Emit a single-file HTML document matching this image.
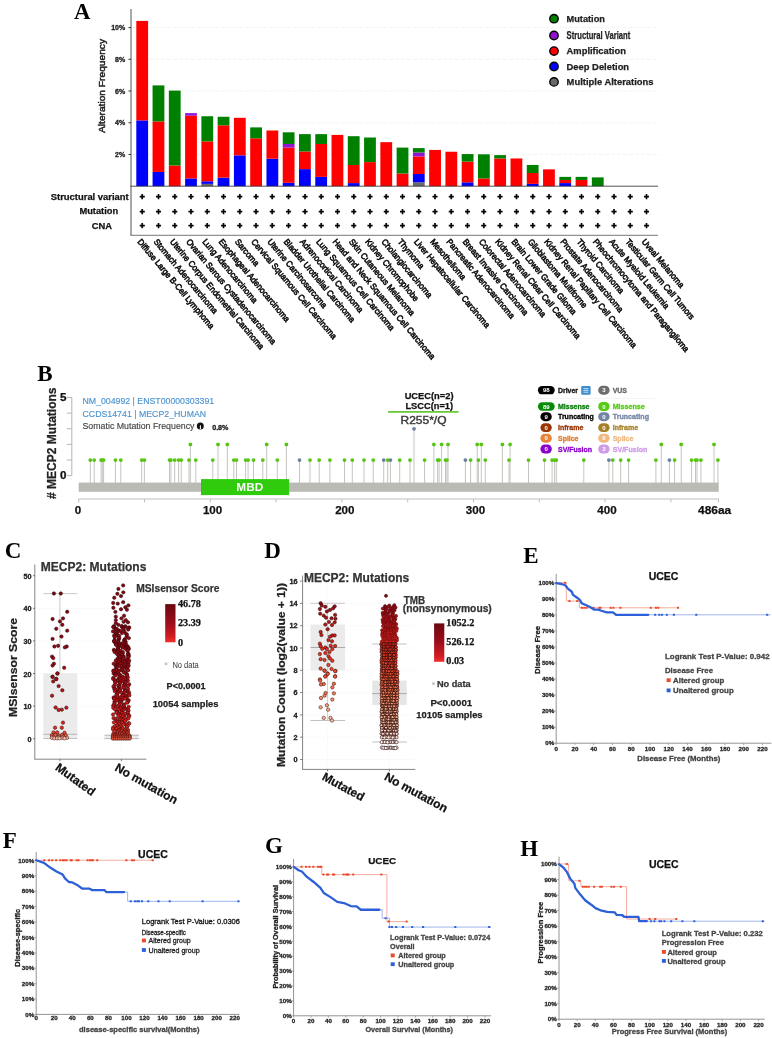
<!DOCTYPE html>
<html lang="en"><head><meta charset="utf-8"><title>MECP2 alteration figure</title>
<style>html,body{margin:0;padding:0;background:#fff}svg{display:block;font-family:"Liberation Sans",sans-serif;filter:blur(0.45px)}</style>
</head><body>
<svg width="772" height="1038" viewBox="0 0 772 1038">
<rect width="772" height="1038" fill="#fff"/>
<g id="panelA">
<text x="74" y="18.6" font-size="22.8" font-weight="bold" font-family="Liberation Serif, serif">A</text>
<line x1="131" y1="154.48" x2="660" y2="154.48" stroke="#f0f0f0" stroke-width="0.8" stroke-dasharray="4 2"/>
<line x1="131" y1="122.76" x2="660" y2="122.76" stroke="#f0f0f0" stroke-width="0.8" stroke-dasharray="4 2"/>
<line x1="131" y1="91.04" x2="660" y2="91.04" stroke="#f0f0f0" stroke-width="0.8" stroke-dasharray="4 2"/>
<line x1="131" y1="59.32" x2="660" y2="59.32" stroke="#f0f0f0" stroke-width="0.8" stroke-dasharray="4 2"/>
<line x1="131" y1="27.6" x2="660" y2="27.6" stroke="#f0f0f0" stroke-width="0.8" stroke-dasharray="4 2"/>
<rect x="136.3" y="120.4" width="11.8" height="65.8" fill="#0000ff"/>
<rect x="136.3" y="20.9" width="11.8" height="99.5" fill="#ff0000"/>
<rect x="152.57" y="171.95" width="11.8" height="14.25" fill="#0000ff"/>
<rect x="152.57" y="121.43" width="11.8" height="50.52" fill="#ff0000"/>
<rect x="152.57" y="85.4" width="11.8" height="36.03" fill="#008000"/>
<rect x="168.84" y="165.47" width="11.8" height="20.73" fill="#ff0000"/>
<rect x="168.84" y="90.6" width="11.8" height="74.87" fill="#008000"/>
<rect x="185.11" y="178.43" width="11.8" height="7.77" fill="#0000ff"/>
<rect x="185.11" y="115.73" width="11.8" height="62.69" fill="#ff0000"/>
<rect x="185.11" y="113.14" width="11.8" height="2.59" fill="#9413d3"/>
<rect x="201.38" y="183.87" width="11.8" height="2.33" fill="#696969"/>
<rect x="201.38" y="181.28" width="11.8" height="2.59" fill="#0000ff"/>
<rect x="201.38" y="141.38" width="11.8" height="39.9" fill="#ff0000"/>
<rect x="201.38" y="116.25" width="11.8" height="25.13" fill="#008000"/>
<rect x="217.65" y="177.65" width="11.8" height="8.55" fill="#0000ff"/>
<rect x="217.65" y="125.32" width="11.8" height="52.33" fill="#ff0000"/>
<rect x="217.65" y="116.77" width="11.8" height="8.55" fill="#008000"/>
<rect x="233.92" y="155.37" width="11.8" height="30.83" fill="#0000ff"/>
<rect x="233.92" y="117.81" width="11.8" height="37.56" fill="#ff0000"/>
<rect x="250.19" y="138.27" width="11.8" height="47.93" fill="#ff0000"/>
<rect x="250.19" y="127.39" width="11.8" height="10.88" fill="#008000"/>
<rect x="266.46" y="158.74" width="11.8" height="27.46" fill="#0000ff"/>
<rect x="266.46" y="130.5" width="11.8" height="28.24" fill="#ff0000"/>
<rect x="282.73" y="182.83" width="11.8" height="3.37" fill="#0000ff"/>
<rect x="282.73" y="147.6" width="11.8" height="35.23" fill="#ff0000"/>
<rect x="282.73" y="143.97" width="11.8" height="3.63" fill="#9413d3"/>
<rect x="282.73" y="132.31" width="11.8" height="11.66" fill="#008000"/>
<rect x="299" y="169.1" width="11.8" height="17.1" fill="#0000ff"/>
<rect x="299" y="151.48" width="11.8" height="17.62" fill="#ff0000"/>
<rect x="299" y="134.13" width="11.8" height="17.36" fill="#008000"/>
<rect x="315.27" y="176.87" width="11.8" height="9.33" fill="#0000ff"/>
<rect x="315.27" y="143.97" width="11.8" height="32.9" fill="#ff0000"/>
<rect x="315.27" y="134.13" width="11.8" height="9.84" fill="#008000"/>
<rect x="331.54" y="134.9" width="11.8" height="51.3" fill="#ff0000"/>
<rect x="347.81" y="183.09" width="11.8" height="3.11" fill="#0000ff"/>
<rect x="347.81" y="164.96" width="11.8" height="18.13" fill="#ff0000"/>
<rect x="347.81" y="136.2" width="11.8" height="28.76" fill="#008000"/>
<rect x="364.08" y="162.11" width="11.8" height="24.09" fill="#ff0000"/>
<rect x="364.08" y="137.5" width="11.8" height="24.61" fill="#008000"/>
<rect x="380.35" y="142.16" width="11.8" height="44.04" fill="#ff0000"/>
<rect x="396.62" y="173.51" width="11.8" height="12.69" fill="#ff0000"/>
<rect x="396.62" y="147.6" width="11.8" height="25.91" fill="#008000"/>
<rect x="412.89" y="182.31" width="11.8" height="3.89" fill="#696969"/>
<rect x="412.89" y="174.02" width="11.8" height="8.29" fill="#0000ff"/>
<rect x="412.89" y="156.41" width="11.8" height="17.62" fill="#ff0000"/>
<rect x="412.89" y="152.52" width="11.8" height="3.89" fill="#9413d3"/>
<rect x="412.89" y="148.12" width="11.8" height="4.4" fill="#008000"/>
<rect x="429.16" y="149.93" width="11.8" height="36.27" fill="#ff0000"/>
<rect x="445.43" y="151.74" width="11.8" height="34.46" fill="#ff0000"/>
<rect x="461.7" y="182.31" width="11.8" height="3.89" fill="#0000ff"/>
<rect x="461.7" y="161.59" width="11.8" height="20.73" fill="#ff0000"/>
<rect x="461.7" y="154.08" width="11.8" height="7.51" fill="#008000"/>
<rect x="477.97" y="178.43" width="11.8" height="7.77" fill="#ff0000"/>
<rect x="477.97" y="154.33" width="11.8" height="24.09" fill="#008000"/>
<rect x="494.24" y="158.48" width="11.8" height="27.72" fill="#ff0000"/>
<rect x="494.24" y="155.11" width="11.8" height="3.37" fill="#008000"/>
<rect x="510.51" y="158.48" width="11.8" height="27.72" fill="#ff0000"/>
<rect x="526.78" y="183.87" width="11.8" height="2.33" fill="#0000ff"/>
<rect x="526.78" y="172.99" width="11.8" height="10.88" fill="#ff0000"/>
<rect x="526.78" y="164.96" width="11.8" height="8.03" fill="#008000"/>
<rect x="543.05" y="169.36" width="11.8" height="16.84" fill="#ff0000"/>
<rect x="559.32" y="183.09" width="11.8" height="3.11" fill="#0000ff"/>
<rect x="559.32" y="179.98" width="11.8" height="3.11" fill="#ff0000"/>
<rect x="559.32" y="176.87" width="11.8" height="3.11" fill="#008000"/>
<rect x="575.59" y="179.98" width="11.8" height="6.22" fill="#ff0000"/>
<rect x="575.59" y="176.87" width="11.8" height="3.11" fill="#008000"/>
<rect x="591.86" y="177.39" width="11.8" height="8.81" fill="#008000"/>
<line x1="131" y1="9" x2="131" y2="235.3" stroke="#333" stroke-width="0.85"/>
<line x1="130.5" y1="186.2" x2="658" y2="186.2" stroke="#333" stroke-width="0.85"/>
<line x1="130.5" y1="235.3" x2="658" y2="235.3" stroke="#555" stroke-width="0.8"/>
<line x1="128.5" y1="154.48" x2="131" y2="154.48" stroke="#333" stroke-width="1"/>
<text x="125.2" y="156.98" font-size="7" font-weight="bold" fill="#222" text-anchor="end" stroke="#222" stroke-width="0.3">2%</text>
<line x1="128.5" y1="122.76" x2="131" y2="122.76" stroke="#333" stroke-width="1"/>
<text x="125.2" y="125.26" font-size="7" font-weight="bold" fill="#222" text-anchor="end" stroke="#222" stroke-width="0.3">4%</text>
<line x1="128.5" y1="91.04" x2="131" y2="91.04" stroke="#333" stroke-width="1"/>
<text x="125.2" y="93.54" font-size="7" font-weight="bold" fill="#222" text-anchor="end" stroke="#222" stroke-width="0.3">6%</text>
<line x1="128.5" y1="59.32" x2="131" y2="59.32" stroke="#333" stroke-width="1"/>
<text x="125.2" y="61.82" font-size="7" font-weight="bold" fill="#222" text-anchor="end" stroke="#222" stroke-width="0.3">8%</text>
<line x1="128.5" y1="27.6" x2="131" y2="27.6" stroke="#333" stroke-width="1"/>
<text x="125.2" y="30.1" font-size="7" font-weight="bold" fill="#222" text-anchor="end" stroke="#222" stroke-width="0.3">10%</text>
<text x="105.3" y="86" font-size="8.9" fill="#222" text-anchor="middle" transform="rotate(-90 105.3 86)" textLength="94" lengthAdjust="spacingAndGlyphs" stroke="#222" stroke-width="0.45">Alteration Frequency</text>
<text x="50.8" y="199.8" font-size="9.4" font-weight="bold" fill="#111" textLength="77.9" lengthAdjust="spacingAndGlyphs" stroke="#111" stroke-width="0.25">Structural variant</text>
<text x="79.4" y="214.3" font-size="9.4" font-weight="bold" fill="#111" textLength="38.7" lengthAdjust="spacingAndGlyphs" stroke="#111" stroke-width="0.25">Mutation</text>
<text x="91.8" y="228.6" font-size="9.4" font-weight="bold" fill="#111" textLength="20.3" lengthAdjust="spacingAndGlyphs" stroke="#111" stroke-width="0.25">CNA</text>
<text x="142.2 158.47 174.74 191.01 207.28 223.55 239.82 256.09 272.36 288.63 304.9 321.17 337.44 353.71 369.98 386.25 402.52 418.79 435.06 451.33 467.6 483.87 500.14 516.41 532.68 548.95 565.22 581.49 597.76 614.03 630.3 646.57" y="200.35" font-size="8.6" font-weight="bold" text-anchor="middle" stroke="#000" stroke-width="0.7">++++++++++++++++++++++++++++++++</text>
<text x="142.2 158.47 174.74 191.01 207.28 223.55 239.82 256.09 272.36 288.63 304.9 321.17 337.44 353.71 369.98 386.25 402.52 418.79 435.06 451.33 467.6 483.87 500.14 516.41 532.68 548.95 565.22 581.49 597.76 614.03 630.3 646.57" y="214.85" font-size="8.6" font-weight="bold" text-anchor="middle" stroke="#000" stroke-width="0.7">++++++++++++++++++++++++++++++++</text>
<text x="142.2 158.47 174.74 191.01 207.28 223.55 239.82 256.09 272.36 288.63 304.9 321.17 337.44 353.71 369.98 386.25 402.52 418.79 435.06 451.33 467.6 483.87 500.14 516.41 532.68 548.95 565.22 581.49 597.76 614.03 630.3 646.57" y="229.35" font-size="8.6" font-weight="bold" text-anchor="middle" stroke="#000" stroke-width="0.7">++++++++++++++++++++++++++++++++</text>
<text transform="translate(136.9 241.9) rotate(50) scale(0.942 1)" font-size="8.6" fill="#111" stroke="#111" stroke-width="0.6">Diffuse Large B-Cell Lymphoma</text>
<text transform="translate(153.17 241.9) rotate(50) scale(0.942 1)" font-size="8.6" fill="#111" stroke="#111" stroke-width="0.6">Stomach Adenocarcinoma</text>
<text transform="translate(169.44 241.9) rotate(50) scale(0.942 1)" font-size="8.6" fill="#111" stroke="#111" stroke-width="0.6">Uterine Corpus Endometrial Carcinoma</text>
<text transform="translate(185.71 241.9) rotate(50) scale(0.942 1)" font-size="8.6" fill="#111" stroke="#111" stroke-width="0.6">Ovarian Serous Cystadenocarcinoma</text>
<text transform="translate(201.98 241.9) rotate(50) scale(0.942 1)" font-size="8.6" fill="#111" stroke="#111" stroke-width="0.6">Lung Adenocarcinoma</text>
<text transform="translate(218.25 241.9) rotate(50) scale(0.942 1)" font-size="8.6" fill="#111" stroke="#111" stroke-width="0.6">Esophageal Adenocarcinoma</text>
<text transform="translate(234.52 241.9) rotate(50) scale(0.942 1)" font-size="8.6" fill="#111" stroke="#111" stroke-width="0.6">Sarcoma</text>
<text transform="translate(250.79 241.9) rotate(50) scale(0.942 1)" font-size="8.6" fill="#111" stroke="#111" stroke-width="0.6">Cervical Squamous Cell Carcinoma</text>
<text transform="translate(267.06 241.9) rotate(50) scale(0.942 1)" font-size="8.6" fill="#111" stroke="#111" stroke-width="0.6">Uterine Carcinosarcoma</text>
<text transform="translate(283.33 241.9) rotate(50) scale(0.942 1)" font-size="8.6" fill="#111" stroke="#111" stroke-width="0.6">Bladder Urothelial Carcinoma</text>
<text transform="translate(299.6 241.9) rotate(50) scale(0.942 1)" font-size="8.6" fill="#111" stroke="#111" stroke-width="0.6">Adrenocortical Carcinoma</text>
<text transform="translate(315.87 241.9) rotate(50) scale(0.942 1)" font-size="8.6" fill="#111" stroke="#111" stroke-width="0.6">Lung Squamous Cell Carcinoma</text>
<text transform="translate(332.14 241.9) rotate(50) scale(0.942 1)" font-size="8.6" fill="#111" stroke="#111" stroke-width="0.6">Head and Neck Squamous Cell Carcinoma</text>
<text transform="translate(348.41 241.9) rotate(50) scale(0.942 1)" font-size="8.6" fill="#111" stroke="#111" stroke-width="0.6">Skin Cutaneous Melanoma</text>
<text transform="translate(364.68 241.9) rotate(50) scale(0.942 1)" font-size="8.6" fill="#111" stroke="#111" stroke-width="0.6">Kidney Chromophobe</text>
<text transform="translate(380.95 241.9) rotate(50) scale(0.942 1)" font-size="8.6" fill="#111" stroke="#111" stroke-width="0.6">Cholangiocarcinoma</text>
<text transform="translate(397.22 241.9) rotate(50) scale(0.942 1)" font-size="8.6" fill="#111" stroke="#111" stroke-width="0.6">Thymoma</text>
<text transform="translate(413.49 241.9) rotate(50) scale(0.942 1)" font-size="8.6" fill="#111" stroke="#111" stroke-width="0.6">Liver Hepatocellular Carcinoma</text>
<text transform="translate(429.76 241.9) rotate(50) scale(0.942 1)" font-size="8.6" fill="#111" stroke="#111" stroke-width="0.6">Mesothelioma</text>
<text transform="translate(446.03 241.9) rotate(50) scale(0.942 1)" font-size="8.6" fill="#111" stroke="#111" stroke-width="0.6">Pancreatic Adenocarcinoma</text>
<text transform="translate(462.3 241.9) rotate(50) scale(0.942 1)" font-size="8.6" fill="#111" stroke="#111" stroke-width="0.6">Breast Invasive Carcinoma</text>
<text transform="translate(478.57 241.9) rotate(50) scale(0.942 1)" font-size="8.6" fill="#111" stroke="#111" stroke-width="0.6">Colorectal Adenocarcinoma</text>
<text transform="translate(494.84 241.9) rotate(50) scale(0.942 1)" font-size="8.6" fill="#111" stroke="#111" stroke-width="0.6">Kidney Renal Clear Cell Carcinoma</text>
<text transform="translate(511.11 241.9) rotate(50) scale(0.942 1)" font-size="8.6" fill="#111" stroke="#111" stroke-width="0.6">Brain Lower Grade Glioma</text>
<text transform="translate(527.38 241.9) rotate(50) scale(0.942 1)" font-size="8.6" fill="#111" stroke="#111" stroke-width="0.6">Glioblastoma Multiforme</text>
<text transform="translate(543.65 241.9) rotate(50) scale(0.942 1)" font-size="8.6" fill="#111" stroke="#111" stroke-width="0.6">Kidney Renal Papillary Cell Carcinoma</text>
<text transform="translate(559.92 241.9) rotate(50) scale(0.942 1)" font-size="8.6" fill="#111" stroke="#111" stroke-width="0.6">Prostate Adenocarcinoma</text>
<text transform="translate(576.19 241.9) rotate(50) scale(0.942 1)" font-size="8.6" fill="#111" stroke="#111" stroke-width="0.6">Thyroid Carcinoma</text>
<text transform="translate(592.46 241.9) rotate(50) scale(0.942 1)" font-size="8.6" fill="#111" stroke="#111" stroke-width="0.6">Pheochromocytoma and Paraganglioma</text>
<text transform="translate(608.73 241.9) rotate(50) scale(0.942 1)" font-size="8.6" fill="#111" stroke="#111" stroke-width="0.6">Acute Myeloid Leukemia</text>
<text transform="translate(625 241.9) rotate(50) scale(0.942 1)" font-size="8.6" fill="#111" stroke="#111" stroke-width="0.6">Testicular Germ Cell Tumors</text>
<text transform="translate(641.27 241.9) rotate(50) scale(0.942 1)" font-size="8.6" fill="#111" stroke="#111" stroke-width="0.6">Uveal Melanoma</text>
<circle cx="554" cy="18.7" r="4.2" fill="#008000" stroke="#000" stroke-width="1.4"/>
<text x="566.6" y="22" font-size="9.2" font-weight="bold" fill="#222" textLength="38.3" lengthAdjust="spacingAndGlyphs" stroke="#222" stroke-width="0.25">Mutation</text>
<circle cx="554" cy="35.5" r="4.2" fill="#9413d3" stroke="#000" stroke-width="1.4"/>
<text x="566.6" y="39.2" font-size="10.8" font-weight="bold" fill="#222" textLength="63.7" lengthAdjust="spacingAndGlyphs" stroke="#222" stroke-width="0.25">Structural Variant</text>
<circle cx="554" cy="51.1" r="4.2" fill="#ff0000" stroke="#000" stroke-width="1.4"/>
<text x="566.6" y="54.4" font-size="9.2" font-weight="bold" fill="#222" textLength="59.3" lengthAdjust="spacingAndGlyphs" stroke="#222" stroke-width="0.25">Amplification</text>
<circle cx="554" cy="66.5" r="4.2" fill="#0000ff" stroke="#000" stroke-width="1.4"/>
<text x="566.6" y="69.8" font-size="9.2" font-weight="bold" fill="#222" textLength="62.5" lengthAdjust="spacingAndGlyphs" stroke="#222" stroke-width="0.25">Deep Deletion</text>
<circle cx="554" cy="81.9" r="4.2" fill="#696969" stroke="#000" stroke-width="1.4"/>
<text x="566.6" y="85.2" font-size="9.2" font-weight="bold" fill="#222" textLength="87" lengthAdjust="spacingAndGlyphs" stroke="#222" stroke-width="0.25">Multiple Alterations</text>
</g>
<g id="panelB">
<text x="44.8" y="381" font-size="23" font-weight="bold" text-anchor="middle" font-family="Liberation Serif, serif">B</text>
<line x1="71.8" y1="397.5" x2="71.8" y2="475.6" stroke="#b5b5b5" stroke-width="1"/>
<line x1="66.8" y1="475.6" x2="71.8" y2="475.6" stroke="#b5b5b5" stroke-width="1"/>
<line x1="66.8" y1="459.98" x2="71.8" y2="459.98" stroke="#b5b5b5" stroke-width="1"/>
<line x1="66.8" y1="444.36" x2="71.8" y2="444.36" stroke="#b5b5b5" stroke-width="1"/>
<line x1="66.8" y1="428.74" x2="71.8" y2="428.74" stroke="#b5b5b5" stroke-width="1"/>
<line x1="66.8" y1="413.12" x2="71.8" y2="413.12" stroke="#b5b5b5" stroke-width="1"/>
<line x1="66.8" y1="397.5" x2="71.8" y2="397.5" stroke="#b5b5b5" stroke-width="1"/>
<text x="63.2" y="401.1" font-size="10.3" font-weight="bold" fill="#111" text-anchor="middle" textLength="6.5" lengthAdjust="spacingAndGlyphs" stroke="#111" stroke-width="0.25">5</text>
<text x="63.2" y="479.2" font-size="10.3" font-weight="bold" fill="#111" text-anchor="middle" textLength="6.5" lengthAdjust="spacingAndGlyphs" stroke="#111" stroke-width="0.25">0</text>
<text x="56.4" y="443.2" font-size="12.4" font-weight="bold" fill="#222" text-anchor="middle" transform="rotate(-90 56.4 443.2)" textLength="111.5" lengthAdjust="spacingAndGlyphs" stroke="#222" stroke-width="0.25"># MECP2 Mutations</text>
<text x="82.5" y="403.9" font-size="9.1" fill="#4d94d1" textLength="131.7" lengthAdjust="spacingAndGlyphs" stroke="#4d94d1" stroke-width="0.15">NM_004992 | ENST00000303391</text>
<text x="82.5" y="416.7" font-size="9.1" fill="#4d94d1" textLength="123.7" lengthAdjust="spacingAndGlyphs" stroke="#4d94d1" stroke-width="0.15">CCDS14741 | MECP2_HUMAN</text>
<text x="82.5" y="428.5" font-size="9" fill="#444" textLength="112" lengthAdjust="spacingAndGlyphs" stroke="#444" stroke-width="0.15">Somatic Mutation Frequency</text>
<circle cx="200.3" cy="426" r="3.5" fill="#111"/>
<text x="200.3" y="428.5" font-size="6.5" font-weight="bold" fill="#fff" text-anchor="middle" font-family="Liberation Serif, serif">i</text>
<text x="212.2" y="429.6" font-size="7.1" font-weight="bold" fill="#222" textLength="16.2" lengthAdjust="spacingAndGlyphs" stroke="#222" stroke-width="0.3">0.8%</text>
<path d="M90.3 460.08V483.6M94.2 460.08V483.6M101.1 460.08V483.6M102.3 460.08V483.6M103.6 460.08V483.6M115.4 460.08V483.6M120.8 460.08V483.6M141.7 460.08V483.6M144.4 460.08V483.6M169.5 460.08V483.6M170.9 460.08V483.6M174.7 460.08V483.6M178.6 460.08V483.6M181.3 460.08V483.6M189 460.08V483.6M195.8 460.08V483.6M212.8 460.08V483.6M233.8 460.08V483.6M236.5 460.08V483.6M245.6 460.08V483.6M248.1 460.08V483.6M253.5 460.08V483.6M262.8 460.08V483.6M277.3 460.08V483.6M310 460.08V483.6M319.2 460.08V483.6M329.9 460.08V483.6M344.5 460.08V483.6M352.3 460.08V483.6M364 460.08V483.6M373.2 460.08V483.6M387.7 460.08V483.6M399.7 460.08V483.6M410 460.08V483.6M424.6 460.08V483.6M437.6 460.08V483.6M439.1 460.08V483.6M445.5 460.08V483.6M446.9 460.08V483.6M470.6 460.08V483.6M478.4 460.08V483.6M485.3 460.08V483.6M509 460.08V483.6M528.5 460.08V483.6M544.5 460.08V483.6M552.1 460.08V483.6M554.6 460.08V483.6M556.3 460.08V483.6M583.8 460.08V483.6M612.8 460.08V483.6M620.7 460.08V483.6M628.6 460.08V483.6M655.9 460.08V483.6M674.6 460.08V483.6M691.6 460.08V483.6M695.5 460.08V483.6M697 460.08V483.6M700.9 460.08V483.6M717.9 460.08V483.6M299.5 460.08V483.6M383.7 460.08V483.6M390.4 460.08V483.6M465.4 460.08V483.6M608.9 460.08V483.6M669.4 460.08V483.6M190.4 444.46V483.6M218 444.46V483.6M227.3 444.46V483.6M266.7 444.46V483.6M286.4 444.46V483.6M433.9 444.46V483.6M441.6 444.46V483.6M448 444.46V483.6M477.2 444.46V483.6M481.3 444.46V483.6M502.4 444.46V483.6M510.1 444.46V483.6M661.3 444.46V483.6M681.2 444.46V483.6M714 444.46V483.6M414 428.84V483.6" stroke="#bebeb8" stroke-width="0.9" fill="none"/>
<circle cx="90.3" cy="460.08" r="1.9" fill="#58c414"/>
<circle cx="94.2" cy="460.08" r="1.9" fill="#58c414"/>
<circle cx="101.1" cy="460.08" r="1.9" fill="#58c414"/>
<circle cx="102.3" cy="460.08" r="1.9" fill="#58c414"/>
<circle cx="103.6" cy="460.08" r="1.9" fill="#58c414"/>
<circle cx="115.4" cy="460.08" r="1.9" fill="#58c414"/>
<circle cx="120.8" cy="460.08" r="1.9" fill="#58c414"/>
<circle cx="141.7" cy="460.08" r="1.9" fill="#58c414"/>
<circle cx="144.4" cy="460.08" r="1.9" fill="#58c414"/>
<circle cx="169.5" cy="460.08" r="1.9" fill="#58c414"/>
<circle cx="170.9" cy="460.08" r="1.9" fill="#58c414"/>
<circle cx="174.7" cy="460.08" r="1.9" fill="#58c414"/>
<circle cx="178.6" cy="460.08" r="1.9" fill="#58c414"/>
<circle cx="181.3" cy="460.08" r="1.9" fill="#58c414"/>
<circle cx="189" cy="460.08" r="1.9" fill="#58c414"/>
<circle cx="195.8" cy="460.08" r="1.9" fill="#58c414"/>
<circle cx="212.8" cy="460.08" r="1.9" fill="#58c414"/>
<circle cx="233.8" cy="460.08" r="1.9" fill="#58c414"/>
<circle cx="236.5" cy="460.08" r="1.9" fill="#58c414"/>
<circle cx="245.6" cy="460.08" r="1.9" fill="#58c414"/>
<circle cx="248.1" cy="460.08" r="1.9" fill="#58c414"/>
<circle cx="253.5" cy="460.08" r="1.9" fill="#58c414"/>
<circle cx="262.8" cy="460.08" r="1.9" fill="#58c414"/>
<circle cx="277.3" cy="460.08" r="1.9" fill="#58c414"/>
<circle cx="310" cy="460.08" r="1.9" fill="#58c414"/>
<circle cx="319.2" cy="460.08" r="1.9" fill="#58c414"/>
<circle cx="329.9" cy="460.08" r="1.9" fill="#58c414"/>
<circle cx="344.5" cy="460.08" r="1.9" fill="#58c414"/>
<circle cx="352.3" cy="460.08" r="1.9" fill="#58c414"/>
<circle cx="364" cy="460.08" r="1.9" fill="#58c414"/>
<circle cx="373.2" cy="460.08" r="1.9" fill="#58c414"/>
<circle cx="387.7" cy="460.08" r="1.9" fill="#58c414"/>
<circle cx="399.7" cy="460.08" r="1.9" fill="#58c414"/>
<circle cx="410" cy="460.08" r="1.9" fill="#58c414"/>
<circle cx="424.6" cy="460.08" r="1.9" fill="#58c414"/>
<circle cx="437.6" cy="460.08" r="1.9" fill="#58c414"/>
<circle cx="439.1" cy="460.08" r="1.9" fill="#58c414"/>
<circle cx="445.5" cy="460.08" r="1.9" fill="#58c414"/>
<circle cx="446.9" cy="460.08" r="1.9" fill="#58c414"/>
<circle cx="470.6" cy="460.08" r="1.9" fill="#58c414"/>
<circle cx="478.4" cy="460.08" r="1.9" fill="#58c414"/>
<circle cx="485.3" cy="460.08" r="1.9" fill="#58c414"/>
<circle cx="509" cy="460.08" r="1.9" fill="#58c414"/>
<circle cx="528.5" cy="460.08" r="1.9" fill="#58c414"/>
<circle cx="544.5" cy="460.08" r="1.9" fill="#58c414"/>
<circle cx="552.1" cy="460.08" r="1.9" fill="#58c414"/>
<circle cx="554.6" cy="460.08" r="1.9" fill="#58c414"/>
<circle cx="556.3" cy="460.08" r="1.9" fill="#58c414"/>
<circle cx="583.8" cy="460.08" r="1.9" fill="#58c414"/>
<circle cx="612.8" cy="460.08" r="1.9" fill="#58c414"/>
<circle cx="620.7" cy="460.08" r="1.9" fill="#58c414"/>
<circle cx="628.6" cy="460.08" r="1.9" fill="#58c414"/>
<circle cx="655.9" cy="460.08" r="1.9" fill="#58c414"/>
<circle cx="674.6" cy="460.08" r="1.9" fill="#58c414"/>
<circle cx="691.6" cy="460.08" r="1.9" fill="#58c414"/>
<circle cx="695.5" cy="460.08" r="1.9" fill="#58c414"/>
<circle cx="697" cy="460.08" r="1.9" fill="#58c414"/>
<circle cx="700.9" cy="460.08" r="1.9" fill="#58c414"/>
<circle cx="717.9" cy="460.08" r="1.9" fill="#58c414"/>
<circle cx="299.5" cy="460.08" r="1.9" fill="#6f7f9f"/>
<circle cx="383.7" cy="460.08" r="1.9" fill="#6f7f9f"/>
<circle cx="390.4" cy="460.08" r="1.9" fill="#6f7f9f"/>
<circle cx="465.4" cy="460.08" r="1.9" fill="#6f7f9f"/>
<circle cx="608.9" cy="460.08" r="1.9" fill="#6f7f9f"/>
<circle cx="669.4" cy="460.08" r="1.9" fill="#6f7f9f"/>
<circle cx="190.4" cy="444.46" r="1.9" fill="#58c414"/>
<circle cx="218" cy="444.46" r="1.9" fill="#58c414"/>
<circle cx="227.3" cy="444.46" r="1.9" fill="#58c414"/>
<circle cx="266.7" cy="444.46" r="1.9" fill="#58c414"/>
<circle cx="286.4" cy="444.46" r="1.9" fill="#58c414"/>
<circle cx="433.9" cy="444.46" r="1.9" fill="#58c414"/>
<circle cx="441.6" cy="444.46" r="1.9" fill="#58c414"/>
<circle cx="448" cy="444.46" r="1.9" fill="#58c414"/>
<circle cx="477.2" cy="444.46" r="1.9" fill="#58c414"/>
<circle cx="481.3" cy="444.46" r="1.9" fill="#58c414"/>
<circle cx="502.4" cy="444.46" r="1.9" fill="#58c414"/>
<circle cx="510.1" cy="444.46" r="1.9" fill="#58c414"/>
<circle cx="661.3" cy="444.46" r="1.9" fill="#58c414"/>
<circle cx="681.2" cy="444.46" r="1.9" fill="#58c414"/>
<circle cx="714" cy="444.46" r="1.9" fill="#58c414"/>
<circle cx="414" cy="428.84" r="1.9" fill="#6f7f9f"/>
<rect x="78.7" y="482.6" width="640" height="9.2" fill="#babbb5"/>
<rect x="201" y="479.1" width="88.1" height="16" fill="#2fcb0c"/>
<text x="249.8" y="491.2" font-size="11.8" font-weight="bold" fill="#fff" text-anchor="middle">MBD</text>
<line x1="78.2" y1="499" x2="719" y2="499" stroke="#c0c0c0" stroke-width="1"/>
<line x1="78.7" y1="499" x2="78.7" y2="502.5" stroke="#c0c0c0" stroke-width="1"/>
<line x1="144.5" y1="499" x2="144.5" y2="502.5" stroke="#c0c0c0" stroke-width="1"/>
<line x1="210.3" y1="499" x2="210.3" y2="502.5" stroke="#c0c0c0" stroke-width="1"/>
<line x1="276.1" y1="499" x2="276.1" y2="502.5" stroke="#c0c0c0" stroke-width="1"/>
<line x1="341.9" y1="499" x2="341.9" y2="502.5" stroke="#c0c0c0" stroke-width="1"/>
<line x1="407.7" y1="499" x2="407.7" y2="502.5" stroke="#c0c0c0" stroke-width="1"/>
<line x1="473.5" y1="499" x2="473.5" y2="502.5" stroke="#c0c0c0" stroke-width="1"/>
<line x1="539.3" y1="499" x2="539.3" y2="502.5" stroke="#c0c0c0" stroke-width="1"/>
<line x1="605.1" y1="499" x2="605.1" y2="502.5" stroke="#c0c0c0" stroke-width="1"/>
<line x1="670.9" y1="499" x2="670.9" y2="502.5" stroke="#c0c0c0" stroke-width="1"/>
<line x1="718.5" y1="499" x2="718.5" y2="502.5" stroke="#c0c0c0" stroke-width="1"/>
<text x="77.9" y="514" font-size="11.6" font-weight="bold" fill="#111" text-anchor="middle" stroke="#111" stroke-width="0.25">0</text>
<text x="212.6" y="514" font-size="11.6" font-weight="bold" fill="#111" text-anchor="middle" stroke="#111" stroke-width="0.25">100</text>
<text x="344.8" y="514" font-size="11.6" font-weight="bold" fill="#111" text-anchor="middle" stroke="#111" stroke-width="0.25">200</text>
<text x="475.5" y="514" font-size="11.6" font-weight="bold" fill="#111" text-anchor="middle" stroke="#111" stroke-width="0.25">300</text>
<text x="607" y="514" font-size="11.6" font-weight="bold" fill="#111" text-anchor="middle" stroke="#111" stroke-width="0.25">400</text>
<text x="698" y="514" font-size="11.8" font-weight="bold" fill="#111" textLength="33.2" lengthAdjust="spacingAndGlyphs" stroke="#111" stroke-width="0.25">486aa</text>
<text x="429.1" y="399.4" font-size="9" font-weight="bold" fill="#111" text-anchor="middle" textLength="48.9" lengthAdjust="spacingAndGlyphs" stroke="#111" stroke-width="0.25">UCEC(n=2)</text>
<text x="429.3" y="409.1" font-size="9" font-weight="bold" fill="#111" text-anchor="middle" textLength="47.7" lengthAdjust="spacingAndGlyphs" stroke="#111" stroke-width="0.25">LSCC(n=1)</text>
<line x1="388.1" y1="411.9" x2="458.5" y2="411.9" stroke="#66c833" stroke-width="1.6"/>
<text x="400.5" y="423.5" font-size="10.3" fill="#3c3c3c" textLength="46" lengthAdjust="spacingAndGlyphs" stroke="#3c3c3c" stroke-width="0.4">R255*/Q</text>
<rect x="537.9" y="386.05" width="16.8" height="8.3" rx="4.15" fill="#000"/><text x="546.3" y="392.3" font-size="6" font-weight="bold" fill="#fff" text-anchor="middle">98</text>
<text x="558" y="392.7" font-size="7.1" font-weight="bold" fill="#111" textLength="20" lengthAdjust="spacingAndGlyphs" stroke="#111" stroke-width="0.3">Driver</text>
<rect x="598.2" y="385.75" width="11.4" height="8.9" rx="4.45" fill="#6e6e6e"/><text x="603.9" y="392.3" font-size="6" font-weight="bold" fill="#fff" text-anchor="middle">3</text>
<text x="612.7" y="392.7" font-size="7.1" font-weight="bold" fill="#666" textLength="14.3" lengthAdjust="spacingAndGlyphs" stroke="#666" stroke-width="0.3">VUS</text>
<rect x="537.9" y="402.35" width="16.8" height="8.3" rx="4.15" fill="#0a8a0a"/><text x="546.3" y="408.6" font-size="6" font-weight="bold" fill="#fff" text-anchor="middle">89</text>
<text x="558" y="409" font-size="7.1" font-weight="bold" fill="#0a7d0a" textLength="31.5" lengthAdjust="spacingAndGlyphs" stroke="#0a7d0a" stroke-width="0.3">Missense</text>
<rect x="598.2" y="402.05" width="11.4" height="8.9" rx="4.45" fill="#55cc11"/><text x="603.9" y="408.6" font-size="6" font-weight="bold" fill="#fff" text-anchor="middle">0</text>
<text x="612.7" y="409" font-size="7.1" font-weight="bold" fill="#55cc11" textLength="32.1" lengthAdjust="spacingAndGlyphs" stroke="#55cc11" stroke-width="0.3">Missense</text>
<rect x="540.4" y="412.25" width="11.4" height="8.9" rx="4.45" fill="#000"/><text x="546.1" y="418.8" font-size="6" font-weight="bold" fill="#fff" text-anchor="middle">9</text>
<text x="558" y="419.2" font-size="7.1" font-weight="bold" textLength="35.8" lengthAdjust="spacingAndGlyphs" stroke="#000" stroke-width="0.3">Truncating</text>
<rect x="598.2" y="412.25" width="11.4" height="8.9" rx="4.45" fill="#7385a5"/><text x="603.9" y="418.8" font-size="6" font-weight="bold" fill="#fff" text-anchor="middle">0</text>
<text x="612.7" y="419.2" font-size="7.1" font-weight="bold" fill="#7385a5" textLength="36.3" lengthAdjust="spacingAndGlyphs" stroke="#7385a5" stroke-width="0.3">Truncating</text>
<rect x="540.4" y="423.15" width="11.4" height="8.9" rx="4.45" fill="#993404"/><text x="546.1" y="429.7" font-size="6" font-weight="bold" fill="#fff" text-anchor="middle">0</text>
<text x="558" y="430.1" font-size="7.1" font-weight="bold" fill="#993404" textLength="25.3" lengthAdjust="spacingAndGlyphs" stroke="#993404" stroke-width="0.3">Inframe</text>
<rect x="598.2" y="423.15" width="11.4" height="8.9" rx="4.45" fill="#a68028"/><text x="603.9" y="429.7" font-size="6" font-weight="bold" fill="#fff" text-anchor="middle">0</text>
<text x="612.7" y="430.1" font-size="7.1" font-weight="bold" fill="#a68028" textLength="25.5" lengthAdjust="spacingAndGlyphs" stroke="#a68028" stroke-width="0.3">Inframe</text>
<rect x="540.4" y="433.75" width="11.4" height="8.9" rx="4.45" fill="#e8843a"/><text x="546.1" y="440.3" font-size="6" font-weight="bold" fill="#fff" text-anchor="middle">0</text>
<text x="558" y="440.7" font-size="7.1" font-weight="bold" fill="#e07b2e" textLength="20.5" lengthAdjust="spacingAndGlyphs" stroke="#e07b2e" stroke-width="0.3">Splice</text>
<rect x="598.2" y="433.75" width="11.4" height="8.9" rx="4.45" fill="#f0b87f"/><text x="603.9" y="440.3" font-size="6" font-weight="bold" fill="#fff" text-anchor="middle">0</text>
<text x="612.7" y="440.7" font-size="7.1" font-weight="bold" fill="#f0b87f" textLength="20.7" lengthAdjust="spacingAndGlyphs" stroke="#f0b87f" stroke-width="0.3">Splice</text>
<rect x="540.4" y="444.55" width="11.4" height="8.9" rx="4.45" fill="#8b00c9"/><text x="546.1" y="451.1" font-size="6" font-weight="bold" fill="#fff" text-anchor="middle">0</text>
<text x="558" y="451.5" font-size="7.1" font-weight="bold" fill="#8b00c9" textLength="34" lengthAdjust="spacingAndGlyphs" stroke="#8b00c9" stroke-width="0.3">SV/Fusion</text>
<rect x="598.2" y="444.55" width="11.4" height="8.9" rx="4.45" fill="#cf9be9"/><text x="603.9" y="451.1" font-size="6" font-weight="bold" fill="#fff" text-anchor="middle">3</text>
<text x="612.7" y="451.5" font-size="7.1" font-weight="bold" fill="#cf9be9" textLength="34.6" lengthAdjust="spacingAndGlyphs" stroke="#cf9be9" stroke-width="0.3">SV/Fusion</text>
<line x1="538" y1="398.6" x2="655" y2="398.6" stroke="#efefef" stroke-width="0.8"/>
<rect x="581.2" y="385.9" width="9.4" height="8.9" rx="1.2" fill="#3d8ccc"/>
<path d="M583.4 388.6h5.1M583.4 390.4h5.1M583.4 392.2h5.1" stroke="#fff" stroke-width="0.7"/>
</g>
<g id="panelC">
<text x="13.1" y="558.3" font-size="23" font-weight="bold" text-anchor="middle" font-family="Liberation Serif, serif">C</text>
<line x1="34.8" y1="738.7" x2="147" y2="738.7" stroke="#f0f0f0" stroke-width="0.7" stroke-dasharray="2 2"/>
<line x1="34.8" y1="706.1" x2="147" y2="706.1" stroke="#f0f0f0" stroke-width="0.7" stroke-dasharray="2 2"/>
<line x1="34.8" y1="673.5" x2="147" y2="673.5" stroke="#f0f0f0" stroke-width="0.7" stroke-dasharray="2 2"/>
<line x1="34.8" y1="640.9" x2="147" y2="640.9" stroke="#f0f0f0" stroke-width="0.7" stroke-dasharray="2 2"/>
<line x1="34.8" y1="608.3" x2="147" y2="608.3" stroke="#f0f0f0" stroke-width="0.7" stroke-dasharray="2 2"/>
<line x1="34.8" y1="575.7" x2="147" y2="575.7" stroke="#f0f0f0" stroke-width="0.7" stroke-dasharray="2 2"/>
<line x1="59.9" y1="566" x2="59.9" y2="759.2" stroke="#f3f3f3" stroke-width="0.7" stroke-dasharray="2 2"/>
<line x1="121.4" y1="566" x2="121.4" y2="759.2" stroke="#f3f3f3" stroke-width="0.7" stroke-dasharray="2 2"/>
<rect x="43.3" y="673.2" width="34" height="65.3" fill="#ebebeb"/>
<line x1="43.3" y1="593.6" x2="77.3" y2="593.6" stroke="#bdbdbd" stroke-width="0.8"/>
<line x1="59.9" y1="593.6" x2="59.9" y2="673.2" stroke="#bdbdbd" stroke-width="0.8"/>
<line x1="43.3" y1="734.3" x2="77.3" y2="734.3" stroke="#a8a8a8" stroke-width="0.8"/>
<line x1="43.3" y1="738.5" x2="77.3" y2="738.5" stroke="#b5b5b5" stroke-width="0.8"/>
<rect x="104.5" y="735.2" width="34.2" height="3.3" fill="#ebebeb"/>
<line x1="104.5" y1="735.2" x2="138.7" y2="735.2" stroke="#a8a8a8" stroke-width="0.8"/>
<line x1="104.5" y1="738.6" x2="138.7" y2="738.6" stroke="#a8a8a8" stroke-width="0.8"/>
<g stroke="#2a0406" stroke-width="0.5"><circle cx="53.91" cy="593.47" r="1.7" fill="#7d0512"/><circle cx="60.81" cy="593.47" r="1.7" fill="#7d0512"/><circle cx="67.21" cy="611.82" r="1.7" fill="#830613"/><circle cx="63" cy="618.38" r="1.7" fill="#850713"/><circle cx="52.56" cy="619.06" r="1.7" fill="#850713"/><circle cx="59.97" cy="621.41" r="1.7" fill="#860713"/><circle cx="62.32" cy="624.78" r="1.7" fill="#870714"/><circle cx="56.26" cy="628.82" r="1.7" fill="#880814"/><circle cx="67.21" cy="630.67" r="1.7" fill="#890814"/><circle cx="61.48" cy="636.57" r="1.7" fill="#8b0814"/><circle cx="52.56" cy="638.92" r="1.7" fill="#8d0914"/><circle cx="58.11" cy="645.82" r="1.7" fill="#900a15"/><circle cx="54.41" cy="646.5" r="1.7" fill="#910a15"/><circle cx="66.7" cy="646.5" r="1.7" fill="#910a15"/><circle cx="64.85" cy="647.34" r="1.7" fill="#910a15"/><circle cx="52.05" cy="656.6" r="1.7" fill="#960b15"/><circle cx="53.23" cy="658.11" r="1.7" fill="#970c15"/><circle cx="53.91" cy="663.67" r="1.7" fill="#9a0c15"/><circle cx="52.56" cy="665.52" r="1.7" fill="#9c0d16"/><circle cx="64.18" cy="667.71" r="1.7" fill="#9d0d16"/><circle cx="57.44" cy="673.43" r="1.7" fill="#a00e16"/><circle cx="57.44" cy="673.47" r="1.7" fill="#a00e16"/><circle cx="52.56" cy="676.8" r="1.7" fill="#a40f16"/><circle cx="52.56" cy="676.84" r="1.7" fill="#a40f16"/><circle cx="56.26" cy="678.99" r="1.7" fill="#a61017"/><circle cx="56.26" cy="679.02" r="1.7" fill="#a61017"/><circle cx="53.23" cy="681.38" r="1.7" fill="#a91017"/><circle cx="58.62" cy="686.09" r="1.7" fill="#ae1218"/><circle cx="62.32" cy="690.3" r="1.7" fill="#b31318"/><circle cx="52.05" cy="695.69" r="1.7" fill="#b91519"/><circle cx="55.59" cy="707.47" r="1.7" fill="#c6191a"/><circle cx="66.36" cy="707.64" r="1.7" fill="#c6191a"/><circle cx="61.82" cy="709.66" r="1.7" fill="#c91a1b"/><circle cx="58.62" cy="710" r="1.7" fill="#ca1a1b"/><circle cx="63" cy="722.63" r="1.7" fill="#dc221e"/><circle cx="55.08" cy="727.68" r="1.7" fill="#e62e22"/><circle cx="61.82" cy="727.68" r="1.7" fill="#e62e22"/><circle cx="53.57" cy="732.39" r="1.7" fill="#ef452f"/><circle cx="57.27" cy="732.39" r="1.7" fill="#ef452f"/><circle cx="64.51" cy="732.73" r="1.7" fill="#f04831"/><circle cx="55.25" cy="734.92" r="1.7" fill="#f35b3f"/><circle cx="61.99" cy="734.92" r="1.7" fill="#f35b3f"/><circle cx="51.89" cy="735.25" r="1.7" fill="#f45e41"/><circle cx="65.69" cy="735.25" r="1.7" fill="#f45e41"/><circle cx="58.96" cy="735.76" r="1.7" fill="#f5694b"/><circle cx="53.06" cy="736.77" r="1.7" fill="#f88567"/><circle cx="63.33" cy="736.77" r="1.7" fill="#f88567"/><circle cx="58.28" cy="737.1" r="1.7" fill="#f98e70"/><circle cx="51.89" cy="737.78" r="1.7" fill="#fba98e"/><circle cx="61.99" cy="737.78" r="1.7" fill="#fba98e"/><circle cx="67.04" cy="737.78" r="1.7" fill="#fba98e"/><circle cx="54.41" cy="738.28" r="1.7" fill="#fdc2ac"/><circle cx="56.94" cy="738.28" r="1.7" fill="#fdc2ac"/><circle cx="59.46" cy="738.28" r="1.7" fill="#fdc2ac"/><circle cx="64.51" cy="738.28" r="1.7" fill="#fdc2ac"/></g>
<g stroke="#2a0406" stroke-width="0.5"><circle cx="123.19" cy="585.41" r="1.7" fill="#7a0412"/><circle cx="118.42" cy="588.88" r="1.7" fill="#7b0412"/><circle cx="123.36" cy="592.35" r="1.7" fill="#7d0512"/><circle cx="117.38" cy="593.82" r="1.7" fill="#7d0512"/><circle cx="121.02" cy="596.08" r="1.7" fill="#7e0512"/><circle cx="114.25" cy="597.72" r="1.7" fill="#7f0513"/><circle cx="123.19" cy="602.15" r="1.7" fill="#800513"/><circle cx="113.21" cy="602.93" r="1.7" fill="#800513"/><circle cx="117.72" cy="603.62" r="1.7" fill="#810513"/><circle cx="128.39" cy="605.36" r="1.7" fill="#810613"/><circle cx="125.36" cy="607.26" r="1.7" fill="#820613"/><circle cx="113.39" cy="607.78" r="1.7" fill="#820613"/><circle cx="121.02" cy="609.26" r="1.7" fill="#830613"/><circle cx="126.92" cy="609.69" r="1.7" fill="#830613"/><circle cx="115.38" cy="611.86" r="1.7" fill="#840613"/><circle cx="124.05" cy="615.76" r="1.7" fill="#850613"/><circle cx="115.82" cy="616.63" r="1.7" fill="#850713"/><circle cx="121.45" cy="618.37" r="1.7" fill="#860713"/><circle cx="125.79" cy="620.1" r="1.7" fill="#870713"/><circle cx="115.82" cy="620.1" r="1.7" fill="#870713"/><circle cx="123.62" cy="621.83" r="1.7" fill="#870713"/><circle cx="127.96" cy="622.27" r="1.7" fill="#880714"/><circle cx="115.82" cy="623.14" r="1.7" fill="#880714"/><circle cx="118.42" cy="624.87" r="1.7" fill="#880714"/><circle cx="121.75" cy="626.04" r="1.7" fill="#890714"/><circle cx="125.36" cy="626.17" r="1.7" fill="#890714"/><circle cx="113.94" cy="626.18" r="1.7" fill="#890714"/><circle cx="121.92" cy="626.92" r="1.7" fill="#890714"/><circle cx="113.82" cy="627.01" r="1.7" fill="#890714"/><circle cx="113.21" cy="627.04" r="1.7" fill="#890714"/><circle cx="129.26" cy="627.47" r="1.7" fill="#890714"/><circle cx="123.38" cy="627.55" r="1.7" fill="#890714"/><circle cx="127.96" cy="627.91" r="1.7" fill="#8a0714"/><circle cx="123.62" cy="628.77" r="1.7" fill="#8a0814"/><circle cx="116.68" cy="628.77" r="1.7" fill="#8a0814"/><circle cx="123.41" cy="628.88" r="1.7" fill="#8a0814"/><circle cx="115.46" cy="629.54" r="1.7" fill="#8a0814"/><circle cx="128.17" cy="629.57" r="1.7" fill="#8a0814"/><circle cx="118.77" cy="630.43" r="1.7" fill="#8b0814"/><circle cx="120.6" cy="631.1" r="1.7" fill="#8b0814"/><circle cx="113.02" cy="631.38" r="1.7" fill="#8b0814"/><circle cx="124.29" cy="631.47" r="1.7" fill="#8b0814"/><circle cx="117.61" cy="632.06" r="1.7" fill="#8b0814"/><circle cx="115.58" cy="632.91" r="1.7" fill="#8b0814"/><circle cx="121.97" cy="633.1" r="1.7" fill="#8c0814"/><circle cx="125.9" cy="633.69" r="1.7" fill="#8c0814"/><circle cx="115.73" cy="634.35" r="1.7" fill="#8c0814"/><circle cx="127.04" cy="634.75" r="1.7" fill="#8c0814"/><circle cx="117.83" cy="635.45" r="1.7" fill="#8d0814"/><circle cx="114.1" cy="635.58" r="1.7" fill="#8d0814"/><circle cx="119.16" cy="635.9" r="1.7" fill="#8d0814"/><circle cx="126.51" cy="637.09" r="1.7" fill="#8e0814"/><circle cx="114.74" cy="637.2" r="1.7" fill="#8e0814"/><circle cx="128.84" cy="638.1" r="1.7" fill="#8e0914"/><circle cx="119.26" cy="638.23" r="1.7" fill="#8f0914"/><circle cx="124.81" cy="639.2" r="1.7" fill="#8f0914"/><circle cx="118.41" cy="639.53" r="1.7" fill="#8f0914"/><circle cx="114.49" cy="640.18" r="1.7" fill="#900914"/><circle cx="124.12" cy="640.39" r="1.7" fill="#900914"/><circle cx="124.4" cy="640.54" r="1.7" fill="#900914"/><circle cx="118.46" cy="640.95" r="1.7" fill="#900914"/><circle cx="114.18" cy="641.2" r="1.7" fill="#910914"/><circle cx="125.47" cy="641.5" r="1.7" fill="#910914"/><circle cx="114.2" cy="641.56" r="1.7" fill="#910914"/><circle cx="117.96" cy="641.87" r="1.7" fill="#910914"/><circle cx="125.66" cy="642.9" r="1.7" fill="#920914"/><circle cx="121.97" cy="643.44" r="1.7" fill="#920914"/><circle cx="115.62" cy="643.46" r="1.7" fill="#920914"/><circle cx="119.28" cy="643.61" r="1.7" fill="#920914"/><circle cx="125.02" cy="643.68" r="1.7" fill="#920914"/><circle cx="116.22" cy="644.55" r="1.7" fill="#930a15"/><circle cx="115.94" cy="644.72" r="1.7" fill="#930a15"/><circle cx="119.49" cy="644.9" r="1.7" fill="#930a15"/><circle cx="126.16" cy="645.08" r="1.7" fill="#930a15"/><circle cx="118.84" cy="646.02" r="1.7" fill="#940a15"/><circle cx="124.06" cy="646.21" r="1.7" fill="#940a15"/><circle cx="127.68" cy="646.48" r="1.7" fill="#940a15"/><circle cx="122.38" cy="646.88" r="1.7" fill="#940a15"/><circle cx="126.9" cy="647.16" r="1.7" fill="#940a15"/><circle cx="118.49" cy="647.36" r="1.7" fill="#950a15"/><circle cx="122.81" cy="647.4" r="1.7" fill="#950a15"/><circle cx="128.32" cy="647.65" r="1.7" fill="#950a15"/><circle cx="117.7" cy="647.81" r="1.7" fill="#950a15"/><circle cx="125.13" cy="648.58" r="1.7" fill="#950a15"/><circle cx="128.92" cy="648.84" r="1.7" fill="#960a15"/><circle cx="117.74" cy="649.45" r="1.7" fill="#960a15"/><circle cx="113.88" cy="649.84" r="1.7" fill="#960a15"/><circle cx="126.93" cy="649.96" r="1.7" fill="#960a15"/><circle cx="118.61" cy="650.42" r="1.7" fill="#970a15"/><circle cx="114.29" cy="650.52" r="1.7" fill="#970a15"/><circle cx="127.66" cy="650.59" r="1.7" fill="#970a15"/><circle cx="120.6" cy="650.72" r="1.7" fill="#970b15"/><circle cx="122.51" cy="652.03" r="1.7" fill="#980b15"/><circle cx="114.61" cy="652.03" r="1.7" fill="#980b15"/><circle cx="117.43" cy="652.05" r="1.7" fill="#980b15"/><circle cx="123.03" cy="652.84" r="1.7" fill="#980b15"/><circle cx="119.54" cy="653.24" r="1.7" fill="#990b15"/><circle cx="128.19" cy="653.33" r="1.7" fill="#990b15"/><circle cx="116.83" cy="653.8" r="1.7" fill="#990b15"/><circle cx="120.47" cy="654.37" r="1.7" fill="#990b15"/><circle cx="128.44" cy="654.42" r="1.7" fill="#990b15"/><circle cx="127.87" cy="654.43" r="1.7" fill="#990b15"/><circle cx="121.98" cy="655.02" r="1.7" fill="#9a0b15"/><circle cx="118.45" cy="655.29" r="1.7" fill="#9a0b15"/><circle cx="128.83" cy="655.71" r="1.7" fill="#9a0b15"/><circle cx="123.91" cy="656.52" r="1.7" fill="#9b0b15"/><circle cx="119.25" cy="656.55" r="1.7" fill="#9b0b15"/><circle cx="128.34" cy="656.65" r="1.7" fill="#9b0b15"/><circle cx="122.95" cy="656.67" r="1.7" fill="#9b0b15"/><circle cx="119.89" cy="656.84" r="1.7" fill="#9b0b15"/><circle cx="128.33" cy="657.5" r="1.7" fill="#9b0c15"/><circle cx="121.81" cy="658.18" r="1.7" fill="#9c0c15"/><circle cx="117.72" cy="658.41" r="1.7" fill="#9c0c15"/><circle cx="122.9" cy="658.97" r="1.7" fill="#9c0c15"/><circle cx="117.96" cy="659.34" r="1.7" fill="#9d0c15"/><circle cx="126.49" cy="659.35" r="1.7" fill="#9d0c15"/><circle cx="119.94" cy="659.88" r="1.7" fill="#9d0c15"/><circle cx="127.22" cy="660.27" r="1.7" fill="#9d0c15"/><circle cx="115.8" cy="660.57" r="1.7" fill="#9d0c15"/><circle cx="129.11" cy="660.58" r="1.7" fill="#9d0c15"/><circle cx="120.72" cy="661.37" r="1.7" fill="#9e0c15"/><circle cx="123.7" cy="661.39" r="1.7" fill="#9e0c15"/><circle cx="123.99" cy="661.56" r="1.7" fill="#9e0c15"/><circle cx="118.87" cy="661.82" r="1.7" fill="#9e0c15"/><circle cx="127.7" cy="662.57" r="1.7" fill="#9f0c15"/><circle cx="128.55" cy="662.65" r="1.7" fill="#9f0c15"/><circle cx="121.8" cy="663.45" r="1.7" fill="#9f0c15"/><circle cx="116.64" cy="663.52" r="1.7" fill="#9f0c15"/><circle cx="125.04" cy="663.56" r="1.7" fill="#9f0c15"/><circle cx="113.7" cy="663.69" r="1.7" fill="#9f0c15"/><circle cx="120.13" cy="663.71" r="1.7" fill="#9f0c15"/><circle cx="117.5" cy="664.95" r="1.7" fill="#a00d16"/><circle cx="125.64" cy="665.4" r="1.7" fill="#a10d16"/><circle cx="123.71" cy="665.49" r="1.7" fill="#a10d16"/><circle cx="128.65" cy="665.5" r="1.7" fill="#a10d16"/><circle cx="119.63" cy="665.93" r="1.7" fill="#a10d16"/><circle cx="115.85" cy="666.03" r="1.7" fill="#a10d16"/><circle cx="116.29" cy="666.97" r="1.7" fill="#a20d16"/><circle cx="127.73" cy="667.02" r="1.7" fill="#a20d16"/><circle cx="123.57" cy="667.07" r="1.7" fill="#a20d16"/><circle cx="116.97" cy="667.53" r="1.7" fill="#a20d16"/><circle cx="121.7" cy="667.7" r="1.7" fill="#a20d16"/><circle cx="126.24" cy="668.33" r="1.7" fill="#a30d16"/><circle cx="122.6" cy="668.93" r="1.7" fill="#a30d16"/><circle cx="127.08" cy="669.01" r="1.7" fill="#a30d16"/><circle cx="115.98" cy="669.31" r="1.7" fill="#a30d16"/><circle cx="116.43" cy="669.94" r="1.7" fill="#a40d16"/><circle cx="121.38" cy="669.97" r="1.7" fill="#a40d16"/><circle cx="128.18" cy="670.24" r="1.7" fill="#a40d16"/><circle cx="113.44" cy="670.56" r="1.7" fill="#a40e16"/><circle cx="119.24" cy="670.71" r="1.7" fill="#a40e16"/><circle cx="113.48" cy="671.49" r="1.7" fill="#a50e16"/><circle cx="118.28" cy="671.49" r="1.7" fill="#a50e16"/><circle cx="123.45" cy="671.53" r="1.7" fill="#a50e16"/><circle cx="125.15" cy="672.34" r="1.7" fill="#a50e16"/><circle cx="123.9" cy="672.57" r="1.7" fill="#a50e16"/><circle cx="116.77" cy="673.26" r="1.7" fill="#a60e16"/><circle cx="113.69" cy="673.56" r="1.7" fill="#a60e16"/><circle cx="126.22" cy="673.59" r="1.7" fill="#a60e16"/><circle cx="115.68" cy="673.88" r="1.7" fill="#a60e16"/><circle cx="127.02" cy="674.42" r="1.7" fill="#a70e16"/><circle cx="119.63" cy="674.59" r="1.7" fill="#a70e16"/><circle cx="119.83" cy="674.78" r="1.7" fill="#a80e16"/><circle cx="115.41" cy="674.81" r="1.7" fill="#a80e16"/><circle cx="115.83" cy="675.42" r="1.7" fill="#a80f16"/><circle cx="127" cy="675.48" r="1.7" fill="#a90f16"/><circle cx="120.94" cy="676.15" r="1.7" fill="#a90f16"/><circle cx="122.56" cy="676.72" r="1.7" fill="#aa0f16"/><circle cx="127.81" cy="677.33" r="1.7" fill="#ab0f16"/><circle cx="119.33" cy="677.57" r="1.7" fill="#ab0f16"/><circle cx="124.62" cy="677.58" r="1.7" fill="#ab0f17"/><circle cx="113.26" cy="677.91" r="1.7" fill="#ac0f17"/><circle cx="121.29" cy="678.38" r="1.7" fill="#ac0f17"/><circle cx="122.14" cy="678.47" r="1.7" fill="#ac1017"/><circle cx="113.18" cy="678.91" r="1.7" fill="#ad1017"/><circle cx="118.26" cy="679.24" r="1.7" fill="#ad1017"/><circle cx="125.5" cy="679.48" r="1.7" fill="#ae1017"/><circle cx="119.85" cy="679.5" r="1.7" fill="#ae1017"/><circle cx="114.83" cy="680.16" r="1.7" fill="#af1017"/><circle cx="127.89" cy="680.56" r="1.7" fill="#af1017"/><circle cx="117.56" cy="680.81" r="1.7" fill="#af1017"/><circle cx="120.24" cy="681.46" r="1.7" fill="#b01017"/><circle cx="123.36" cy="681.51" r="1.7" fill="#b01017"/><circle cx="115.02" cy="681.53" r="1.7" fill="#b01017"/><circle cx="125.84" cy="681.77" r="1.7" fill="#b11117"/><circle cx="125.1" cy="682.42" r="1.7" fill="#b11117"/><circle cx="120.13" cy="682.61" r="1.7" fill="#b21117"/><circle cx="115.52" cy="682.75" r="1.7" fill="#b21117"/><circle cx="120" cy="683.63" r="1.7" fill="#b31117"/><circle cx="129.18" cy="684.28" r="1.7" fill="#b41117"/><circle cx="125.22" cy="684.52" r="1.7" fill="#b41117"/><circle cx="114.63" cy="684.92" r="1.7" fill="#b51217"/><circle cx="124.16" cy="685.01" r="1.7" fill="#b51217"/><circle cx="119.03" cy="685.4" r="1.7" fill="#b51217"/><circle cx="118.34" cy="685.81" r="1.7" fill="#b61218"/><circle cx="128.14" cy="685.89" r="1.7" fill="#b61218"/><circle cx="123.32" cy="686.25" r="1.7" fill="#b61218"/><circle cx="113.44" cy="686.56" r="1.7" fill="#b71218"/><circle cx="125.03" cy="686.6" r="1.7" fill="#b71218"/><circle cx="118.96" cy="687.29" r="1.7" fill="#b81218"/><circle cx="119.49" cy="687.74" r="1.7" fill="#b81218"/><circle cx="123.55" cy="687.75" r="1.7" fill="#b81218"/><circle cx="114.58" cy="688.44" r="1.7" fill="#b91318"/><circle cx="114.39" cy="688.93" r="1.7" fill="#ba1318"/><circle cx="128" cy="689.06" r="1.7" fill="#ba1318"/><circle cx="119.33" cy="689.4" r="1.7" fill="#ba1318"/><circle cx="120.2" cy="689.55" r="1.7" fill="#bb1318"/><circle cx="115.86" cy="689.77" r="1.7" fill="#bb1318"/><circle cx="124.88" cy="689.97" r="1.7" fill="#bb1318"/><circle cx="119.59" cy="690.72" r="1.7" fill="#bc1318"/><circle cx="125.34" cy="690.88" r="1.7" fill="#bc1318"/><circle cx="114.77" cy="691.01" r="1.7" fill="#bd1318"/><circle cx="128.06" cy="691.77" r="1.7" fill="#be1418"/><circle cx="117.82" cy="692.1" r="1.7" fill="#be1418"/><circle cx="124.26" cy="692.3" r="1.7" fill="#be1418"/><circle cx="129.12" cy="692.58" r="1.7" fill="#bf1418"/><circle cx="121.7" cy="692.79" r="1.7" fill="#bf1418"/><circle cx="117.43" cy="693.45" r="1.7" fill="#c01418"/><circle cx="117.3" cy="693.45" r="1.7" fill="#c01418"/><circle cx="128.31" cy="694.28" r="1.7" fill="#c11419"/><circle cx="123.53" cy="694.47" r="1.7" fill="#c11419"/><circle cx="116.26" cy="695.03" r="1.7" fill="#c21519"/><circle cx="129.37" cy="695.39" r="1.7" fill="#c21519"/><circle cx="122.92" cy="695.4" r="1.7" fill="#c21519"/><circle cx="125.59" cy="695.56" r="1.7" fill="#c21519"/><circle cx="122.29" cy="695.68" r="1.7" fill="#c31519"/><circle cx="117.48" cy="696.22" r="1.7" fill="#c31519"/><circle cx="120.63" cy="697.15" r="1.7" fill="#c41519"/><circle cx="126.32" cy="697.22" r="1.7" fill="#c51519"/><circle cx="113.68" cy="697.4" r="1.7" fill="#c51519"/><circle cx="121.96" cy="698" r="1.7" fill="#c61619"/><circle cx="126.72" cy="698.19" r="1.7" fill="#c61619"/><circle cx="114.05" cy="698.36" r="1.7" fill="#c61619"/><circle cx="125.05" cy="698.65" r="1.7" fill="#c61619"/><circle cx="114.14" cy="698.7" r="1.7" fill="#c61619"/><circle cx="117.43" cy="698.72" r="1.7" fill="#c61619"/><circle cx="122.13" cy="699.97" r="1.7" fill="#c81619"/><circle cx="118.6" cy="699.99" r="1.7" fill="#c81619"/><circle cx="128.58" cy="700.32" r="1.7" fill="#c91619"/><circle cx="116.84" cy="700.49" r="1.7" fill="#c91619"/><circle cx="120.68" cy="700.7" r="1.7" fill="#c91619"/><circle cx="128.1" cy="700.77" r="1.7" fill="#c91619"/><circle cx="114.5" cy="701.47" r="1.7" fill="#ca1719"/><circle cx="120.81" cy="702.21" r="1.7" fill="#cb171a"/><circle cx="127.67" cy="702.21" r="1.7" fill="#cb171a"/><circle cx="119.95" cy="702.54" r="1.7" fill="#cb171a"/><circle cx="126.81" cy="702.64" r="1.7" fill="#cc171a"/><circle cx="114.64" cy="702.96" r="1.7" fill="#cc171a"/><circle cx="119.78" cy="703.42" r="1.7" fill="#cd171a"/><circle cx="114.42" cy="703.94" r="1.7" fill="#cd171a"/><circle cx="123.68" cy="704.38" r="1.7" fill="#ce171a"/><circle cx="124.23" cy="705.03" r="1.7" fill="#cf181a"/><circle cx="118.99" cy="705.1" r="1.7" fill="#cf181a"/><circle cx="113.52" cy="705.53" r="1.7" fill="#cf181a"/><circle cx="113.41" cy="705.68" r="1.7" fill="#cf181a"/><circle cx="117" cy="706.38" r="1.7" fill="#d0181a"/><circle cx="117.86" cy="706.43" r="1.7" fill="#d0181a"/><circle cx="123.7" cy="706.46" r="1.7" fill="#d0181a"/><circle cx="128.68" cy="706.76" r="1.7" fill="#d1181a"/><circle cx="121.75" cy="706.99" r="1.7" fill="#d1191a"/><circle cx="120.35" cy="707.4" r="1.7" fill="#d2191a"/><circle cx="113.26" cy="707.78" r="1.7" fill="#d2191b"/><circle cx="125.52" cy="708.41" r="1.7" fill="#d3191b"/><circle cx="120.44" cy="708.75" r="1.7" fill="#d31a1b"/><circle cx="124.17" cy="708.87" r="1.7" fill="#d31a1b"/><circle cx="115.05" cy="709.26" r="1.7" fill="#d41a1b"/><circle cx="127.91" cy="709.52" r="1.7" fill="#d41a1b"/><circle cx="123.69" cy="709.73" r="1.7" fill="#d41a1b"/><circle cx="118.75" cy="709.83" r="1.7" fill="#d51a1b"/><circle cx="128.53" cy="710.63" r="1.7" fill="#d61b1b"/><circle cx="122.21" cy="710.72" r="1.7" fill="#d61b1b"/><circle cx="116.86" cy="711.52" r="1.7" fill="#d71b1c"/><circle cx="121.53" cy="712.16" r="1.7" fill="#d71c1c"/><circle cx="116.72" cy="712.46" r="1.7" fill="#d81c1c"/><circle cx="116.54" cy="712.46" r="1.7" fill="#d81c1c"/><circle cx="127.33" cy="712.53" r="1.7" fill="#d81c1c"/><circle cx="122.23" cy="712.94" r="1.7" fill="#d81c1c"/><circle cx="127.76" cy="713.17" r="1.7" fill="#d91c1c"/><circle cx="124.99" cy="713.76" r="1.7" fill="#d91d1c"/><circle cx="118.81" cy="713.97" r="1.7" fill="#da1d1c"/><circle cx="113.09" cy="714.51" r="1.7" fill="#da1d1d"/><circle cx="118.6" cy="714.71" r="1.7" fill="#db1d1d"/><circle cx="123.02" cy="714.76" r="1.7" fill="#db1d1d"/><circle cx="128.16" cy="714.87" r="1.7" fill="#db1d1d"/><circle cx="129.2" cy="715.65" r="1.7" fill="#dc1e1d"/><circle cx="120.71" cy="716" r="1.7" fill="#dc1e1d"/><circle cx="123.93" cy="716.49" r="1.7" fill="#dd1e1d"/><circle cx="122.91" cy="716.51" r="1.7" fill="#dd1e1d"/><circle cx="128.86" cy="716.51" r="1.7" fill="#dd1e1d"/><circle cx="118.28" cy="716.57" r="1.7" fill="#dd1e1d"/><circle cx="124.95" cy="717.9" r="1.7" fill="#de1f1e"/><circle cx="113.51" cy="718.08" r="1.7" fill="#df1f1e"/><circle cx="121.04" cy="718.3" r="1.7" fill="#df1f1e"/><circle cx="128.33" cy="718.55" r="1.7" fill="#df201e"/><circle cx="119.9" cy="718.73" r="1.7" fill="#e0201e"/><circle cx="115.46" cy="718.81" r="1.7" fill="#e0201e"/><circle cx="120.29" cy="719.73" r="1.7" fill="#e1211e"/><circle cx="125.86" cy="719.88" r="1.7" fill="#e1211e"/><circle cx="122.13" cy="720.43" r="1.7" fill="#e2221f"/><circle cx="116.18" cy="720.44" r="1.7" fill="#e2221f"/><circle cx="124.84" cy="721.25" r="1.7" fill="#e3231f"/><circle cx="116.93" cy="721.42" r="1.7" fill="#e3241f"/><circle cx="121.72" cy="721.87" r="1.7" fill="#e32420"/><circle cx="117.81" cy="722.1" r="1.7" fill="#e42520"/><circle cx="113.83" cy="722.39" r="1.7" fill="#e42520"/><circle cx="121.86" cy="722.59" r="1.7" fill="#e42620"/><circle cx="119.23" cy="722.7" r="1.7" fill="#e42620"/><circle cx="128.68" cy="723.22" r="1.7" fill="#e52721"/><circle cx="129.25" cy="723.45" r="1.7" fill="#e52721"/><circle cx="124.48" cy="723.95" r="1.7" fill="#e62821"/><circle cx="118.87" cy="724.18" r="1.7" fill="#e62821"/><circle cx="126.99" cy="724.7" r="1.7" fill="#e72921"/><circle cx="123.22" cy="724.76" r="1.7" fill="#e72921"/><circle cx="116.4" cy="725.5" r="1.7" fill="#e82a22"/><circle cx="117.13" cy="725.53" r="1.7" fill="#e82a22"/><circle cx="127.68" cy="725.87" r="1.7" fill="#e82b22"/><circle cx="120.54" cy="726.03" r="1.7" fill="#e82b22"/><circle cx="114.55" cy="726.41" r="1.7" fill="#e92c22"/><circle cx="119.04" cy="726.95" r="1.7" fill="#ea2d23"/><circle cx="126.66" cy="727.17" r="1.7" fill="#ea2d23"/><circle cx="117.75" cy="727.68" r="1.7" fill="#ea2e23"/><circle cx="113.04" cy="727.77" r="1.7" fill="#eb2e23"/><circle cx="122.37" cy="728.44" r="1.7" fill="#eb2f24"/><circle cx="122.47" cy="728.55" r="1.7" fill="#ec2f24"/><circle cx="116.19" cy="728.71" r="1.7" fill="#ec3024"/><circle cx="125.87" cy="728.9" r="1.7" fill="#ec3024"/><circle cx="113.07" cy="729.21" r="1.7" fill="#ec3125"/><circle cx="119.96" cy="729.51" r="1.7" fill="#ed3326"/><circle cx="127.83" cy="729.67" r="1.7" fill="#ed3426"/><circle cx="118.99" cy="730.01" r="1.7" fill="#ed3527"/><circle cx="114.64" cy="730.36" r="1.7" fill="#ee3728"/><circle cx="124.71" cy="730.38" r="1.7" fill="#ee3728"/><circle cx="121.22" cy="730.56" r="1.7" fill="#ee3829"/><circle cx="118.77" cy="730.62" r="1.7" fill="#ee3829"/><circle cx="127.92" cy="730.87" r="1.7" fill="#ee3a29"/><circle cx="121.51" cy="730.9" r="1.7" fill="#ee3a29"/><circle cx="116.1" cy="731.47" r="1.7" fill="#ef3d2b"/><circle cx="125.66" cy="731.54" r="1.7" fill="#ef3d2b"/><circle cx="115.09" cy="731.54" r="1.7" fill="#ef3d2b"/><circle cx="114.63" cy="731.57" r="1.7" fill="#ef3d2b"/><circle cx="124.29" cy="732.28" r="1.7" fill="#f0402d"/><circle cx="126.55" cy="732.4" r="1.7" fill="#f0412e"/><circle cx="117.84" cy="732.44" r="1.7" fill="#f0412e"/><circle cx="120.05" cy="732.48" r="1.7" fill="#f0412e"/><circle cx="127.8" cy="732.52" r="1.7" fill="#f0422e"/><circle cx="123.67" cy="732.8" r="1.7" fill="#f1432f"/><circle cx="120.96" cy="732.85" r="1.7" fill="#f1432f"/><circle cx="126.9" cy="733.46" r="1.7" fill="#f24631"/><circle cx="113.46" cy="733.52" r="1.7" fill="#f24731"/><circle cx="119.9" cy="733.83" r="1.7" fill="#f24832"/><circle cx="124.39" cy="734.39" r="1.7" fill="#f34b33"/><circle cx="121.89" cy="734.44" r="1.7" fill="#f34b33"/><circle cx="128.2" cy="734.45" r="1.7" fill="#f34b33"/><circle cx="113.63" cy="734.55" r="1.7" fill="#f34c34"/><circle cx="116.46" cy="734.56" r="1.7" fill="#f34c34"/><circle cx="117.23" cy="734.84" r="1.7" fill="#f34d34"/><circle cx="124.22" cy="735.37" r="1.7" fill="#f45036"/><circle cx="114.3" cy="735.5" r="1.7" fill="#f45137"/><circle cx="126.46" cy="735.71" r="1.7" fill="#f55339"/><circle cx="120.46" cy="735.81" r="1.7" fill="#f55539"/><circle cx="115.92" cy="736.3" r="1.7" fill="#f65b3e"/><circle cx="126.06" cy="736.43" r="1.7" fill="#f65c3f"/><circle cx="128.65" cy="736.5" r="1.7" fill="#f65d40"/><circle cx="122.51" cy="736.55" r="1.7" fill="#f65e40"/><circle cx="114.99" cy="736.73" r="1.7" fill="#f66042"/><circle cx="127.95" cy="736.97" r="1.7" fill="#f76344"/><circle cx="122.73" cy="737.16" r="1.7" fill="#f76546"/><circle cx="117.65" cy="737.31" r="1.7" fill="#f76747"/><circle cx="112.9" cy="735.8" r="1.7" fill="#ee4630"/><circle cx="115" cy="735.8" r="1.7" fill="#ee4630"/><circle cx="117.1" cy="735.8" r="1.7" fill="#ee4630"/><circle cx="119.2" cy="735.8" r="1.7" fill="#ee4630"/><circle cx="121.3" cy="735.8" r="1.7" fill="#ee4630"/><circle cx="123.4" cy="735.8" r="1.7" fill="#ee4630"/><circle cx="125.5" cy="735.8" r="1.7" fill="#ee4630"/><circle cx="127.6" cy="735.8" r="1.7" fill="#ee4630"/><circle cx="129.7" cy="735.8" r="1.7" fill="#ee4630"/><circle cx="112.9" cy="737.2" r="1.7" fill="#f25a3c"/><circle cx="115" cy="737.2" r="1.7" fill="#f25a3c"/><circle cx="117.1" cy="737.2" r="1.7" fill="#f25a3c"/><circle cx="119.2" cy="737.2" r="1.7" fill="#f25a3c"/><circle cx="121.3" cy="737.2" r="1.7" fill="#f25a3c"/><circle cx="123.4" cy="737.2" r="1.7" fill="#f25a3c"/><circle cx="125.5" cy="737.2" r="1.7" fill="#f25a3c"/><circle cx="127.6" cy="737.2" r="1.7" fill="#f25a3c"/><circle cx="129.7" cy="737.2" r="1.7" fill="#f25a3c"/><circle cx="112.9" cy="738.6" r="1.7" fill="#e8523a"/><circle cx="115" cy="738.6" r="1.7" fill="#e8523a"/><circle cx="117.1" cy="738.6" r="1.7" fill="#e8523a"/><circle cx="119.2" cy="738.6" r="1.7" fill="#e8523a"/><circle cx="121.3" cy="738.6" r="1.7" fill="#e8523a"/><circle cx="123.4" cy="738.6" r="1.7" fill="#e8523a"/><circle cx="125.5" cy="738.6" r="1.7" fill="#e8523a"/><circle cx="127.6" cy="738.6" r="1.7" fill="#e8523a"/><circle cx="129.7" cy="738.6" r="1.7" fill="#e8523a"/></g>
<line x1="34.8" y1="564.5" x2="34.8" y2="759.6" stroke="#777" stroke-width="0.9"/>
<line x1="34.8" y1="759.2" x2="146.4" y2="759.2" stroke="#777" stroke-width="0.9"/>
<line x1="59.9" y1="759.2" x2="59.9" y2="761.2" stroke="#555" stroke-width="0.8"/>
<line x1="121.4" y1="759.2" x2="121.4" y2="761.2" stroke="#555" stroke-width="0.8"/>
<line x1="33" y1="738.7" x2="34.8" y2="738.7" stroke="#555" stroke-width="0.8"/>
<text x="31.6" y="741.7" font-size="7.2" font-weight="bold" fill="#222" text-anchor="end" stroke="#222" stroke-width="0.3">0</text>
<line x1="33" y1="706.1" x2="34.8" y2="706.1" stroke="#555" stroke-width="0.8"/>
<text x="31.6" y="709.1" font-size="7.2" font-weight="bold" fill="#222" text-anchor="end" stroke="#222" stroke-width="0.3">10</text>
<line x1="33" y1="673.5" x2="34.8" y2="673.5" stroke="#555" stroke-width="0.8"/>
<text x="31.6" y="676.5" font-size="7.2" font-weight="bold" fill="#222" text-anchor="end" stroke="#222" stroke-width="0.3">20</text>
<line x1="33" y1="640.9" x2="34.8" y2="640.9" stroke="#555" stroke-width="0.8"/>
<text x="31.6" y="643.9" font-size="7.2" font-weight="bold" fill="#222" text-anchor="end" stroke="#222" stroke-width="0.3">30</text>
<line x1="33" y1="608.3" x2="34.8" y2="608.3" stroke="#555" stroke-width="0.8"/>
<text x="31.6" y="611.3" font-size="7.2" font-weight="bold" fill="#222" text-anchor="end" stroke="#222" stroke-width="0.3">40</text>
<line x1="33" y1="575.7" x2="34.8" y2="575.7" stroke="#555" stroke-width="0.8"/>
<text x="31.6" y="578.7" font-size="7.2" font-weight="bold" fill="#222" text-anchor="end" stroke="#222" stroke-width="0.3">50</text>
<text x="40.8" y="571.4" font-size="12" font-weight="bold" fill="#333" textLength="105.6" lengthAdjust="spacingAndGlyphs" stroke="#333" stroke-width="0.25">MECP2: Mutations</text>
<text x="17.4" y="667.5" font-size="11" font-weight="bold" fill="#222" text-anchor="middle" transform="rotate(-90 17.4 667.5)" textLength="99" lengthAdjust="spacingAndGlyphs" stroke="#222" stroke-width="0.25">MSIsensor Score</text>
<text x="54.4" y="769.2" font-size="12" font-weight="bold" fill="#111" transform="rotate(36 54.4 769.2)" stroke="#111" stroke-width="0.25">Mutated</text>
<text x="113.9" y="770" font-size="12" font-weight="bold" fill="#111" transform="rotate(29.5 113.9 770)" stroke="#111" stroke-width="0.25">No mutation</text>
<text x="136.2" y="592.1" font-size="10.3" font-weight="bold" fill="#333" textLength="83.3" lengthAdjust="spacingAndGlyphs" stroke="#333" stroke-width="0.25">MSIsensor Score</text>
<defs><linearGradient id="gC" x1="0" y1="0" x2="0" y2="1"><stop offset="0" stop-color="#6a0810"/><stop offset="0.5" stop-color="#9e0e1c"/><stop offset="0.85" stop-color="#d01c24"/><stop offset="1" stop-color="#f03030"/></linearGradient></defs><rect x="165.2" y="604.1" width="10.3" height="38.2" fill="url(#gC)"/>
<text x="178" y="606.9" font-size="10.2" font-weight="bold" fill="#111" font-family="Liberation Serif, serif" stroke="#111" stroke-width="0.25">46.78</text>
<text x="178" y="625.6" font-size="10.2" font-weight="bold" fill="#111" font-family="Liberation Serif, serif" stroke="#111" stroke-width="0.25">23.39</text>
<text x="178" y="645.7" font-size="10.2" font-weight="bold" fill="#111" font-family="Liberation Serif, serif" stroke="#111" stroke-width="0.25">0</text>
<circle cx="166" cy="663.8" r="1.5" fill="#c4c4c4"/>
<text x="172.4" y="668" font-size="9" fill="#333" textLength="26.4" lengthAdjust="spacingAndGlyphs">No data</text>
<text x="166.6" y="689.2" font-size="9.1" font-weight="bold" fill="#222" textLength="39" lengthAdjust="spacingAndGlyphs" stroke="#222" stroke-width="0.25">P&lt;0.0001</text>
<text x="152.7" y="706.6" font-size="9.3" font-weight="bold" fill="#222" textLength="65.7" lengthAdjust="spacingAndGlyphs" stroke="#222" stroke-width="0.25">10054 samples</text>
</g>
<g id="panelD">
<text x="272.5" y="558" font-size="23" font-weight="bold" text-anchor="middle" font-family="Liberation Serif, serif">D</text>
<line x1="302.6" y1="759.5" x2="415.3" y2="759.5" stroke="#f0f0f0" stroke-width="0.7" stroke-dasharray="2 2"/>
<line x1="302.6" y1="737.2" x2="415.3" y2="737.2" stroke="#f0f0f0" stroke-width="0.7" stroke-dasharray="2 2"/>
<line x1="302.6" y1="714.9" x2="415.3" y2="714.9" stroke="#f0f0f0" stroke-width="0.7" stroke-dasharray="2 2"/>
<line x1="302.6" y1="692.6" x2="415.3" y2="692.6" stroke="#f0f0f0" stroke-width="0.7" stroke-dasharray="2 2"/>
<line x1="302.6" y1="670.3" x2="415.3" y2="670.3" stroke="#f0f0f0" stroke-width="0.7" stroke-dasharray="2 2"/>
<line x1="302.6" y1="648" x2="415.3" y2="648" stroke="#f0f0f0" stroke-width="0.7" stroke-dasharray="2 2"/>
<line x1="302.6" y1="625.7" x2="415.3" y2="625.7" stroke="#f0f0f0" stroke-width="0.7" stroke-dasharray="2 2"/>
<line x1="302.6" y1="603.4" x2="415.3" y2="603.4" stroke="#f0f0f0" stroke-width="0.7" stroke-dasharray="2 2"/>
<line x1="302.6" y1="581.1" x2="415.3" y2="581.1" stroke="#f0f0f0" stroke-width="0.7" stroke-dasharray="2 2"/>
<line x1="327.6" y1="575" x2="327.6" y2="769.4" stroke="#f3f3f3" stroke-width="0.7" stroke-dasharray="2 2"/>
<line x1="389.4" y1="575" x2="389.4" y2="769.4" stroke="#f3f3f3" stroke-width="0.7" stroke-dasharray="2 2"/>
<rect x="310.5" y="624.5" width="34.6" height="45.9" fill="#ebebeb"/>
<line x1="310.5" y1="603.3" x2="345.1" y2="603.3" stroke="#bdbdbd" stroke-width="0.8"/>
<line x1="310.5" y1="720.5" x2="345.1" y2="720.5" stroke="#b0b0b0" stroke-width="0.8"/>
<line x1="327.6" y1="603.3" x2="327.6" y2="720.5" stroke="#c2c2c2" stroke-width="0.8"/>
<line x1="310.5" y1="647.5" x2="345.1" y2="647.5" stroke="#9a9a9a" stroke-width="0.8"/>
<rect x="372.3" y="680.6" width="34.4" height="24.4" fill="#e6e6e6"/>
<line x1="372.3" y1="644" x2="406.7" y2="644" stroke="#b0b0b0" stroke-width="0.8"/>
<line x1="372.3" y1="742" x2="406.7" y2="742" stroke="#b0b0b0" stroke-width="0.8"/>
<line x1="372.3" y1="693.6" x2="406.7" y2="693.6" stroke="#9a9a9a" stroke-width="0.8"/>
<g stroke="#2a0a06" stroke-width="0.5"><circle cx="320.66" cy="603.22" r="1.7" fill="#8e0c16"/><circle cx="321.75" cy="605.55" r="1.7" fill="#920d16"/><circle cx="334.66" cy="606.33" r="1.7" fill="#940d17"/><circle cx="325.33" cy="606.8" r="1.7" fill="#950d17"/><circle cx="333.1" cy="608.35" r="1.7" fill="#980e17"/><circle cx="319.88" cy="608.97" r="1.7" fill="#990e17"/><circle cx="329.99" cy="609.91" r="1.7" fill="#9b0e17"/><circle cx="326.88" cy="611.46" r="1.7" fill="#9e0f17"/><circle cx="320.19" cy="613.64" r="1.7" fill="#a21018"/><circle cx="335.12" cy="614.88" r="1.7" fill="#a51018"/><circle cx="323.77" cy="615.66" r="1.7" fill="#a61018"/><circle cx="326.1" cy="617.68" r="1.7" fill="#aa1118"/><circle cx="331.55" cy="618.3" r="1.7" fill="#ab1118"/><circle cx="335.44" cy="618.77" r="1.7" fill="#ac1218"/><circle cx="328.9" cy="621.88" r="1.7" fill="#b11318"/><circle cx="334.66" cy="622.35" r="1.7" fill="#b21318"/><circle cx="325.33" cy="624.53" r="1.7" fill="#b61418"/><circle cx="332.01" cy="624.99" r="1.7" fill="#b71418"/><circle cx="327.66" cy="629.19" r="1.7" fill="#be1719"/><circle cx="320.66" cy="631.99" r="1.7" fill="#c3191a"/><circle cx="321.44" cy="635.1" r="1.7" fill="#c91b1b"/><circle cx="332.33" cy="635.41" r="1.7" fill="#c91b1b"/><circle cx="334.66" cy="635.41" r="1.7" fill="#c91b1b"/><circle cx="329.99" cy="636.66" r="1.7" fill="#cc1c1c"/><circle cx="328.44" cy="640.08" r="1.7" fill="#d3201d"/><circle cx="332.01" cy="641.32" r="1.7" fill="#d6221e"/><circle cx="319.88" cy="643.65" r="1.7" fill="#db251e"/><circle cx="330.77" cy="645.68" r="1.7" fill="#df271f"/><circle cx="335.12" cy="645.99" r="1.7" fill="#e0271f"/><circle cx="320.66" cy="646.3" r="1.7" fill="#e0281f"/><circle cx="325.33" cy="647.54" r="1.7" fill="#e32920"/><circle cx="322.22" cy="648.79" r="1.7" fill="#e52b20"/><circle cx="326.88" cy="649.1" r="1.7" fill="#e52b20"/><circle cx="332.33" cy="649.1" r="1.7" fill="#e52b20"/><circle cx="329.53" cy="651.9" r="1.7" fill="#e72f21"/><circle cx="325.33" cy="652.99" r="1.7" fill="#e83022"/><circle cx="319.88" cy="654.07" r="1.7" fill="#e83222"/><circle cx="328.44" cy="656.1" r="1.7" fill="#ea3423"/><circle cx="329.99" cy="658.43" r="1.7" fill="#eb3724"/><circle cx="320.66" cy="659.21" r="1.7" fill="#ec3824"/><circle cx="324.55" cy="659.98" r="1.7" fill="#ec3925"/><circle cx="332.33" cy="660.76" r="1.7" fill="#ed3b25"/><circle cx="328.44" cy="664.96" r="1.7" fill="#ef4129"/><circle cx="320.66" cy="668.54" r="1.7" fill="#f1472c"/><circle cx="331.55" cy="669" r="1.7" fill="#f1482d"/><circle cx="324.55" cy="670.56" r="1.7" fill="#f24b2e"/><circle cx="324.55" cy="670.78" r="1.7" fill="#f24b2f"/><circle cx="335.44" cy="670.87" r="1.7" fill="#f24b2f"/><circle cx="335.12" cy="671.24" r="1.7" fill="#f24c2f"/><circle cx="327.66" cy="673.42" r="1.7" fill="#f35032"/><circle cx="327.66" cy="673.98" r="1.7" fill="#f35133"/><circle cx="325.33" cy="676.31" r="1.7" fill="#f45637"/><circle cx="335.12" cy="676.31" r="1.7" fill="#f45637"/><circle cx="325.33" cy="676.53" r="1.7" fill="#f45637"/><circle cx="335.12" cy="676.53" r="1.7" fill="#f45637"/><circle cx="319.88" cy="679.42" r="1.7" fill="#f55c3b"/><circle cx="320.19" cy="680.58" r="1.7" fill="#f65e3d"/><circle cx="333.88" cy="683.69" r="1.7" fill="#f66643"/><circle cx="323.77" cy="684" r="1.7" fill="#f66643"/><circle cx="320.97" cy="684.46" r="1.7" fill="#f76844"/><circle cx="332.33" cy="687.42" r="1.7" fill="#f76f4b"/><circle cx="325.64" cy="693.02" r="1.7" fill="#f87d57"/><circle cx="333.88" cy="693.33" r="1.7" fill="#f87e58"/><circle cx="324.55" cy="695.66" r="1.7" fill="#f8845e"/><circle cx="320.97" cy="697.99" r="1.7" fill="#f88b65"/><circle cx="332.33" cy="699.55" r="1.7" fill="#f98f69"/><circle cx="326.88" cy="705.3" r="1.7" fill="#f99d78"/><circle cx="320.66" cy="707.33" r="1.7" fill="#faa17d"/><circle cx="328.13" cy="709.66" r="1.7" fill="#faa683"/><circle cx="323.77" cy="717.9" r="1.7" fill="#fbb699"/><circle cx="330.46" cy="717.9" r="1.7" fill="#fbb699"/><circle cx="332.01" cy="720.54" r="1.7" fill="#fcbca0"/></g>
<g><circle cx="386" cy="595.8" r="1.6" fill="#7b0a14" stroke="#3d050a" stroke-width="0.5"/><circle cx="394.32" cy="605.22" r="1.6" fill="#920d16" stroke="#49060b" stroke-width="0.5"/><circle cx="389.39" cy="605.61" r="1.6" fill="#920d16" stroke="#49060b" stroke-width="0.5"/><circle cx="385.05" cy="606.11" r="1.6" fill="#930d16" stroke="#4a060b" stroke-width="0.5"/><circle cx="388.62" cy="606.51" r="1.6" fill="#940d17" stroke="#4a070b" stroke-width="0.5"/><circle cx="385.48" cy="607.1" r="1.6" fill="#950d17" stroke="#4b070b" stroke-width="0.5"/><circle cx="393.23" cy="607.12" r="1.6" fill="#950d17" stroke="#4b070b" stroke-width="0.5"/><circle cx="395.54" cy="607.49" r="1.6" fill="#960d17" stroke="#4b070b" stroke-width="0.5"/><circle cx="391.87" cy="608.08" r="1.6" fill="#970e17" stroke="#4c070b" stroke-width="0.5"/><circle cx="384.65" cy="608.48" r="1.6" fill="#980e17" stroke="#4c070b" stroke-width="0.5"/><circle cx="382.81" cy="608.52" r="1.6" fill="#980e17" stroke="#4c070b" stroke-width="0.5"/><circle cx="386.53" cy="608.74" r="1.6" fill="#990e17" stroke="#4c070b" stroke-width="0.5"/><circle cx="390.75" cy="609.01" r="1.6" fill="#990e17" stroke="#4d070c" stroke-width="0.5"/><circle cx="394.52" cy="610.15" r="1.6" fill="#9b0e17" stroke="#4e070c" stroke-width="0.5"/><circle cx="389.77" cy="610.2" r="1.6" fill="#9b0e17" stroke="#4e070c" stroke-width="0.5"/><circle cx="385.65" cy="610.22" r="1.6" fill="#9b0e17" stroke="#4e070c" stroke-width="0.5"/><circle cx="392.79" cy="611.03" r="1.6" fill="#9d0f17" stroke="#4f070c" stroke-width="0.5"/><circle cx="389.56" cy="611.6" r="1.6" fill="#9e0f17" stroke="#4f070c" stroke-width="0.5"/><circle cx="385.29" cy="611.94" r="1.6" fill="#9f0f18" stroke="#4f080c" stroke-width="0.5"/><circle cx="382.67" cy="612.82" r="1.6" fill="#a10f18" stroke="#50080c" stroke-width="0.5"/><circle cx="388.35" cy="612.92" r="1.6" fill="#a10f18" stroke="#50080c" stroke-width="0.5"/><circle cx="393.05" cy="613.05" r="1.6" fill="#a10f18" stroke="#51080c" stroke-width="0.5"/><circle cx="385.09" cy="613.3" r="1.6" fill="#a21018" stroke="#51080c" stroke-width="0.5"/><circle cx="383.12" cy="613.53" r="1.6" fill="#a21018" stroke="#51080c" stroke-width="0.5"/><circle cx="392.45" cy="613.61" r="1.6" fill="#a21018" stroke="#51080c" stroke-width="0.5"/><circle cx="386.9" cy="614.3" r="1.6" fill="#a41018" stroke="#52080c" stroke-width="0.5"/><circle cx="383.15" cy="615.13" r="1.6" fill="#a51018" stroke="#53080c" stroke-width="0.5"/><circle cx="391.87" cy="615.36" r="1.6" fill="#a51018" stroke="#53080c" stroke-width="0.5"/><circle cx="387.86" cy="615.42" r="1.6" fill="#a61018" stroke="#53080c" stroke-width="0.5"/><circle cx="392.97" cy="615.56" r="1.6" fill="#a61018" stroke="#53080c" stroke-width="0.5"/><circle cx="384.29" cy="615.65" r="1.6" fill="#a61018" stroke="#53080c" stroke-width="0.5"/><circle cx="396.06" cy="615.89" r="1.6" fill="#a61018" stroke="#53080c" stroke-width="0.5"/><circle cx="386.97" cy="616.64" r="1.6" fill="#a81118" stroke="#54080c" stroke-width="0.5"/><circle cx="383.53" cy="616.66" r="1.6" fill="#a81118" stroke="#54080c" stroke-width="0.5"/><circle cx="390.1" cy="616.76" r="1.6" fill="#a81118" stroke="#54080c" stroke-width="0.5"/><circle cx="393.4" cy="617.67" r="1.6" fill="#aa1118" stroke="#55090c" stroke-width="0.5"/><circle cx="388.23" cy="618.12" r="1.6" fill="#aa1118" stroke="#55090c" stroke-width="0.5"/><circle cx="393.27" cy="618.42" r="1.6" fill="#ab1118" stroke="#55090c" stroke-width="0.5"/><circle cx="384.79" cy="618.71" r="1.6" fill="#ab1118" stroke="#56090c" stroke-width="0.5"/><circle cx="395.26" cy="618.84" r="1.6" fill="#ac1218" stroke="#56090c" stroke-width="0.5"/><circle cx="389.41" cy="618.91" r="1.6" fill="#ac1218" stroke="#56090c" stroke-width="0.5"/><circle cx="394.18" cy="619.09" r="1.6" fill="#ac1218" stroke="#56090c" stroke-width="0.5"/><circle cx="386.31" cy="619.16" r="1.6" fill="#ac1218" stroke="#56090c" stroke-width="0.5"/><circle cx="382.5" cy="619.73" r="1.6" fill="#ad1218" stroke="#57090c" stroke-width="0.5"/><circle cx="394.73" cy="620.13" r="1.6" fill="#ae1218" stroke="#57090c" stroke-width="0.5"/><circle cx="384.13" cy="620.49" r="1.6" fill="#af1218" stroke="#57090c" stroke-width="0.5"/><circle cx="389.1" cy="620.53" r="1.6" fill="#af1218" stroke="#57090c" stroke-width="0.5"/><circle cx="391.92" cy="620.99" r="1.6" fill="#b01218" stroke="#58090c" stroke-width="0.5"/><circle cx="393.87" cy="621.34" r="1.6" fill="#b01218" stroke="#58090c" stroke-width="0.5"/><circle cx="386.21" cy="621.4" r="1.6" fill="#b01218" stroke="#58090c" stroke-width="0.5"/><circle cx="388.51" cy="621.99" r="1.6" fill="#b11318" stroke="#59090c" stroke-width="0.5"/><circle cx="382.81" cy="622.16" r="1.6" fill="#b21318" stroke="#59090c" stroke-width="0.5"/><circle cx="384.17" cy="622.37" r="1.6" fill="#b21318" stroke="#59090c" stroke-width="0.5"/><circle cx="391.18" cy="623.1" r="1.6" fill="#b31318" stroke="#5a0a0c" stroke-width="0.5"/><circle cx="394.93" cy="623.24" r="1.6" fill="#b41318" stroke="#5a0a0c" stroke-width="0.5"/><circle cx="387.03" cy="623.41" r="1.6" fill="#b41318" stroke="#5a0a0c" stroke-width="0.5"/><circle cx="388.51" cy="623.48" r="1.6" fill="#b41318" stroke="#5a0a0c" stroke-width="0.5"/><circle cx="383.82" cy="623.61" r="1.6" fill="#b41318" stroke="#5a0a0c" stroke-width="0.5"/><circle cx="391.13" cy="624.07" r="1.6" fill="#b51318" stroke="#5b0a0c" stroke-width="0.5"/><circle cx="396.25" cy="624.14" r="1.6" fill="#b51318" stroke="#5b0a0c" stroke-width="0.5"/><circle cx="390.43" cy="624.62" r="1.6" fill="#b61418" stroke="#5b0a0c" stroke-width="0.5"/><circle cx="384" cy="624.79" r="1.6" fill="#b61418" stroke="#5b0a0c" stroke-width="0.5"/><circle cx="385.72" cy="624.87" r="1.6" fill="#b71418" stroke="#5b0a0c" stroke-width="0.5"/><circle cx="393.57" cy="624.99" r="1.6" fill="#b71418" stroke="#5b0a0c" stroke-width="0.5"/><circle cx="394.89" cy="625.72" r="1.6" fill="#b81418" stroke="#5c0a0c" stroke-width="0.5"/><circle cx="392.87" cy="625.87" r="1.6" fill="#b81418" stroke="#5c0a0c" stroke-width="0.5"/><circle cx="383.03" cy="626.13" r="1.6" fill="#b91418" stroke="#5c0a0c" stroke-width="0.5"/><circle cx="389.99" cy="626.53" r="1.6" fill="#b91518" stroke="#5d0a0c" stroke-width="0.5"/><circle cx="387.41" cy="626.88" r="1.6" fill="#ba1518" stroke="#5d0a0c" stroke-width="0.5"/><circle cx="396" cy="627.51" r="1.6" fill="#bb1519" stroke="#5e0b0c" stroke-width="0.5"/><circle cx="386.83" cy="627.61" r="1.6" fill="#bb1519" stroke="#5e0b0c" stroke-width="0.5"/><circle cx="390.69" cy="627.73" r="1.6" fill="#bc1519" stroke="#5e0b0c" stroke-width="0.5"/><circle cx="385.04" cy="628.01" r="1.6" fill="#bc1619" stroke="#5e0b0c" stroke-width="0.5"/><circle cx="393.42" cy="628.05" r="1.6" fill="#bc1619" stroke="#5e0b0c" stroke-width="0.5"/><circle cx="390.95" cy="628.42" r="1.6" fill="#bd1619" stroke="#5e0b0c" stroke-width="0.5"/><circle cx="396.94" cy="628.5" r="1.6" fill="#bd1619" stroke="#5f0b0d" stroke-width="0.5"/><circle cx="384.85" cy="628.88" r="1.6" fill="#be1619" stroke="#5f0b0d" stroke-width="0.5"/><circle cx="387.52" cy="628.95" r="1.6" fill="#be1619" stroke="#5f0b0d" stroke-width="0.5"/><circle cx="393.56" cy="629.08" r="1.6" fill="#be1619" stroke="#5f0b0d" stroke-width="0.5"/><circle cx="387.52" cy="629.61" r="1.6" fill="#bf1719" stroke="#600b0d" stroke-width="0.5"/><circle cx="384.91" cy="629.84" r="1.6" fill="#bf1719" stroke="#600b0d" stroke-width="0.5"/><circle cx="390.5" cy="629.88" r="1.6" fill="#bf1719" stroke="#600b0d" stroke-width="0.5"/><circle cx="392.63" cy="629.92" r="1.6" fill="#c0171a" stroke="#600c0d" stroke-width="0.5"/><circle cx="382.1" cy="630.21" r="1.6" fill="#c0171a" stroke="#600c0d" stroke-width="0.5"/><circle cx="393.67" cy="630.34" r="1.6" fill="#c0171a" stroke="#600c0d" stroke-width="0.5"/><circle cx="390.77" cy="630.4" r="1.6" fill="#c0171a" stroke="#600c0d" stroke-width="0.5"/><circle cx="387.23" cy="630.83" r="1.6" fill="#c1181a" stroke="#610c0d" stroke-width="0.5"/><circle cx="396.46" cy="630.88" r="1.6" fill="#c1181a" stroke="#610c0d" stroke-width="0.5"/><circle cx="383.81" cy="631.18" r="1.6" fill="#c2181a" stroke="#610c0d" stroke-width="0.5"/><circle cx="388.15" cy="631.46" r="1.6" fill="#c2181a" stroke="#610c0d" stroke-width="0.5"/><circle cx="394.21" cy="631.65" r="1.6" fill="#c3181a" stroke="#610c0d" stroke-width="0.5"/><circle cx="382.82" cy="632.05" r="1.6" fill="#c3191a" stroke="#620c0d" stroke-width="0.5"/><circle cx="391.32" cy="632.26" r="1.6" fill="#c4191a" stroke="#620c0d" stroke-width="0.5"/><circle cx="385.74" cy="632.55" r="1.6" fill="#c4191a" stroke="#620c0d" stroke-width="0.5"/><circle cx="390.99" cy="632.84" r="1.6" fill="#c5191b" stroke="#620d0d" stroke-width="0.5"/><circle cx="388.31" cy="632.99" r="1.6" fill="#c5191b" stroke="#630d0d" stroke-width="0.5"/><circle cx="384.79" cy="633.13" r="1.6" fill="#c5191b" stroke="#630d0d" stroke-width="0.5"/><circle cx="393.64" cy="633.57" r="1.6" fill="#c61a1b" stroke="#630d0d" stroke-width="0.5"/><circle cx="382.17" cy="633.66" r="1.6" fill="#c61a1b" stroke="#630d0d" stroke-width="0.5"/><circle cx="394.85" cy="633.95" r="1.6" fill="#c71a1b" stroke="#630d0d" stroke-width="0.5"/><circle cx="383" cy="634.13" r="1.6" fill="#c71a1b" stroke="#640d0e" stroke-width="0.5"/><circle cx="385.27" cy="634.35" r="1.6" fill="#c81a1b" stroke="#640d0e" stroke-width="0.5"/><circle cx="389.68" cy="634.77" r="1.6" fill="#c81b1b" stroke="#640d0e" stroke-width="0.5"/><circle cx="392.55" cy="634.89" r="1.6" fill="#c81b1b" stroke="#640d0e" stroke-width="0.5"/><circle cx="395.4" cy="634.99" r="1.6" fill="#c91b1b" stroke="#640d0e" stroke-width="0.5"/><circle cx="382.59" cy="635.16" r="1.6" fill="#c91b1b" stroke="#640d0e" stroke-width="0.5"/><circle cx="389.24" cy="635.28" r="1.6" fill="#c91b1b" stroke="#650d0e" stroke-width="0.5"/><circle cx="385.97" cy="635.65" r="1.6" fill="#ca1b1c" stroke="#650e0e" stroke-width="0.5"/><circle cx="393" cy="636.08" r="1.6" fill="#cb1b1c" stroke="#650e0e" stroke-width="0.5"/><circle cx="392.01" cy="636.08" r="1.6" fill="#cb1b1c" stroke="#650e0e" stroke-width="0.5"/><circle cx="382.26" cy="636.1" r="1.6" fill="#cb1b1c" stroke="#650e0e" stroke-width="0.5"/><circle cx="388.73" cy="636.21" r="1.6" fill="#cb1c1c" stroke="#650e0e" stroke-width="0.5"/><circle cx="395.2" cy="636.33" r="1.6" fill="#cb1c1c" stroke="#660e0e" stroke-width="0.5"/><circle cx="384.61" cy="636.73" r="1.6" fill="#cc1c1c" stroke="#660e0e" stroke-width="0.5"/><circle cx="386.58" cy="637" r="1.6" fill="#cc1c1c" stroke="#660e0e" stroke-width="0.5"/><circle cx="394.47" cy="637.21" r="1.6" fill="#cd1c1c" stroke="#660e0e" stroke-width="0.5"/><circle cx="391.9" cy="637.77" r="1.6" fill="#ce1d1c" stroke="#670f0e" stroke-width="0.5"/><circle cx="396.86" cy="637.96" r="1.6" fill="#ce1d1c" stroke="#670f0e" stroke-width="0.5"/><circle cx="384.48" cy="637.96" r="1.6" fill="#ce1d1c" stroke="#670f0e" stroke-width="0.5"/><circle cx="390.48" cy="638.02" r="1.6" fill="#cf1d1c" stroke="#670f0e" stroke-width="0.5"/><circle cx="387.41" cy="638.17" r="1.6" fill="#cf1e1c" stroke="#670f0e" stroke-width="0.5"/><circle cx="396.46" cy="638.45" r="1.6" fill="#cf1e1d" stroke="#680f0e" stroke-width="0.5"/><circle cx="383.16" cy="638.56" r="1.6" fill="#d01e1d" stroke="#680f0e" stroke-width="0.5"/><circle cx="385.07" cy="638.76" r="1.6" fill="#d01e1d" stroke="#680f0e" stroke-width="0.5"/><circle cx="388.34" cy="638.97" r="1.6" fill="#d11f1d" stroke="#680f0e" stroke-width="0.5"/><circle cx="390.81" cy="639.26" r="1.6" fill="#d11f1d" stroke="#69100e" stroke-width="0.5"/><circle cx="393.06" cy="639.3" r="1.6" fill="#d11f1d" stroke="#69100e" stroke-width="0.5"/><circle cx="384.37" cy="639.66" r="1.6" fill="#d2201d" stroke="#69100f" stroke-width="0.5"/><circle cx="389.86" cy="639.95" r="1.6" fill="#d3201d" stroke="#69100f" stroke-width="0.5"/><circle cx="386.55" cy="640.25" r="1.6" fill="#d3201d" stroke="#6a100f" stroke-width="0.5"/><circle cx="396.97" cy="640.28" r="1.6" fill="#d3201d" stroke="#6a100f" stroke-width="0.5"/><circle cx="391.93" cy="640.56" r="1.6" fill="#d4211d" stroke="#6a100f" stroke-width="0.5"/><circle cx="394.89" cy="640.63" r="1.6" fill="#d4211d" stroke="#6a100f" stroke-width="0.5"/><circle cx="387.53" cy="641.36" r="1.6" fill="#d6221e" stroke="#6b110f" stroke-width="0.5"/><circle cx="384.95" cy="641.51" r="1.6" fill="#d6221e" stroke="#6b110f" stroke-width="0.5"/><circle cx="395.66" cy="641.52" r="1.6" fill="#d6221e" stroke="#6b110f" stroke-width="0.5"/><circle cx="385.92" cy="641.56" r="1.6" fill="#d6221e" stroke="#6b110f" stroke-width="0.5"/><circle cx="391.56" cy="641.6" r="1.6" fill="#d6221e" stroke="#6b110f" stroke-width="0.5"/><circle cx="392.59" cy="641.6" r="1.6" fill="#d6221e" stroke="#6b110f" stroke-width="0.5"/><circle cx="383.62" cy="641.61" r="1.6" fill="#d6221e" stroke="#6b110f" stroke-width="0.5"/><circle cx="389.95" cy="641.62" r="1.6" fill="#d6221e" stroke="#6b110f" stroke-width="0.5"/><circle cx="382.48" cy="641.63" r="1.6" fill="#d6221e" stroke="#6b110f" stroke-width="0.5"/><circle cx="381.79" cy="641.7" r="1.6" fill="#d6221e" stroke="#6b110f" stroke-width="0.5"/><circle cx="386.89" cy="641.73" r="1.6" fill="#d7221e" stroke="#6b110f" stroke-width="0.5"/><circle cx="394.85" cy="641.74" r="1.6" fill="#d7221e" stroke="#6b110f" stroke-width="0.5"/><circle cx="390.68" cy="641.82" r="1.6" fill="#d7221e" stroke="#6b110f" stroke-width="0.5"/><circle cx="393.45" cy="641.84" r="1.6" fill="#d7221e" stroke="#6b110f" stroke-width="0.5"/><circle cx="395.44" cy="643.98" r="1.6" fill="#db251f" stroke="#2e0c08" stroke-width="0.75"/><circle cx="391.37" cy="644.01" r="1.6" fill="#db251f" stroke="#2e0c08" stroke-width="0.75"/><circle cx="389.88" cy="644.16" r="1.6" fill="#dc251f" stroke="#2e0c08" stroke-width="0.75"/><circle cx="387.4" cy="644.34" r="1.6" fill="#dc251f" stroke="#2e0c08" stroke-width="0.75"/><circle cx="393.5" cy="644.35" r="1.6" fill="#dc251f" stroke="#2e0c08" stroke-width="0.75"/><circle cx="385.84" cy="644.35" r="1.6" fill="#dc251f" stroke="#2e0c08" stroke-width="0.75"/><circle cx="381.38" cy="644.36" r="1.6" fill="#dc251f" stroke="#2e0c08" stroke-width="0.75"/><circle cx="383.51" cy="644.48" r="1.6" fill="#dc261f" stroke="#2e0c08" stroke-width="0.75"/><circle cx="389.97" cy="646.67" r="1.6" fill="#e12820" stroke="#2e0c08" stroke-width="0.75"/><circle cx="386.23" cy="646.69" r="1.6" fill="#e12820" stroke="#2e0c08" stroke-width="0.75"/><circle cx="381.97" cy="646.69" r="1.6" fill="#e12820" stroke="#2e0c08" stroke-width="0.75"/><circle cx="388.19" cy="646.8" r="1.6" fill="#e12820" stroke="#2e0c08" stroke-width="0.75"/><circle cx="393.81" cy="646.99" r="1.6" fill="#e22920" stroke="#2e0c08" stroke-width="0.75"/><circle cx="395.81" cy="647.17" r="1.6" fill="#e22920" stroke="#2e0c08" stroke-width="0.75"/><circle cx="383.87" cy="647.2" r="1.6" fill="#e22920" stroke="#2e0c08" stroke-width="0.75"/><circle cx="392.22" cy="647.25" r="1.6" fill="#e22920" stroke="#2e0c08" stroke-width="0.75"/><circle cx="391.71" cy="649.27" r="1.6" fill="#e52c20" stroke="#2e0c08" stroke-width="0.75"/><circle cx="381.68" cy="649.42" r="1.6" fill="#e52c21" stroke="#2e0c08" stroke-width="0.75"/><circle cx="394.22" cy="649.47" r="1.6" fill="#e52c21" stroke="#2e0c08" stroke-width="0.75"/><circle cx="383.86" cy="649.48" r="1.6" fill="#e52c21" stroke="#2e0c08" stroke-width="0.75"/><circle cx="388.17" cy="649.53" r="1.6" fill="#e52c21" stroke="#2e0c08" stroke-width="0.75"/><circle cx="389.89" cy="649.66" r="1.6" fill="#e52c21" stroke="#2e0c08" stroke-width="0.75"/><circle cx="385.72" cy="649.88" r="1.6" fill="#e52c21" stroke="#2e0c08" stroke-width="0.75"/><circle cx="395.98" cy="649.9" r="1.6" fill="#e52c21" stroke="#2e0c08" stroke-width="0.75"/><circle cx="381.6" cy="652" r="1.6" fill="#e72f21" stroke="#2e0c08" stroke-width="0.75"/><circle cx="395.53" cy="652.33" r="1.6" fill="#e72f22" stroke="#2e0c08" stroke-width="0.75"/><circle cx="389.59" cy="652.47" r="1.6" fill="#e73022" stroke="#2e0c08" stroke-width="0.75"/><circle cx="393.52" cy="652.5" r="1.6" fill="#e73022" stroke="#2e0c08" stroke-width="0.75"/><circle cx="387.71" cy="652.51" r="1.6" fill="#e73022" stroke="#2e0c08" stroke-width="0.75"/><circle cx="385.86" cy="652.56" r="1.6" fill="#e73022" stroke="#2e0c08" stroke-width="0.75"/><circle cx="391.8" cy="652.58" r="1.6" fill="#e73022" stroke="#2e0c08" stroke-width="0.75"/><circle cx="384" cy="652.63" r="1.6" fill="#e73022" stroke="#2e0c08" stroke-width="0.75"/><circle cx="391.83" cy="654.69" r="1.6" fill="#e93222" stroke="#2e0c08" stroke-width="0.75"/><circle cx="387.63" cy="654.74" r="1.6" fill="#e93222" stroke="#2e0c08" stroke-width="0.75"/><circle cx="395.73" cy="654.86" r="1.6" fill="#e93322" stroke="#2e0c08" stroke-width="0.75"/><circle cx="389.86" cy="655" r="1.6" fill="#e93323" stroke="#2e0c08" stroke-width="0.75"/><circle cx="394.01" cy="655.02" r="1.6" fill="#e93323" stroke="#2e0c08" stroke-width="0.75"/><circle cx="385.77" cy="655.07" r="1.6" fill="#e93323" stroke="#2e0c08" stroke-width="0.75"/><circle cx="382.13" cy="655.16" r="1.6" fill="#e93323" stroke="#2e0c08" stroke-width="0.75"/><circle cx="383.95" cy="655.18" r="1.6" fill="#e93323" stroke="#2e0c08" stroke-width="0.75"/><circle cx="395.77" cy="657.39" r="1.6" fill="#eb3623" stroke="#2e0c08" stroke-width="0.75"/><circle cx="387.82" cy="657.65" r="1.6" fill="#eb3623" stroke="#2e0c08" stroke-width="0.75"/><circle cx="391.89" cy="657.72" r="1.6" fill="#eb3623" stroke="#2e0c08" stroke-width="0.75"/><circle cx="382.03" cy="657.88" r="1.6" fill="#eb3624" stroke="#2e0c08" stroke-width="0.75"/><circle cx="386.08" cy="657.95" r="1.6" fill="#eb3624" stroke="#2e0c08" stroke-width="0.75"/><circle cx="393.84" cy="657.98" r="1.6" fill="#eb3724" stroke="#2e0c08" stroke-width="0.75"/><circle cx="389.92" cy="657.98" r="1.6" fill="#eb3724" stroke="#2e0c08" stroke-width="0.75"/><circle cx="383.87" cy="658.05" r="1.6" fill="#eb3724" stroke="#2e0c08" stroke-width="0.75"/><circle cx="393.72" cy="660.38" r="1.6" fill="#ed3a25" stroke="#2e0c08" stroke-width="0.75"/><circle cx="383.46" cy="660.41" r="1.6" fill="#ed3a25" stroke="#2e0c08" stroke-width="0.75"/><circle cx="385.52" cy="660.45" r="1.6" fill="#ed3a25" stroke="#2e0c08" stroke-width="0.75"/><circle cx="381.59" cy="660.45" r="1.6" fill="#ed3a25" stroke="#2e0c08" stroke-width="0.75"/><circle cx="395.6" cy="660.49" r="1.6" fill="#ed3a25" stroke="#2e0c08" stroke-width="0.75"/><circle cx="387.56" cy="660.5" r="1.6" fill="#ed3a25" stroke="#2e0c08" stroke-width="0.75"/><circle cx="389.38" cy="660.52" r="1.6" fill="#ed3a25" stroke="#2e0c08" stroke-width="0.75"/><circle cx="391.44" cy="660.72" r="1.6" fill="#ed3b25" stroke="#2e0c08" stroke-width="0.75"/><circle cx="393.86" cy="662.76" r="1.6" fill="#ee3e27" stroke="#2e0c08" stroke-width="0.75"/><circle cx="381.7" cy="662.8" r="1.6" fill="#ee3e27" stroke="#2e0c08" stroke-width="0.75"/><circle cx="383.39" cy="662.88" r="1.6" fill="#ee3e27" stroke="#2e0c08" stroke-width="0.75"/><circle cx="387.77" cy="662.97" r="1.6" fill="#ee3e27" stroke="#2e0c08" stroke-width="0.75"/><circle cx="395.49" cy="663.08" r="1.6" fill="#ee3e28" stroke="#2e0c08" stroke-width="0.75"/><circle cx="391.6" cy="663.16" r="1.6" fill="#ee3e28" stroke="#2e0c08" stroke-width="0.75"/><circle cx="389.78" cy="663.27" r="1.6" fill="#ee3f28" stroke="#2e0c08" stroke-width="0.75"/><circle cx="385.97" cy="663.41" r="1.6" fill="#ee3f28" stroke="#2e0c08" stroke-width="0.75"/><circle cx="389.72" cy="665.54" r="1.6" fill="#ef422a" stroke="#2e0c08" stroke-width="0.75"/><circle cx="393.89" cy="665.62" r="1.6" fill="#ef422a" stroke="#2e0c08" stroke-width="0.75"/><circle cx="391.85" cy="665.65" r="1.6" fill="#ef422a" stroke="#2e0c08" stroke-width="0.75"/><circle cx="381.9" cy="665.83" r="1.6" fill="#f0432a" stroke="#2e0c08" stroke-width="0.75"/><circle cx="383.69" cy="665.84" r="1.6" fill="#f0432a" stroke="#2e0c08" stroke-width="0.75"/><circle cx="387.95" cy="666.02" r="1.6" fill="#f0432a" stroke="#2e0c08" stroke-width="0.75"/><circle cx="395.7" cy="666.03" r="1.6" fill="#f0432a" stroke="#2e0c08" stroke-width="0.75"/><circle cx="385.51" cy="666.09" r="1.6" fill="#f0432a" stroke="#2e0c08" stroke-width="0.75"/><circle cx="385.88" cy="668.29" r="1.6" fill="#f1472c" stroke="#2e0c08" stroke-width="0.75"/><circle cx="387.56" cy="668.32" r="1.6" fill="#f1472c" stroke="#2e0c08" stroke-width="0.75"/><circle cx="393.72" cy="668.47" r="1.6" fill="#f1472c" stroke="#2e0c08" stroke-width="0.75"/><circle cx="389.85" cy="668.64" r="1.6" fill="#f1472d" stroke="#2e0c08" stroke-width="0.75"/><circle cx="381.94" cy="668.73" r="1.6" fill="#f1472d" stroke="#2e0c08" stroke-width="0.75"/><circle cx="391.7" cy="668.8" r="1.6" fill="#f1482d" stroke="#2e0c08" stroke-width="0.75"/><circle cx="383.62" cy="668.81" r="1.6" fill="#f1482d" stroke="#2e0c08" stroke-width="0.75"/><circle cx="395.58" cy="668.83" r="1.6" fill="#f1482d" stroke="#2e0c08" stroke-width="0.75"/><circle cx="381.93" cy="670.86" r="1.6" fill="#f24b2f" stroke="#2e0c08" stroke-width="0.75"/><circle cx="385.35" cy="670.92" r="1.6" fill="#f24b2f" stroke="#2e0c08" stroke-width="0.75"/><circle cx="395.46" cy="670.95" r="1.6" fill="#f24b2f" stroke="#2e0c08" stroke-width="0.75"/><circle cx="390.43" cy="670.96" r="1.6" fill="#f24b2f" stroke="#2e0c08" stroke-width="0.75"/><circle cx="383.46" cy="671.09" r="1.6" fill="#f24c2f" stroke="#2e0c08" stroke-width="0.75"/><circle cx="393.79" cy="671.1" r="1.6" fill="#f24c2f" stroke="#2e0c08" stroke-width="0.75"/><circle cx="386.89" cy="671.21" r="1.6" fill="#f24c2f" stroke="#2e0c08" stroke-width="0.75"/><circle cx="388.84" cy="671.43" r="1.6" fill="#f24c30" stroke="#2e0c08" stroke-width="0.75"/><circle cx="392.22" cy="671.48" r="1.6" fill="#f24c30" stroke="#2e0c08" stroke-width="0.75"/><circle cx="397.29" cy="671.54" r="1.6" fill="#f24c30" stroke="#2e0c08" stroke-width="0.75"/><circle cx="393.68" cy="673.56" r="1.6" fill="#f35033" stroke="#2e0c08" stroke-width="0.75"/><circle cx="385.18" cy="673.6" r="1.6" fill="#f35133" stroke="#2e0c08" stroke-width="0.75"/><circle cx="383.33" cy="673.64" r="1.6" fill="#f35133" stroke="#2e0c08" stroke-width="0.75"/><circle cx="381.59" cy="673.71" r="1.6" fill="#f35133" stroke="#2e0c08" stroke-width="0.75"/><circle cx="391.97" cy="673.78" r="1.6" fill="#f35133" stroke="#2e0c08" stroke-width="0.75"/><circle cx="387.19" cy="673.85" r="1.6" fill="#f35133" stroke="#2e0c08" stroke-width="0.75"/><circle cx="388.64" cy="674" r="1.6" fill="#f35133" stroke="#2e0c08" stroke-width="0.75"/><circle cx="395.38" cy="674.04" r="1.6" fill="#f35133" stroke="#2e0c08" stroke-width="0.75"/><circle cx="397.43" cy="674.1" r="1.6" fill="#f35233" stroke="#2e0c08" stroke-width="0.75"/><circle cx="390.5" cy="674.12" r="1.6" fill="#f35233" stroke="#2e0c08" stroke-width="0.75"/><circle cx="391.67" cy="676.35" r="1.6" fill="#f45637" stroke="#2e0c08" stroke-width="0.75"/><circle cx="395.44" cy="676.38" r="1.6" fill="#f45637" stroke="#2e0c08" stroke-width="0.75"/><circle cx="383.52" cy="676.43" r="1.6" fill="#f45637" stroke="#2e0c08" stroke-width="0.75"/><circle cx="381.62" cy="676.52" r="1.6" fill="#f45637" stroke="#2e0c08" stroke-width="0.75"/><circle cx="393.38" cy="676.72" r="1.6" fill="#f45737" stroke="#2e0c08" stroke-width="0.75"/><circle cx="388.56" cy="676.76" r="1.6" fill="#f45737" stroke="#2e0c08" stroke-width="0.75"/><circle cx="384.94" cy="676.76" r="1.6" fill="#f45737" stroke="#2e0c08" stroke-width="0.75"/><circle cx="390.12" cy="676.83" r="1.6" fill="#f45737" stroke="#2e0c08" stroke-width="0.75"/><circle cx="396.96" cy="676.84" r="1.6" fill="#f45737" stroke="#2e0c08" stroke-width="0.75"/><circle cx="386.72" cy="676.91" r="1.6" fill="#f45737" stroke="#2e0c08" stroke-width="0.75"/><circle cx="393.95" cy="679.09" r="1.6" fill="#f55b3b" stroke="#2e0c08" stroke-width="0.75"/><circle cx="388.8" cy="679.12" r="1.6" fill="#f55b3b" stroke="#2e0c08" stroke-width="0.75"/><circle cx="395.54" cy="679.15" r="1.6" fill="#f55b3b" stroke="#2e0c08" stroke-width="0.75"/><circle cx="386.68" cy="679.21" r="1.6" fill="#f55c3b" stroke="#2e0c08" stroke-width="0.75"/><circle cx="381.64" cy="679.23" r="1.6" fill="#f55c3b" stroke="#2e0c08" stroke-width="0.75"/><circle cx="390.41" cy="679.27" r="1.6" fill="#f55c3b" stroke="#2e0c08" stroke-width="0.75"/><circle cx="397.1" cy="679.33" r="1.6" fill="#f55c3b" stroke="#2e0c08" stroke-width="0.75"/><circle cx="385.47" cy="679.41" r="1.6" fill="#f55c3b" stroke="#2e0c08" stroke-width="0.75"/><circle cx="383.55" cy="679.63" r="1.6" fill="#f55c3b" stroke="#2e0c08" stroke-width="0.75"/><circle cx="391.78" cy="679.64" r="1.6" fill="#f55c3b" stroke="#2e0c08" stroke-width="0.75"/><circle cx="393.77" cy="681.7" r="1.6" fill="#f6613f" stroke="#2e0c08" stroke-width="0.75"/><circle cx="390.5" cy="681.76" r="1.6" fill="#f6613f" stroke="#2e0c08" stroke-width="0.75"/><circle cx="392.38" cy="681.87" r="1.6" fill="#f6613f" stroke="#2e0c08" stroke-width="0.75"/><circle cx="397.41" cy="681.9" r="1.6" fill="#f6613f" stroke="#2e0c08" stroke-width="0.75"/><circle cx="395.47" cy="681.98" r="1.6" fill="#f6613f" stroke="#2e0c08" stroke-width="0.75"/><circle cx="388.61" cy="682.03" r="1.6" fill="#f6613f" stroke="#2e0c08" stroke-width="0.75"/><circle cx="383.56" cy="682.2" r="1.6" fill="#f66240" stroke="#2e0c08" stroke-width="0.75"/><circle cx="386.84" cy="682.23" r="1.6" fill="#f66240" stroke="#2e0c08" stroke-width="0.75"/><circle cx="382.03" cy="682.25" r="1.6" fill="#f66240" stroke="#2e0c08" stroke-width="0.75"/><circle cx="385.33" cy="682.29" r="1.6" fill="#f66240" stroke="#2e0c08" stroke-width="0.75"/><circle cx="395.39" cy="684.42" r="1.6" fill="#f76744" stroke="#2e0c08" stroke-width="0.75"/><circle cx="381.56" cy="684.53" r="1.6" fill="#f76845" stroke="#2e0c08" stroke-width="0.75"/><circle cx="393.31" cy="684.54" r="1.6" fill="#f76845" stroke="#2e0c08" stroke-width="0.75"/><circle cx="396.95" cy="684.68" r="1.6" fill="#f76845" stroke="#2e0c08" stroke-width="0.75"/><circle cx="383.58" cy="684.71" r="1.6" fill="#f76845" stroke="#2e0c08" stroke-width="0.75"/><circle cx="386.62" cy="684.72" r="1.6" fill="#f76845" stroke="#2e0c08" stroke-width="0.75"/><circle cx="388.25" cy="684.89" r="1.6" fill="#f76945" stroke="#2e0c08" stroke-width="0.75"/><circle cx="389.86" cy="684.92" r="1.6" fill="#f76945" stroke="#2e0c08" stroke-width="0.75"/><circle cx="392.07" cy="684.93" r="1.6" fill="#f76945" stroke="#2e0c08" stroke-width="0.75"/><circle cx="385.14" cy="685.05" r="1.6" fill="#f76946" stroke="#2e0c08" stroke-width="0.75"/><circle cx="391.86" cy="687.06" r="1.6" fill="#f76e4a" stroke="#2e0c08" stroke-width="0.75"/><circle cx="383.35" cy="687.08" r="1.6" fill="#f76e4a" stroke="#2e0c08" stroke-width="0.75"/><circle cx="397.18" cy="687.16" r="1.6" fill="#f76e4a" stroke="#2e0c08" stroke-width="0.75"/><circle cx="388.63" cy="687.24" r="1.6" fill="#f76f4a" stroke="#2e0c08" stroke-width="0.75"/><circle cx="393.7" cy="687.31" r="1.6" fill="#f76f4b" stroke="#2e0c08" stroke-width="0.75"/><circle cx="382.09" cy="687.39" r="1.6" fill="#f76f4b" stroke="#2e0c08" stroke-width="0.75"/><circle cx="386.85" cy="687.42" r="1.6" fill="#f76f4b" stroke="#2e0c08" stroke-width="0.75"/><circle cx="390.61" cy="687.51" r="1.6" fill="#f76f4b" stroke="#2e0c08" stroke-width="0.75"/><circle cx="395.6" cy="687.55" r="1.6" fill="#f76f4b" stroke="#2e0c08" stroke-width="0.75"/><circle cx="385.49" cy="687.61" r="1.6" fill="#f76f4b" stroke="#2e0c08" stroke-width="0.75"/><circle cx="381.69" cy="689.83" r="1.6" fill="#f87550" stroke="#2e0c08" stroke-width="0.75"/><circle cx="383.47" cy="689.9" r="1.6" fill="#f87550" stroke="#2e0c08" stroke-width="0.75"/><circle cx="387.12" cy="689.91" r="1.6" fill="#f87550" stroke="#2e0c08" stroke-width="0.75"/><circle cx="388.57" cy="689.95" r="1.6" fill="#f87550" stroke="#2e0c08" stroke-width="0.75"/><circle cx="397.51" cy="689.99" r="1.6" fill="#f87550" stroke="#2e0c08" stroke-width="0.75"/><circle cx="394.05" cy="690.09" r="1.6" fill="#f87651" stroke="#2e0c08" stroke-width="0.75"/><circle cx="392.05" cy="690.13" r="1.6" fill="#f87651" stroke="#2e0c08" stroke-width="0.75"/><circle cx="385.2" cy="690.25" r="1.6" fill="#f87651" stroke="#2e0c08" stroke-width="0.75"/><circle cx="390.27" cy="690.28" r="1.6" fill="#f87651" stroke="#2e0c08" stroke-width="0.75"/><circle cx="395.42" cy="690.37" r="1.6" fill="#f87651" stroke="#2e0c08" stroke-width="0.75"/><circle cx="390.7" cy="692.49" r="1.6" fill="#f87c56" stroke="#2e0c08" stroke-width="0.75"/><circle cx="395.33" cy="692.49" r="1.6" fill="#f87c56" stroke="#2e0c08" stroke-width="0.75"/><circle cx="392.01" cy="692.53" r="1.6" fill="#f87c56" stroke="#2e0c08" stroke-width="0.75"/><circle cx="386.82" cy="692.59" r="1.6" fill="#f87c56" stroke="#2e0c08" stroke-width="0.75"/><circle cx="388.68" cy="692.65" r="1.6" fill="#f87c56" stroke="#2e0c08" stroke-width="0.75"/><circle cx="385.62" cy="692.71" r="1.6" fill="#f87c56" stroke="#2e0c08" stroke-width="0.75"/><circle cx="381.87" cy="692.74" r="1.6" fill="#f87c56" stroke="#2e0c08" stroke-width="0.75"/><circle cx="397.2" cy="692.86" r="1.6" fill="#f87d57" stroke="#2e0c08" stroke-width="0.75"/><circle cx="383.41" cy="692.97" r="1.6" fill="#f87d57" stroke="#2e0c08" stroke-width="0.75"/><circle cx="393.91" cy="692.99" r="1.6" fill="#f87d57" stroke="#2e0c08" stroke-width="0.75"/><circle cx="381.84" cy="695.39" r="1.6" fill="#f8835d" stroke="#2e0c08" stroke-width="0.75"/><circle cx="388.95" cy="695.44" r="1.6" fill="#f8845e" stroke="#2e0c08" stroke-width="0.75"/><circle cx="385.3" cy="695.53" r="1.6" fill="#f8845e" stroke="#2e0c08" stroke-width="0.75"/><circle cx="395.78" cy="695.6" r="1.6" fill="#f8845e" stroke="#2e0c08" stroke-width="0.75"/><circle cx="390.6" cy="695.62" r="1.6" fill="#f8845e" stroke="#2e0c08" stroke-width="0.75"/><circle cx="383.89" cy="695.62" r="1.6" fill="#f8845e" stroke="#2e0c08" stroke-width="0.75"/><circle cx="387.14" cy="695.65" r="1.6" fill="#f8845e" stroke="#2e0c08" stroke-width="0.75"/><circle cx="397.22" cy="695.65" r="1.6" fill="#f8845e" stroke="#2e0c08" stroke-width="0.75"/><circle cx="392.32" cy="695.71" r="1.6" fill="#f8845e" stroke="#2e0c08" stroke-width="0.75"/><circle cx="394.01" cy="695.77" r="1.6" fill="#f8855f" stroke="#2e0c08" stroke-width="0.75"/><circle cx="387.09" cy="697.91" r="1.6" fill="#f88a64" stroke="#2e0c08" stroke-width="0.75"/><circle cx="390.56" cy="697.91" r="1.6" fill="#f88a64" stroke="#2e0c08" stroke-width="0.75"/><circle cx="392.1" cy="697.95" r="1.6" fill="#f88a64" stroke="#2e0c08" stroke-width="0.75"/><circle cx="395.26" cy="698" r="1.6" fill="#f88b65" stroke="#2e0c08" stroke-width="0.75"/><circle cx="397.28" cy="698.22" r="1.6" fill="#f98b65" stroke="#2e0c08" stroke-width="0.75"/><circle cx="384.96" cy="698.23" r="1.6" fill="#f98b65" stroke="#2e0c08" stroke-width="0.75"/><circle cx="393.87" cy="698.3" r="1.6" fill="#f98b65" stroke="#2e0c08" stroke-width="0.75"/><circle cx="388.37" cy="698.37" r="1.6" fill="#f98c66" stroke="#2e0c08" stroke-width="0.75"/><circle cx="383.61" cy="698.41" r="1.6" fill="#f98c66" stroke="#2e0c08" stroke-width="0.75"/><circle cx="381.86" cy="698.53" r="1.6" fill="#f98c66" stroke="#2e0c08" stroke-width="0.75"/><circle cx="395.59" cy="700.75" r="1.6" fill="#f9926c" stroke="#2e0c08" stroke-width="0.75"/><circle cx="383.31" cy="700.8" r="1.6" fill="#f9926c" stroke="#2e0c08" stroke-width="0.75"/><circle cx="385.08" cy="700.8" r="1.6" fill="#f9926c" stroke="#2e0c08" stroke-width="0.75"/><circle cx="386.8" cy="700.82" r="1.6" fill="#f9926c" stroke="#2e0c08" stroke-width="0.75"/><circle cx="396.77" cy="700.91" r="1.6" fill="#f9926c" stroke="#2e0c08" stroke-width="0.75"/><circle cx="390.44" cy="700.93" r="1.6" fill="#f9926c" stroke="#2e0c08" stroke-width="0.75"/><circle cx="392.16" cy="700.94" r="1.6" fill="#f9926c" stroke="#2e0c08" stroke-width="0.75"/><circle cx="388.38" cy="700.94" r="1.6" fill="#f9926c" stroke="#2e0c08" stroke-width="0.75"/><circle cx="393.47" cy="701.08" r="1.6" fill="#f9936d" stroke="#2e0c08" stroke-width="0.75"/><circle cx="382.02" cy="701.18" r="1.6" fill="#f9936d" stroke="#2e0c08" stroke-width="0.75"/><circle cx="381.78" cy="703.31" r="1.6" fill="#f99973" stroke="#2e0c08" stroke-width="0.75"/><circle cx="385.2" cy="703.45" r="1.6" fill="#f99973" stroke="#2e0c08" stroke-width="0.75"/><circle cx="396.87" cy="703.47" r="1.6" fill="#f99973" stroke="#2e0c08" stroke-width="0.75"/><circle cx="386.57" cy="703.5" r="1.6" fill="#f99973" stroke="#2e0c08" stroke-width="0.75"/><circle cx="388.62" cy="703.51" r="1.6" fill="#f99973" stroke="#2e0c08" stroke-width="0.75"/><circle cx="389.96" cy="703.75" r="1.6" fill="#f99a74" stroke="#2e0c08" stroke-width="0.75"/><circle cx="383.27" cy="703.76" r="1.6" fill="#f99a74" stroke="#2e0c08" stroke-width="0.75"/><circle cx="395.25" cy="703.81" r="1.6" fill="#f99a74" stroke="#2e0c08" stroke-width="0.75"/><circle cx="393.85" cy="703.89" r="1.6" fill="#f99a74" stroke="#2e0c08" stroke-width="0.75"/><circle cx="391.93" cy="703.89" r="1.6" fill="#f99a74" stroke="#2e0c08" stroke-width="0.75"/><circle cx="396.86" cy="706" r="1.6" fill="#f99e7a" stroke="#2e0c08" stroke-width="0.75"/><circle cx="392.4" cy="706.01" r="1.6" fill="#f99e7a" stroke="#2e0c08" stroke-width="0.75"/><circle cx="382.01" cy="706.1" r="1.6" fill="#f99f7a" stroke="#2e0c08" stroke-width="0.75"/><circle cx="383.15" cy="706.13" r="1.6" fill="#f99f7a" stroke="#2e0c08" stroke-width="0.75"/><circle cx="395.46" cy="706.16" r="1.6" fill="#f99f7a" stroke="#2e0c08" stroke-width="0.75"/><circle cx="384.74" cy="706.21" r="1.6" fill="#f99f7a" stroke="#2e0c08" stroke-width="0.75"/><circle cx="389.91" cy="706.21" r="1.6" fill="#f99f7a" stroke="#2e0c08" stroke-width="0.75"/><circle cx="394.04" cy="706.29" r="1.6" fill="#f99f7a" stroke="#2e0c08" stroke-width="0.75"/><circle cx="387.14" cy="706.33" r="1.6" fill="#f99f7a" stroke="#2e0c08" stroke-width="0.75"/><circle cx="391.06" cy="706.56" r="1.6" fill="#faa07b" stroke="#2e0c08" stroke-width="0.75"/><circle cx="388.75" cy="706.59" r="1.6" fill="#faa07b" stroke="#2e0c08" stroke-width="0.75"/><circle cx="385.99" cy="706.64" r="1.6" fill="#faa07b" stroke="#2e0c08" stroke-width="0.75"/><circle cx="383.28" cy="708.68" r="1.6" fill="#faa480" stroke="#2e0c08" stroke-width="0.75"/><circle cx="395.4" cy="708.7" r="1.6" fill="#faa480" stroke="#2e0c08" stroke-width="0.75"/><circle cx="388.19" cy="708.71" r="1.6" fill="#faa480" stroke="#2e0c08" stroke-width="0.75"/><circle cx="392.49" cy="708.8" r="1.6" fill="#faa481" stroke="#2e0c08" stroke-width="0.75"/><circle cx="384.14" cy="708.84" r="1.6" fill="#faa481" stroke="#2e0c08" stroke-width="0.75"/><circle cx="391.23" cy="708.91" r="1.6" fill="#faa481" stroke="#2e0c08" stroke-width="0.75"/><circle cx="386.86" cy="709.03" r="1.6" fill="#faa481" stroke="#2e0c08" stroke-width="0.75"/><circle cx="389.91" cy="709.04" r="1.6" fill="#faa481" stroke="#2e0c08" stroke-width="0.75"/><circle cx="385.7" cy="709.09" r="1.6" fill="#faa581" stroke="#2e0c08" stroke-width="0.75"/><circle cx="393.76" cy="709.17" r="1.6" fill="#faa582" stroke="#2e0c08" stroke-width="0.75"/><circle cx="396.32" cy="709.22" r="1.6" fill="#faa582" stroke="#2e0c08" stroke-width="0.75"/><circle cx="381.99" cy="709.29" r="1.6" fill="#faa582" stroke="#2e0c08" stroke-width="0.75"/><circle cx="396.65" cy="711.48" r="1.6" fill="#faa987" stroke="#2e0c08" stroke-width="0.75"/><circle cx="388.54" cy="711.52" r="1.6" fill="#faa988" stroke="#2e0c08" stroke-width="0.75"/><circle cx="382.97" cy="711.53" r="1.6" fill="#faa988" stroke="#2e0c08" stroke-width="0.75"/><circle cx="392.37" cy="711.54" r="1.6" fill="#faa988" stroke="#2e0c08" stroke-width="0.75"/><circle cx="384.4" cy="711.64" r="1.6" fill="#faaa88" stroke="#2e0c08" stroke-width="0.75"/><circle cx="385.87" cy="711.72" r="1.6" fill="#faaa88" stroke="#2e0c08" stroke-width="0.75"/><circle cx="393.91" cy="711.75" r="1.6" fill="#faaa88" stroke="#2e0c08" stroke-width="0.75"/><circle cx="391.27" cy="711.79" r="1.6" fill="#faaa88" stroke="#2e0c08" stroke-width="0.75"/><circle cx="395.2" cy="711.79" r="1.6" fill="#faaa88" stroke="#2e0c08" stroke-width="0.75"/><circle cx="381.62" cy="711.82" r="1.6" fill="#faaa88" stroke="#2e0c08" stroke-width="0.75"/><circle cx="389.52" cy="711.97" r="1.6" fill="#faaa89" stroke="#2e0c08" stroke-width="0.75"/><circle cx="387.35" cy="712.02" r="1.6" fill="#faaa89" stroke="#2e0c08" stroke-width="0.75"/><circle cx="384.72" cy="714.1" r="1.6" fill="#fbae8e" stroke="#2e0c08" stroke-width="0.75"/><circle cx="395.23" cy="714.19" r="1.6" fill="#fbaf8e" stroke="#2e0c08" stroke-width="0.75"/><circle cx="386.05" cy="714.35" r="1.6" fill="#fbaf8f" stroke="#2e0c08" stroke-width="0.75"/><circle cx="388.35" cy="714.42" r="1.6" fill="#fbaf8f" stroke="#2e0c08" stroke-width="0.75"/><circle cx="396.34" cy="714.42" r="1.6" fill="#fbaf8f" stroke="#2e0c08" stroke-width="0.75"/><circle cx="392.75" cy="714.47" r="1.6" fill="#fbaf8f" stroke="#2e0c08" stroke-width="0.75"/><circle cx="393.68" cy="714.49" r="1.6" fill="#fbaf8f" stroke="#2e0c08" stroke-width="0.75"/><circle cx="390.12" cy="714.56" r="1.6" fill="#fbaf8f" stroke="#2e0c08" stroke-width="0.75"/><circle cx="381.99" cy="714.57" r="1.6" fill="#fbaf8f" stroke="#2e0c08" stroke-width="0.75"/><circle cx="387.14" cy="714.73" r="1.6" fill="#fbb090" stroke="#2e0c08" stroke-width="0.75"/><circle cx="391.19" cy="714.74" r="1.6" fill="#fbb090" stroke="#2e0c08" stroke-width="0.75"/><circle cx="382.84" cy="714.74" r="1.6" fill="#fbb090" stroke="#2e0c08" stroke-width="0.75"/><circle cx="393.93" cy="716.76" r="1.6" fill="#fbb495" stroke="#2e0c08" stroke-width="0.75"/><circle cx="395.25" cy="716.78" r="1.6" fill="#fbb495" stroke="#2e0c08" stroke-width="0.75"/><circle cx="386.02" cy="716.79" r="1.6" fill="#fbb495" stroke="#2e0c08" stroke-width="0.75"/><circle cx="389.92" cy="716.95" r="1.6" fill="#fbb496" stroke="#2e0c08" stroke-width="0.75"/><circle cx="387.57" cy="717.04" r="1.6" fill="#fbb596" stroke="#2e0c08" stroke-width="0.75"/><circle cx="383.05" cy="717.08" r="1.6" fill="#fbb596" stroke="#2e0c08" stroke-width="0.75"/><circle cx="384.41" cy="717.1" r="1.6" fill="#fbb596" stroke="#2e0c08" stroke-width="0.75"/><circle cx="391.45" cy="717.14" r="1.6" fill="#fbb596" stroke="#2e0c08" stroke-width="0.75"/><circle cx="388.67" cy="717.17" r="1.6" fill="#fbb597" stroke="#2e0c08" stroke-width="0.75"/><circle cx="392.57" cy="717.25" r="1.6" fill="#fbb597" stroke="#2e0c08" stroke-width="0.75"/><circle cx="396.55" cy="717.28" r="1.6" fill="#fbb597" stroke="#2e0c08" stroke-width="0.75"/><circle cx="381.63" cy="717.4" r="1.6" fill="#fbb597" stroke="#2e0c08" stroke-width="0.75"/><circle cx="387.34" cy="719.49" r="1.6" fill="#fbba9d" stroke="#2e0c08" stroke-width="0.75"/><circle cx="389.86" cy="719.63" r="1.6" fill="#fbba9e" stroke="#2e0c08" stroke-width="0.75"/><circle cx="386.19" cy="719.63" r="1.6" fill="#fbba9e" stroke="#2e0c08" stroke-width="0.75"/><circle cx="388.57" cy="719.71" r="1.6" fill="#fbba9e" stroke="#2e0c08" stroke-width="0.75"/><circle cx="391.69" cy="719.84" r="1.6" fill="#fbbb9e" stroke="#2e0c08" stroke-width="0.75"/><circle cx="396.6" cy="719.87" r="1.6" fill="#fbbb9e" stroke="#2e0c08" stroke-width="0.75"/><circle cx="384.41" cy="719.88" r="1.6" fill="#fbbb9e" stroke="#2e0c08" stroke-width="0.75"/><circle cx="382.09" cy="719.94" r="1.6" fill="#fbbb9e" stroke="#2e0c08" stroke-width="0.75"/><circle cx="395.58" cy="720.02" r="1.6" fill="#fbbb9f" stroke="#2e0c08" stroke-width="0.75"/><circle cx="392.8" cy="720.13" r="1.6" fill="#fbbb9f" stroke="#2e0c08" stroke-width="0.75"/><circle cx="383.51" cy="720.14" r="1.6" fill="#fbbb9f" stroke="#2e0c08" stroke-width="0.75"/><circle cx="394.19" cy="720.15" r="1.6" fill="#fbbb9f" stroke="#2e0c08" stroke-width="0.75"/><circle cx="387.44" cy="722.2" r="1.6" fill="#fcc0a5" stroke="#2e0c08" stroke-width="0.75"/><circle cx="394.16" cy="722.39" r="1.6" fill="#fcc0a5" stroke="#2e0c08" stroke-width="0.75"/><circle cx="389.72" cy="722.4" r="1.6" fill="#fcc0a6" stroke="#2e0c08" stroke-width="0.75"/><circle cx="396.78" cy="722.42" r="1.6" fill="#fcc0a6" stroke="#2e0c08" stroke-width="0.75"/><circle cx="382.1" cy="722.43" r="1.6" fill="#fcc0a6" stroke="#2e0c08" stroke-width="0.75"/><circle cx="386.12" cy="722.43" r="1.6" fill="#fcc0a6" stroke="#2e0c08" stroke-width="0.75"/><circle cx="388.57" cy="722.48" r="1.6" fill="#fcc0a6" stroke="#2e0c08" stroke-width="0.75"/><circle cx="395.51" cy="722.55" r="1.6" fill="#fcc0a6" stroke="#2e0c08" stroke-width="0.75"/><circle cx="391.44" cy="722.59" r="1.6" fill="#fcc1a6" stroke="#2e0c08" stroke-width="0.75"/><circle cx="384.73" cy="722.69" r="1.6" fill="#fcc1a6" stroke="#2e0c08" stroke-width="0.75"/><circle cx="383.5" cy="722.77" r="1.6" fill="#fcc1a7" stroke="#2e0c08" stroke-width="0.75"/><circle cx="392.55" cy="722.81" r="1.6" fill="#fcc1a7" stroke="#2e0c08" stroke-width="0.75"/><circle cx="383.4" cy="724.98" r="1.6" fill="#fcc6ad" stroke="#2e0c08" stroke-width="0.75"/><circle cx="385.83" cy="724.99" r="1.6" fill="#fcc6ad" stroke="#2e0c08" stroke-width="0.75"/><circle cx="395.52" cy="725.03" r="1.6" fill="#fcc6ad" stroke="#2e0c08" stroke-width="0.75"/><circle cx="387.04" cy="725.21" r="1.6" fill="#fcc6ae" stroke="#2e0c08" stroke-width="0.75"/><circle cx="392.58" cy="725.27" r="1.6" fill="#fcc6ae" stroke="#2e0c08" stroke-width="0.75"/><circle cx="391.51" cy="725.29" r="1.6" fill="#fcc6ae" stroke="#2e0c08" stroke-width="0.75"/><circle cx="381.55" cy="725.34" r="1.6" fill="#fcc6ae" stroke="#2e0c08" stroke-width="0.75"/><circle cx="390.12" cy="725.34" r="1.6" fill="#fcc6ae" stroke="#2e0c08" stroke-width="0.75"/><circle cx="384.51" cy="725.37" r="1.6" fill="#fcc7ae" stroke="#2e0c08" stroke-width="0.75"/><circle cx="396.94" cy="725.37" r="1.6" fill="#fcc7ae" stroke="#2e0c08" stroke-width="0.75"/><circle cx="388.3" cy="725.48" r="1.6" fill="#fcc7ae" stroke="#2e0c08" stroke-width="0.75"/><circle cx="393.99" cy="725.54" r="1.6" fill="#fcc7af" stroke="#2e0c08" stroke-width="0.75"/><circle cx="384.37" cy="727.58" r="1.6" fill="#fcccb6" stroke="#2e0c08" stroke-width="0.75"/><circle cx="383.07" cy="727.6" r="1.6" fill="#fcccb6" stroke="#2e0c08" stroke-width="0.75"/><circle cx="391.61" cy="727.62" r="1.6" fill="#fcccb6" stroke="#2e0c08" stroke-width="0.75"/><circle cx="387.34" cy="727.65" r="1.6" fill="#fcccb6" stroke="#2e0c08" stroke-width="0.75"/><circle cx="388.46" cy="727.69" r="1.6" fill="#fcccb6" stroke="#2e0c08" stroke-width="0.75"/><circle cx="396.76" cy="727.85" r="1.6" fill="#fccdb7" stroke="#2e0c08" stroke-width="0.75"/><circle cx="395.3" cy="727.88" r="1.6" fill="#fccdb7" stroke="#2e0c08" stroke-width="0.75"/><circle cx="385.98" cy="727.91" r="1.6" fill="#fccdb7" stroke="#2e0c08" stroke-width="0.75"/><circle cx="381.9" cy="728.03" r="1.6" fill="#fccdb7" stroke="#2e0c08" stroke-width="0.75"/><circle cx="394.03" cy="728.09" r="1.6" fill="#fccdb8" stroke="#2e0c08" stroke-width="0.75"/><circle cx="392.44" cy="728.22" r="1.6" fill="#fcceb8" stroke="#2e0c08" stroke-width="0.75"/><circle cx="390.21" cy="728.24" r="1.6" fill="#fcceb8" stroke="#2e0c08" stroke-width="0.75"/><circle cx="392.87" cy="730.26" r="1.6" fill="#fdd3c0" stroke="#2e0c08" stroke-width="0.75"/><circle cx="383.56" cy="730.4" r="1.6" fill="#fdd4c0" stroke="#2e0c08" stroke-width="0.75"/><circle cx="385.79" cy="730.42" r="1.6" fill="#fdd4c0" stroke="#2e0c08" stroke-width="0.75"/><circle cx="387.5" cy="730.43" r="1.6" fill="#fdd4c1" stroke="#2e0c08" stroke-width="0.75"/><circle cx="381.85" cy="730.47" r="1.6" fill="#fdd4c1" stroke="#2e0c08" stroke-width="0.75"/><circle cx="391.19" cy="730.53" r="1.6" fill="#fdd4c1" stroke="#2e0c08" stroke-width="0.75"/><circle cx="396.58" cy="730.6" r="1.6" fill="#fdd4c1" stroke="#2e0c08" stroke-width="0.75"/><circle cx="393.93" cy="730.73" r="1.6" fill="#fdd5c2" stroke="#2e0c08" stroke-width="0.75"/><circle cx="390.01" cy="730.8" r="1.6" fill="#fdd5c2" stroke="#2e0c08" stroke-width="0.75"/><circle cx="388.47" cy="730.83" r="1.6" fill="#fdd5c2" stroke="#2e0c08" stroke-width="0.75"/><circle cx="384.96" cy="730.87" r="1.6" fill="#fdd5c2" stroke="#2e0c08" stroke-width="0.75"/><circle cx="395.71" cy="730.93" r="1.6" fill="#fdd5c2" stroke="#2e0c08" stroke-width="0.75"/><circle cx="389.85" cy="733.36" r="1.6" fill="#fddccc" stroke="#2e0c08" stroke-width="0.75"/><circle cx="385.63" cy="733.39" r="1.6" fill="#fddccc" stroke="#2e0c08" stroke-width="0.75"/><circle cx="395.44" cy="733.41" r="1.6" fill="#fddccc" stroke="#2e0c08" stroke-width="0.75"/><circle cx="388.4" cy="733.54" r="1.6" fill="#fddccc" stroke="#2e0c08" stroke-width="0.75"/><circle cx="387.15" cy="733.56" r="1.6" fill="#fddccc" stroke="#2e0c08" stroke-width="0.75"/><circle cx="384.2" cy="733.61" r="1.6" fill="#fddccc" stroke="#2e0c08" stroke-width="0.75"/><circle cx="392.61" cy="733.62" r="1.6" fill="#fddccd" stroke="#2e0c08" stroke-width="0.75"/><circle cx="394.09" cy="733.68" r="1.6" fill="#fdddcd" stroke="#2e0c08" stroke-width="0.75"/><circle cx="381.64" cy="733.68" r="1.6" fill="#fdddcd" stroke="#2e0c08" stroke-width="0.75"/><circle cx="391" cy="733.69" r="1.6" fill="#fdddcd" stroke="#2e0c08" stroke-width="0.75"/><circle cx="382.84" cy="733.76" r="1.6" fill="#fdddcd" stroke="#2e0c08" stroke-width="0.75"/><circle cx="396.72" cy="733.82" r="1.6" fill="#fdddcd" stroke="#2e0c08" stroke-width="0.75"/><circle cx="387.21" cy="736.94" r="1.6" fill="#fee5d9" stroke="#2e0c08" stroke-width="0.6"/><circle cx="391.17" cy="736.98" r="1.6" fill="#fee5d9" stroke="#2e0c08" stroke-width="0.6"/><circle cx="395.04" cy="736.99" r="1.6" fill="#fee5d9" stroke="#2e0c08" stroke-width="0.6"/><circle cx="386.13" cy="737.04" r="1.6" fill="#fee6d9" stroke="#2e0c08" stroke-width="0.6"/><circle cx="390.17" cy="737.18" r="1.6" fill="#fee6da" stroke="#2e0c08" stroke-width="0.6"/><circle cx="382.91" cy="737.23" r="1.6" fill="#fee6da" stroke="#2e0c08" stroke-width="0.6"/><circle cx="396.51" cy="737.33" r="1.6" fill="#fee6db" stroke="#2e0c08" stroke-width="0.6"/><circle cx="381.82" cy="737.33" r="1.6" fill="#fee6db" stroke="#2e0c08" stroke-width="0.6"/><circle cx="393.75" cy="737.4" r="1.6" fill="#fee7db" stroke="#2e0c08" stroke-width="0.6"/><circle cx="388.54" cy="737.42" r="1.6" fill="#fee7db" stroke="#2e0c08" stroke-width="0.6"/><circle cx="392.7" cy="737.5" r="1.6" fill="#fee7db" stroke="#2e0c08" stroke-width="0.6"/><circle cx="384.47" cy="737.52" r="1.6" fill="#fee7db" stroke="#2e0c08" stroke-width="0.6"/><circle cx="394.02" cy="741.67" r="1.6" fill="#fff3ed" stroke="#2e0c08" stroke-width="0.6"/><circle cx="391.3" cy="741.79" r="1.6" fill="#fff4ee" stroke="#2e0c08" stroke-width="0.6"/><circle cx="385.75" cy="741.92" r="1.6" fill="#fff4ee" stroke="#2e0c08" stroke-width="0.6"/><circle cx="392.63" cy="742" r="1.6" fill="#fff4ee" stroke="#2e0c08" stroke-width="0.6"/><circle cx="395.59" cy="742.01" r="1.6" fill="#fff4ee" stroke="#2e0c08" stroke-width="0.6"/><circle cx="383.24" cy="742.02" r="1.6" fill="#fff4ee" stroke="#2e0c08" stroke-width="0.6"/><circle cx="390.19" cy="742.02" r="1.6" fill="#fff4ee" stroke="#2e0c08" stroke-width="0.6"/><circle cx="384.72" cy="742.04" r="1.6" fill="#fff4ee" stroke="#2e0c08" stroke-width="0.6"/><circle cx="381.68" cy="742.16" r="1.6" fill="#fff4ef" stroke="#2e0c08" stroke-width="0.6"/><circle cx="396.6" cy="742.21" r="1.6" fill="#fff5ef" stroke="#2e0c08" stroke-width="0.6"/><circle cx="388.39" cy="742.25" r="1.6" fill="#fff5ef" stroke="#2e0c08" stroke-width="0.6"/><circle cx="387.42" cy="742.28" r="1.6" fill="#fff5ef" stroke="#2e0c08" stroke-width="0.6"/><circle cx="381.85" cy="747.51" r="1.6" fill="#fffefd" stroke="#2e0c08" stroke-width="0.6"/><circle cx="390.22" cy="747.55" r="1.6" fill="#fffefd" stroke="#2e0c08" stroke-width="0.6"/><circle cx="396.54" cy="747.6" r="1.6" fill="#fffefd" stroke="#2e0c08" stroke-width="0.6"/><circle cx="388.5" cy="747.68" r="1.6" fill="#fffefd" stroke="#2e0c08" stroke-width="0.6"/><circle cx="384.8" cy="747.79" r="1.6" fill="#fffefe" stroke="#2e0c08" stroke-width="0.6"/><circle cx="391.18" cy="747.81" r="1.6" fill="#fffefe" stroke="#2e0c08" stroke-width="0.6"/><circle cx="383.26" cy="747.84" r="1.6" fill="#fffefe" stroke="#2e0c08" stroke-width="0.6"/><circle cx="387.08" cy="748.01" r="1.6" fill="#fffefe" stroke="#2e0c08" stroke-width="0.6"/><circle cx="385.71" cy="748.02" r="1.6" fill="#fffefe" stroke="#2e0c08" stroke-width="0.6"/><circle cx="392.88" cy="748.04" r="1.6" fill="#fffefe" stroke="#2e0c08" stroke-width="0.6"/><circle cx="394.21" cy="748.11" r="1.6" fill="#fffffe" stroke="#2e0c08" stroke-width="0.6"/><circle cx="395.44" cy="748.11" r="1.6" fill="#fffffe" stroke="#2e0c08" stroke-width="0.6"/></g>
<line x1="302.6" y1="575.5" x2="302.6" y2="769.8" stroke="#777" stroke-width="0.9"/>
<line x1="302.6" y1="769.4" x2="415.3" y2="769.4" stroke="#777" stroke-width="0.9"/>
<line x1="327.6" y1="769.4" x2="327.6" y2="771.4" stroke="#555" stroke-width="0.8"/>
<line x1="389.4" y1="769.4" x2="389.4" y2="771.4" stroke="#555" stroke-width="0.8"/>
<line x1="300" y1="759.5" x2="302.6" y2="759.5" stroke="#666" stroke-width="0.8"/>
<text x="297.6" y="762.1" font-size="7.3" font-weight="bold" fill="#222" text-anchor="end" stroke="#222" stroke-width="0.3">0</text>
<line x1="300" y1="737.2" x2="302.6" y2="737.2" stroke="#666" stroke-width="0.8"/>
<text x="297.6" y="739.8" font-size="7.3" font-weight="bold" fill="#222" text-anchor="end" stroke="#222" stroke-width="0.3">2</text>
<line x1="300" y1="714.9" x2="302.6" y2="714.9" stroke="#666" stroke-width="0.8"/>
<text x="297.6" y="717.5" font-size="7.3" font-weight="bold" fill="#222" text-anchor="end" stroke="#222" stroke-width="0.3">4</text>
<line x1="300" y1="692.6" x2="302.6" y2="692.6" stroke="#666" stroke-width="0.8"/>
<text x="297.6" y="695.2" font-size="7.3" font-weight="bold" fill="#222" text-anchor="end" stroke="#222" stroke-width="0.3">6</text>
<line x1="300" y1="670.3" x2="302.6" y2="670.3" stroke="#666" stroke-width="0.8"/>
<text x="297.6" y="672.9" font-size="7.3" font-weight="bold" fill="#222" text-anchor="end" stroke="#222" stroke-width="0.3">8</text>
<line x1="300" y1="648" x2="302.6" y2="648" stroke="#666" stroke-width="0.8"/>
<text x="297.6" y="650.6" font-size="7.3" font-weight="bold" fill="#222" text-anchor="end" stroke="#222" stroke-width="0.3">10</text>
<line x1="300" y1="625.7" x2="302.6" y2="625.7" stroke="#666" stroke-width="0.8"/>
<text x="297.6" y="628.3" font-size="7.3" font-weight="bold" fill="#222" text-anchor="end" stroke="#222" stroke-width="0.3">12</text>
<line x1="300" y1="603.4" x2="302.6" y2="603.4" stroke="#666" stroke-width="0.8"/>
<text x="297.6" y="606" font-size="7.3" font-weight="bold" fill="#222" text-anchor="end" stroke="#222" stroke-width="0.3">14</text>
<line x1="300" y1="581.1" x2="302.6" y2="581.1" stroke="#666" stroke-width="0.8"/>
<text x="297.6" y="583.7" font-size="7.3" font-weight="bold" fill="#222" text-anchor="end" stroke="#222" stroke-width="0.3">16</text>
<text x="303.9" y="582.4" font-size="12" font-weight="bold" fill="#333" textLength="105.4" lengthAdjust="spacingAndGlyphs" stroke="#333" stroke-width="0.25">MECP2: Mutations</text>
<text x="285.2" y="675" font-size="11.2" font-weight="bold" fill="#222" text-anchor="middle" transform="rotate(-90 285.2 675)" textLength="184" lengthAdjust="spacingAndGlyphs" stroke="#222" stroke-width="0.25">Mutation Count (log2(value + 1))</text>
<text x="321.2" y="779.3" font-size="12" font-weight="bold" fill="#111" transform="rotate(28.5 321.2 779.3)" stroke="#111" stroke-width="0.25">Mutated</text>
<text x="383.4" y="779.3" font-size="12" font-weight="bold" fill="#111" transform="rotate(28.5 383.4 779.3)" stroke="#111" stroke-width="0.25">No mutation</text>
<text x="403.8" y="603.8" font-size="10.3" font-weight="bold" fill="#333" textLength="21.4" lengthAdjust="spacingAndGlyphs" stroke="#333" stroke-width="0.25">TMB</text>
<text x="402.8" y="611.8" font-size="10.3" font-weight="bold" fill="#333" textLength="89" lengthAdjust="spacingAndGlyphs" stroke="#333" stroke-width="0.25">(nonsynonymous)</text>
<defs><linearGradient id="gD" x1="0" y1="0" x2="0" y2="1"><stop offset="0" stop-color="#6a0810"/><stop offset="0.5" stop-color="#9e0e1c"/><stop offset="0.85" stop-color="#d01c24"/><stop offset="1" stop-color="#f03030"/></linearGradient></defs><rect x="434.1" y="623.4" width="10.2" height="38.4" fill="url(#gD)"/>
<text x="446.3" y="626.3" font-size="10.2" font-weight="bold" fill="#111" font-family="Liberation Serif, serif" stroke="#111" stroke-width="0.25">1052.2</text>
<text x="446.3" y="645.3" font-size="10.2" font-weight="bold" fill="#111" font-family="Liberation Serif, serif" stroke="#111" stroke-width="0.25">526.12</text>
<text x="446.3" y="664" font-size="10.2" font-weight="bold" fill="#111" font-family="Liberation Serif, serif" stroke="#111" stroke-width="0.25">0.03</text>
<circle cx="433.5" cy="683.4" r="1.5" fill="#c4c4c4"/>
<text x="437" y="687.3" font-size="9.2" font-weight="bold" fill="#333" textLength="33.6" lengthAdjust="spacingAndGlyphs" stroke="#333" stroke-width="0.25">No data</text>
<text x="430.4" y="705.6" font-size="9.6" font-weight="bold" fill="#222" textLength="41.8" lengthAdjust="spacingAndGlyphs" stroke="#222" stroke-width="0.25">P&lt;0.0001</text>
<text x="416.3" y="718.4" font-size="9.4" font-weight="bold" fill="#222" textLength="66.3" lengthAdjust="spacingAndGlyphs" stroke="#222" stroke-width="0.25">10105 samples</text>
</g>
<g id="panelE">
<text x="530.9" y="562.6" font-size="23" font-weight="bold" text-anchor="middle" font-family="Liberation Serif, serif">E</text>
<line x1="556.2" y1="574" x2="556.2" y2="743.7" stroke="#949494" stroke-width="1"/>
<line x1="555.7" y1="743.2" x2="771.5" y2="743.2" stroke="#949494" stroke-width="1"/>
<line x1="554.4" y1="743.2" x2="556.2" y2="743.2" stroke="#949494" stroke-width="0.8"/>
<text x="554.3" y="745.4" font-size="6.2" font-weight="bold" fill="#2a2a2a" text-anchor="end" stroke="#2a2a2a" stroke-width="0.3">0%</text>
<line x1="554.4" y1="727.15" x2="556.2" y2="727.15" stroke="#949494" stroke-width="0.8"/>
<text x="554.3" y="729.35" font-size="6.2" font-weight="bold" fill="#2a2a2a" text-anchor="end" stroke="#2a2a2a" stroke-width="0.3">10%</text>
<line x1="554.4" y1="711.1" x2="556.2" y2="711.1" stroke="#949494" stroke-width="0.8"/>
<text x="554.3" y="713.3" font-size="6.2" font-weight="bold" fill="#2a2a2a" text-anchor="end" stroke="#2a2a2a" stroke-width="0.3">20%</text>
<line x1="554.4" y1="695.05" x2="556.2" y2="695.05" stroke="#949494" stroke-width="0.8"/>
<text x="554.3" y="697.25" font-size="6.2" font-weight="bold" fill="#2a2a2a" text-anchor="end" stroke="#2a2a2a" stroke-width="0.3">30%</text>
<line x1="554.4" y1="679" x2="556.2" y2="679" stroke="#949494" stroke-width="0.8"/>
<text x="554.3" y="681.2" font-size="6.2" font-weight="bold" fill="#2a2a2a" text-anchor="end" stroke="#2a2a2a" stroke-width="0.3">40%</text>
<line x1="554.4" y1="662.95" x2="556.2" y2="662.95" stroke="#949494" stroke-width="0.8"/>
<text x="554.3" y="665.15" font-size="6.2" font-weight="bold" fill="#2a2a2a" text-anchor="end" stroke="#2a2a2a" stroke-width="0.3">50%</text>
<line x1="554.4" y1="646.9" x2="556.2" y2="646.9" stroke="#949494" stroke-width="0.8"/>
<text x="554.3" y="649.1" font-size="6.2" font-weight="bold" fill="#2a2a2a" text-anchor="end" stroke="#2a2a2a" stroke-width="0.3">60%</text>
<line x1="554.4" y1="630.85" x2="556.2" y2="630.85" stroke="#949494" stroke-width="0.8"/>
<text x="554.3" y="633.05" font-size="6.2" font-weight="bold" fill="#2a2a2a" text-anchor="end" stroke="#2a2a2a" stroke-width="0.3">70%</text>
<line x1="554.4" y1="614.8" x2="556.2" y2="614.8" stroke="#949494" stroke-width="0.8"/>
<text x="554.3" y="617" font-size="6.2" font-weight="bold" fill="#2a2a2a" text-anchor="end" stroke="#2a2a2a" stroke-width="0.3">80%</text>
<line x1="554.4" y1="598.75" x2="556.2" y2="598.75" stroke="#949494" stroke-width="0.8"/>
<text x="554.3" y="600.95" font-size="6.2" font-weight="bold" fill="#2a2a2a" text-anchor="end" stroke="#2a2a2a" stroke-width="0.3">90%</text>
<line x1="554.4" y1="582.7" x2="556.2" y2="582.7" stroke="#949494" stroke-width="0.8"/>
<text x="554.3" y="584.9" font-size="6.2" font-weight="bold" fill="#2a2a2a" text-anchor="end" stroke="#2a2a2a" stroke-width="0.3">100%</text>
<line x1="556.2" y1="743.2" x2="556.2" y2="745" stroke="#949494" stroke-width="0.8"/>
<text x="556.2" y="751.1" font-size="6.2" font-weight="bold" fill="#2a2a2a" text-anchor="middle" stroke="#2a2a2a" stroke-width="0.3">0</text>
<line x1="574.95" y1="743.2" x2="574.95" y2="745" stroke="#949494" stroke-width="0.8"/>
<text x="574.95" y="751.1" font-size="6.2" font-weight="bold" fill="#2a2a2a" text-anchor="middle" stroke="#2a2a2a" stroke-width="0.3">20</text>
<line x1="593.7" y1="743.2" x2="593.7" y2="745" stroke="#949494" stroke-width="0.8"/>
<text x="593.7" y="751.1" font-size="6.2" font-weight="bold" fill="#2a2a2a" text-anchor="middle" stroke="#2a2a2a" stroke-width="0.3">40</text>
<line x1="612.45" y1="743.2" x2="612.45" y2="745" stroke="#949494" stroke-width="0.8"/>
<text x="612.45" y="751.1" font-size="6.2" font-weight="bold" fill="#2a2a2a" text-anchor="middle" stroke="#2a2a2a" stroke-width="0.3">60</text>
<line x1="631.2" y1="743.2" x2="631.2" y2="745" stroke="#949494" stroke-width="0.8"/>
<text x="631.2" y="751.1" font-size="6.2" font-weight="bold" fill="#2a2a2a" text-anchor="middle" stroke="#2a2a2a" stroke-width="0.3">80</text>
<line x1="649.95" y1="743.2" x2="649.95" y2="745" stroke="#949494" stroke-width="0.8"/>
<text x="649.95" y="751.1" font-size="6.2" font-weight="bold" fill="#2a2a2a" text-anchor="middle" stroke="#2a2a2a" stroke-width="0.3">100</text>
<line x1="668.7" y1="743.2" x2="668.7" y2="745" stroke="#949494" stroke-width="0.8"/>
<text x="668.7" y="751.1" font-size="6.2" font-weight="bold" fill="#2a2a2a" text-anchor="middle" stroke="#2a2a2a" stroke-width="0.3">120</text>
<line x1="687.45" y1="743.2" x2="687.45" y2="745" stroke="#949494" stroke-width="0.8"/>
<text x="687.45" y="751.1" font-size="6.2" font-weight="bold" fill="#2a2a2a" text-anchor="middle" stroke="#2a2a2a" stroke-width="0.3">140</text>
<line x1="706.2" y1="743.2" x2="706.2" y2="745" stroke="#949494" stroke-width="0.8"/>
<text x="706.2" y="751.1" font-size="6.2" font-weight="bold" fill="#2a2a2a" text-anchor="middle" stroke="#2a2a2a" stroke-width="0.3">160</text>
<line x1="724.95" y1="743.2" x2="724.95" y2="745" stroke="#949494" stroke-width="0.8"/>
<text x="724.95" y="751.1" font-size="6.2" font-weight="bold" fill="#2a2a2a" text-anchor="middle" stroke="#2a2a2a" stroke-width="0.3">180</text>
<line x1="743.7" y1="743.2" x2="743.7" y2="745" stroke="#949494" stroke-width="0.8"/>
<text x="743.7" y="751.1" font-size="6.2" font-weight="bold" fill="#2a2a2a" text-anchor="middle" stroke="#2a2a2a" stroke-width="0.3">200</text>
<line x1="762.45" y1="743.2" x2="762.45" y2="745" stroke="#949494" stroke-width="0.8"/>
<text x="762.45" y="751.1" font-size="6.2" font-weight="bold" fill="#2a2a2a" text-anchor="middle" stroke="#2a2a2a" stroke-width="0.3">220</text>
<text x="663.6" y="580" font-size="10.5" font-weight="bold" fill="#111" text-anchor="middle" stroke="#111" stroke-width="0.25">UCEC</text>
<text x="637.3" y="761.2" font-size="7.9" font-weight="bold" fill="#444" textLength="83.1" lengthAdjust="spacingAndGlyphs" stroke="#444" stroke-width="0.3">Disease Free (Months)</text>
<text x="539.9" y="650" font-size="7.6" font-weight="bold" fill="#222" text-anchor="middle" transform="rotate(-90 539.9 650)" textLength="48.2" lengthAdjust="spacingAndGlyphs" stroke="#222" stroke-width="0.3">Disease Free</text>
<path d="M556.22 582.75 L566.17 582.75 L566.49 601.1 L579.24 601.1 L579.55 607.79 L678 607.79" fill="none" stroke="#ea4a2a" stroke-width="0.7" opacity="0.65"/>
<rect x="563.99" y="581.75" width="2.2" height="2" fill="#ea4a2a" rx="0.6"/>
<rect x="568.34" y="600.1" width="2.2" height="2" fill="#ea4a2a" rx="0.6"/>
<rect x="576.12" y="600.1" width="2.2" height="2" fill="#ea4a2a" rx="0.6"/>
<rect x="580.78" y="606.79" width="2.2" height="2" fill="#ea4a2a" rx="0.6"/>
<rect x="583.11" y="606.79" width="2.2" height="2" fill="#ea4a2a" rx="0.6"/>
<rect x="585.45" y="606.79" width="2.2" height="2" fill="#ea4a2a" rx="0.6"/>
<rect x="592.45" y="606.79" width="2.2" height="2" fill="#ea4a2a" rx="0.6"/>
<rect x="598.36" y="606.79" width="2.2" height="2" fill="#ea4a2a" rx="0.6"/>
<rect x="599.44" y="606.79" width="2.2" height="2" fill="#ea4a2a" rx="0.6"/>
<rect x="609.55" y="606.79" width="2.2" height="2" fill="#ea4a2a" rx="0.6"/>
<rect x="612.35" y="606.79" width="2.2" height="2" fill="#ea4a2a" rx="0.6"/>
<rect x="619.35" y="606.79" width="2.2" height="2" fill="#ea4a2a" rx="0.6"/>
<rect x="649.7" y="606.79" width="2.2" height="2" fill="#ea4a2a" rx="0.6"/>
<rect x="654.8" y="606.79" width="2.2" height="2" fill="#ea4a2a" rx="0.6"/>
<rect x="657.2" y="606.79" width="2.2" height="2" fill="#ea4a2a" rx="0.6"/>
<rect x="676.9" y="606.79" width="2.2" height="2" fill="#ea4a2a" rx="0.6"/>
<path d="M648 614.8 L770.5 614.8" fill="none" stroke="#2c5fd8" stroke-width="0.7" opacity="0.65"/>
<rect x="654.1" y="613.8" width="2.2" height="2" fill="#2c5fd8" rx="0.6"/>
<rect x="658.2" y="613.8" width="2.2" height="2" fill="#2c5fd8" rx="0.6"/>
<rect x="660.9" y="613.8" width="2.2" height="2" fill="#2c5fd8" rx="0.6"/>
<rect x="665.7" y="613.8" width="2.2" height="2" fill="#2c5fd8" rx="0.6"/>
<rect x="672.8" y="613.8" width="2.2" height="2" fill="#2c5fd8" rx="0.6"/>
<rect x="695.2" y="613.8" width="2.2" height="2" fill="#2c5fd8" rx="0.6"/>
<rect x="766.1" y="613.8" width="2.2" height="2" fill="#2c5fd8" rx="0.6"/>
<path d="M556.22 583.22 L561.66 584 L565.55 585.55 L567.88 588.66 L571.77 591.77 L573.02 594.88 L576.44 597.22 L579.55 599.55 L581.88 603.44 L585.77 604.99 L590.44 607.33 L594.32 609.66 L598.21 609.66 L601.32 610.75 L606.77 612.3 L612.99 612.3 L616.1 614.79 L648.29 614.79" fill="none" stroke="#2c5fd8" stroke-width="2.3" stroke-linejoin="round" stroke-linecap="round"/>
<text x="665" y="659.4" font-size="7.8" font-weight="bold" fill="#444" textLength="104.6" lengthAdjust="spacingAndGlyphs" stroke="#444" stroke-width="0.3">Logrank Test P-Value: 0.942</text>
<text x="665" y="673" font-size="7.8" font-weight="bold" fill="#444" textLength="48" lengthAdjust="spacingAndGlyphs" stroke="#444" stroke-width="0.3">Disease Free</text>
<rect x="666.6" y="678.3" width="4" height="3.8" fill="#ea4a2a"/>
<text x="673.1" y="683" font-size="7.8" font-weight="bold" fill="#444" textLength="51.2" lengthAdjust="spacingAndGlyphs" stroke="#444" stroke-width="0.3">Altered group</text>
<rect x="666.6" y="688.5" width="4" height="3.8" fill="#2c5fd8"/>
<text x="673.1" y="692.9" font-size="7.8" font-weight="bold" fill="#444" textLength="60.6" lengthAdjust="spacingAndGlyphs" stroke="#444" stroke-width="0.3">Unaltered group</text>
</g>
<g id="panelF">
<text x="9.7" y="848" font-size="23" font-weight="bold" text-anchor="middle" font-family="Liberation Serif, serif">F</text>
<line x1="36.2" y1="852" x2="36.2" y2="1014.9" stroke="#949494" stroke-width="1"/>
<line x1="35.7" y1="1014.4" x2="239.5" y2="1014.4" stroke="#949494" stroke-width="1"/>
<line x1="34.4" y1="1014.4" x2="36.2" y2="1014.4" stroke="#949494" stroke-width="0.8"/>
<text x="34.2" y="1016.6" font-size="6.2" font-weight="bold" fill="#2a2a2a" text-anchor="end" stroke="#2a2a2a" stroke-width="0.3">0%</text>
<line x1="34.4" y1="998.99" x2="36.2" y2="998.99" stroke="#949494" stroke-width="0.8"/>
<text x="34.2" y="1001.19" font-size="6.2" font-weight="bold" fill="#2a2a2a" text-anchor="end" stroke="#2a2a2a" stroke-width="0.3">10%</text>
<line x1="34.4" y1="983.58" x2="36.2" y2="983.58" stroke="#949494" stroke-width="0.8"/>
<text x="34.2" y="985.78" font-size="6.2" font-weight="bold" fill="#2a2a2a" text-anchor="end" stroke="#2a2a2a" stroke-width="0.3">20%</text>
<line x1="34.4" y1="968.17" x2="36.2" y2="968.17" stroke="#949494" stroke-width="0.8"/>
<text x="34.2" y="970.37" font-size="6.2" font-weight="bold" fill="#2a2a2a" text-anchor="end" stroke="#2a2a2a" stroke-width="0.3">30%</text>
<line x1="34.4" y1="952.76" x2="36.2" y2="952.76" stroke="#949494" stroke-width="0.8"/>
<text x="34.2" y="954.96" font-size="6.2" font-weight="bold" fill="#2a2a2a" text-anchor="end" stroke="#2a2a2a" stroke-width="0.3">40%</text>
<line x1="34.4" y1="937.35" x2="36.2" y2="937.35" stroke="#949494" stroke-width="0.8"/>
<text x="34.2" y="939.55" font-size="6.2" font-weight="bold" fill="#2a2a2a" text-anchor="end" stroke="#2a2a2a" stroke-width="0.3">50%</text>
<line x1="34.4" y1="921.94" x2="36.2" y2="921.94" stroke="#949494" stroke-width="0.8"/>
<text x="34.2" y="924.14" font-size="6.2" font-weight="bold" fill="#2a2a2a" text-anchor="end" stroke="#2a2a2a" stroke-width="0.3">60%</text>
<line x1="34.4" y1="906.53" x2="36.2" y2="906.53" stroke="#949494" stroke-width="0.8"/>
<text x="34.2" y="908.73" font-size="6.2" font-weight="bold" fill="#2a2a2a" text-anchor="end" stroke="#2a2a2a" stroke-width="0.3">70%</text>
<line x1="34.4" y1="891.12" x2="36.2" y2="891.12" stroke="#949494" stroke-width="0.8"/>
<text x="34.2" y="893.32" font-size="6.2" font-weight="bold" fill="#2a2a2a" text-anchor="end" stroke="#2a2a2a" stroke-width="0.3">80%</text>
<line x1="34.4" y1="875.71" x2="36.2" y2="875.71" stroke="#949494" stroke-width="0.8"/>
<text x="34.2" y="877.91" font-size="6.2" font-weight="bold" fill="#2a2a2a" text-anchor="end" stroke="#2a2a2a" stroke-width="0.3">90%</text>
<line x1="34.4" y1="860.3" x2="36.2" y2="860.3" stroke="#949494" stroke-width="0.8"/>
<text x="34.2" y="862.5" font-size="6.2" font-weight="bold" fill="#2a2a2a" text-anchor="end" stroke="#2a2a2a" stroke-width="0.3">100%</text>
<line x1="36.2" y1="1014.4" x2="36.2" y2="1016.2" stroke="#949494" stroke-width="0.8"/>
<text x="36.2" y="1020.2" font-size="6.2" font-weight="bold" fill="#2a2a2a" text-anchor="middle" stroke="#2a2a2a" stroke-width="0.3">0</text>
<line x1="54.25" y1="1014.4" x2="54.25" y2="1016.2" stroke="#949494" stroke-width="0.8"/>
<text x="54.25" y="1020.2" font-size="6.2" font-weight="bold" fill="#2a2a2a" text-anchor="middle" stroke="#2a2a2a" stroke-width="0.3">20</text>
<line x1="72.3" y1="1014.4" x2="72.3" y2="1016.2" stroke="#949494" stroke-width="0.8"/>
<text x="72.3" y="1020.2" font-size="6.2" font-weight="bold" fill="#2a2a2a" text-anchor="middle" stroke="#2a2a2a" stroke-width="0.3">40</text>
<line x1="90.35" y1="1014.4" x2="90.35" y2="1016.2" stroke="#949494" stroke-width="0.8"/>
<text x="90.35" y="1020.2" font-size="6.2" font-weight="bold" fill="#2a2a2a" text-anchor="middle" stroke="#2a2a2a" stroke-width="0.3">60</text>
<line x1="108.4" y1="1014.4" x2="108.4" y2="1016.2" stroke="#949494" stroke-width="0.8"/>
<text x="108.4" y="1020.2" font-size="6.2" font-weight="bold" fill="#2a2a2a" text-anchor="middle" stroke="#2a2a2a" stroke-width="0.3">80</text>
<line x1="126.45" y1="1014.4" x2="126.45" y2="1016.2" stroke="#949494" stroke-width="0.8"/>
<text x="126.45" y="1020.2" font-size="6.2" font-weight="bold" fill="#2a2a2a" text-anchor="middle" stroke="#2a2a2a" stroke-width="0.3">100</text>
<line x1="144.5" y1="1014.4" x2="144.5" y2="1016.2" stroke="#949494" stroke-width="0.8"/>
<text x="144.5" y="1020.2" font-size="6.2" font-weight="bold" fill="#2a2a2a" text-anchor="middle" stroke="#2a2a2a" stroke-width="0.3">120</text>
<line x1="162.55" y1="1014.4" x2="162.55" y2="1016.2" stroke="#949494" stroke-width="0.8"/>
<text x="162.55" y="1020.2" font-size="6.2" font-weight="bold" fill="#2a2a2a" text-anchor="middle" stroke="#2a2a2a" stroke-width="0.3">140</text>
<line x1="180.6" y1="1014.4" x2="180.6" y2="1016.2" stroke="#949494" stroke-width="0.8"/>
<text x="180.6" y="1020.2" font-size="6.2" font-weight="bold" fill="#2a2a2a" text-anchor="middle" stroke="#2a2a2a" stroke-width="0.3">160</text>
<line x1="198.65" y1="1014.4" x2="198.65" y2="1016.2" stroke="#949494" stroke-width="0.8"/>
<text x="198.65" y="1020.2" font-size="6.2" font-weight="bold" fill="#2a2a2a" text-anchor="middle" stroke="#2a2a2a" stroke-width="0.3">180</text>
<line x1="216.7" y1="1014.4" x2="216.7" y2="1016.2" stroke="#949494" stroke-width="0.8"/>
<text x="216.7" y="1020.2" font-size="6.2" font-weight="bold" fill="#2a2a2a" text-anchor="middle" stroke="#2a2a2a" stroke-width="0.3">200</text>
<line x1="234.75" y1="1014.4" x2="234.75" y2="1016.2" stroke="#949494" stroke-width="0.8"/>
<text x="234.75" y="1020.2" font-size="6.2" font-weight="bold" fill="#2a2a2a" text-anchor="middle" stroke="#2a2a2a" stroke-width="0.3">220</text>
<text x="153" y="858.4" font-size="10.5" font-weight="bold" fill="#111" text-anchor="middle" stroke="#111" stroke-width="0.25">UCEC</text>
<text x="79" y="1031.8" font-size="7.6" font-weight="bold" fill="#444" textLength="120.5" lengthAdjust="spacingAndGlyphs" stroke="#444" stroke-width="0.3">disease-specific survival(Months)</text>
<text x="19.6" y="937.8" font-size="7.8" font-weight="bold" fill="#222" text-anchor="middle" transform="rotate(-90 19.6 937.8)" textLength="57.7" lengthAdjust="spacingAndGlyphs" stroke="#222" stroke-width="0.3">Disease-specific</text>
<path d="M36.2 860.24 L152.7 860.24" fill="none" stroke="#ea4a2a" stroke-width="0.7" opacity="0.65"/>
<rect x="43.21" y="859.24" width="2.2" height="2" fill="#ea4a2a" rx="0.6"/>
<rect x="47.87" y="859.24" width="2.2" height="2" fill="#ea4a2a" rx="0.6"/>
<rect x="51.14" y="859.24" width="2.2" height="2" fill="#ea4a2a" rx="0.6"/>
<rect x="55.03" y="859.24" width="2.2" height="2" fill="#ea4a2a" rx="0.6"/>
<rect x="59.23" y="859.24" width="2.2" height="2" fill="#ea4a2a" rx="0.6"/>
<rect x="61.87" y="859.24" width="2.2" height="2" fill="#ea4a2a" rx="0.6"/>
<rect x="63.43" y="859.24" width="2.2" height="2" fill="#ea4a2a" rx="0.6"/>
<rect x="65.45" y="859.24" width="2.2" height="2" fill="#ea4a2a" rx="0.6"/>
<rect x="69.65" y="859.24" width="2.2" height="2" fill="#ea4a2a" rx="0.6"/>
<rect x="70.58" y="859.24" width="2.2" height="2" fill="#ea4a2a" rx="0.6"/>
<rect x="75.56" y="859.24" width="2.2" height="2" fill="#ea4a2a" rx="0.6"/>
<rect x="77.42" y="859.24" width="2.2" height="2" fill="#ea4a2a" rx="0.6"/>
<rect x="86.44" y="859.24" width="2.2" height="2" fill="#ea4a2a" rx="0.6"/>
<rect x="88.78" y="859.24" width="2.2" height="2" fill="#ea4a2a" rx="0.6"/>
<rect x="90.33" y="859.24" width="2.2" height="2" fill="#ea4a2a" rx="0.6"/>
<rect x="91.89" y="859.24" width="2.2" height="2" fill="#ea4a2a" rx="0.6"/>
<rect x="96.09" y="859.24" width="2.2" height="2" fill="#ea4a2a" rx="0.6"/>
<rect x="125.32" y="859.24" width="2.2" height="2" fill="#ea4a2a" rx="0.6"/>
<rect x="130.77" y="859.24" width="2.2" height="2" fill="#ea4a2a" rx="0.6"/>
<rect x="132.79" y="859.24" width="2.2" height="2" fill="#ea4a2a" rx="0.6"/>
<rect x="151.6" y="859.24" width="2.2" height="2" fill="#ea4a2a" rx="0.6"/>
<path d="M124.09 892.12 L127.67 892.12 L127.67 901.3 L239.3 901.3" fill="none" stroke="#2c5fd8" stroke-width="0.7" opacity="0.65"/>
<rect x="129.68" y="900.3" width="2.2" height="2" fill="#2c5fd8" rx="0.6"/>
<rect x="133.88" y="900.3" width="2.2" height="2" fill="#2c5fd8" rx="0.6"/>
<rect x="136.21" y="900.3" width="2.2" height="2" fill="#2c5fd8" rx="0.6"/>
<rect x="137.76" y="900.3" width="2.2" height="2" fill="#2c5fd8" rx="0.6"/>
<rect x="140.88" y="900.3" width="2.2" height="2" fill="#2c5fd8" rx="0.6"/>
<rect x="147.2" y="900.3" width="2.2" height="2" fill="#2c5fd8" rx="0.6"/>
<rect x="157.4" y="900.3" width="2.2" height="2" fill="#2c5fd8" rx="0.6"/>
<rect x="168.6" y="900.3" width="2.2" height="2" fill="#2c5fd8" rx="0.6"/>
<rect x="201.5" y="900.3" width="2.2" height="2" fill="#2c5fd8" rx="0.6"/>
<rect x="237.4" y="900.3" width="2.2" height="2" fill="#2c5fd8" rx="0.6"/>
<path d="M36.22 860.24 L44 862.88 L50.22 867.55 L56.44 871.44 L62.66 874.55 L64.99 878.44 L68.88 882.01 L71.99 882.33 L76.66 884.66 L82.1 888.55 L89.1 888.55 L92.21 890.1 L104.65 890.1 L106.21 892.12 L124.09 892.12" fill="none" stroke="#2c5fd8" stroke-width="2.3" stroke-linejoin="round" stroke-linecap="round"/>
<text x="141.8" y="923.8" font-size="7.8" fill="#111" textLength="98.1" lengthAdjust="spacingAndGlyphs" stroke="#111" stroke-width="0.3">Logrank Test P-Value: 0.0306</text>
<text x="141.8" y="934.6" font-size="6.8" fill="#222" textLength="44.1" lengthAdjust="spacingAndGlyphs" stroke="#222" stroke-width="0.3">Disease-specific</text>
<rect x="141.9" y="938.6" width="4" height="3.8" fill="#ea4a2a"/>
<text x="148.6" y="943.2" font-size="7.4" fill="#222" textLength="42.1" lengthAdjust="spacingAndGlyphs" stroke="#222" stroke-width="0.3">Altered group</text>
<rect x="141.9" y="948.1" width="4" height="3.8" fill="#2c5fd8"/>
<text x="148.6" y="952.8" font-size="7.4" fill="#222" textLength="51" lengthAdjust="spacingAndGlyphs" stroke="#222" stroke-width="0.3">Unaltered group</text>
</g>
<g id="panelG">
<text x="273.9" y="853.1" font-size="23" font-weight="bold" text-anchor="middle" font-family="Liberation Serif, serif">G</text>
<line x1="293.6" y1="859" x2="293.6" y2="1016.3" stroke="#949494" stroke-width="1"/>
<line x1="293.1" y1="1015.8" x2="491.2" y2="1015.8" stroke="#949494" stroke-width="1"/>
<line x1="291.8" y1="1015.8" x2="293.6" y2="1015.8" stroke="#949494" stroke-width="0.8"/>
<text x="291.7" y="1018" font-size="6.2" font-weight="bold" fill="#2a2a2a" text-anchor="end" stroke="#2a2a2a" stroke-width="0.3">0%</text>
<line x1="291.8" y1="1000.9" x2="293.6" y2="1000.9" stroke="#949494" stroke-width="0.8"/>
<text x="291.7" y="1003.1" font-size="6.2" font-weight="bold" fill="#2a2a2a" text-anchor="end" stroke="#2a2a2a" stroke-width="0.3">10%</text>
<line x1="291.8" y1="986" x2="293.6" y2="986" stroke="#949494" stroke-width="0.8"/>
<text x="291.7" y="988.2" font-size="6.2" font-weight="bold" fill="#2a2a2a" text-anchor="end" stroke="#2a2a2a" stroke-width="0.3">20%</text>
<line x1="291.8" y1="971.1" x2="293.6" y2="971.1" stroke="#949494" stroke-width="0.8"/>
<text x="291.7" y="973.3" font-size="6.2" font-weight="bold" fill="#2a2a2a" text-anchor="end" stroke="#2a2a2a" stroke-width="0.3">30%</text>
<line x1="291.8" y1="956.2" x2="293.6" y2="956.2" stroke="#949494" stroke-width="0.8"/>
<text x="291.7" y="958.4" font-size="6.2" font-weight="bold" fill="#2a2a2a" text-anchor="end" stroke="#2a2a2a" stroke-width="0.3">40%</text>
<line x1="291.8" y1="941.3" x2="293.6" y2="941.3" stroke="#949494" stroke-width="0.8"/>
<text x="291.7" y="943.5" font-size="6.2" font-weight="bold" fill="#2a2a2a" text-anchor="end" stroke="#2a2a2a" stroke-width="0.3">50%</text>
<line x1="291.8" y1="926.4" x2="293.6" y2="926.4" stroke="#949494" stroke-width="0.8"/>
<text x="291.7" y="928.6" font-size="6.2" font-weight="bold" fill="#2a2a2a" text-anchor="end" stroke="#2a2a2a" stroke-width="0.3">60%</text>
<line x1="291.8" y1="911.5" x2="293.6" y2="911.5" stroke="#949494" stroke-width="0.8"/>
<text x="291.7" y="913.7" font-size="6.2" font-weight="bold" fill="#2a2a2a" text-anchor="end" stroke="#2a2a2a" stroke-width="0.3">70%</text>
<line x1="291.8" y1="896.6" x2="293.6" y2="896.6" stroke="#949494" stroke-width="0.8"/>
<text x="291.7" y="898.8" font-size="6.2" font-weight="bold" fill="#2a2a2a" text-anchor="end" stroke="#2a2a2a" stroke-width="0.3">80%</text>
<line x1="291.8" y1="881.7" x2="293.6" y2="881.7" stroke="#949494" stroke-width="0.8"/>
<text x="291.7" y="883.9" font-size="6.2" font-weight="bold" fill="#2a2a2a" text-anchor="end" stroke="#2a2a2a" stroke-width="0.3">90%</text>
<line x1="291.8" y1="866.8" x2="293.6" y2="866.8" stroke="#949494" stroke-width="0.8"/>
<text x="291.7" y="869" font-size="6.2" font-weight="bold" fill="#2a2a2a" text-anchor="end" stroke="#2a2a2a" stroke-width="0.3">100%</text>
<line x1="293.6" y1="1015.8" x2="293.6" y2="1017.6" stroke="#949494" stroke-width="0.8"/>
<text x="293.6" y="1023.2" font-size="6.2" font-weight="bold" fill="#2a2a2a" text-anchor="middle" stroke="#2a2a2a" stroke-width="0.3">0</text>
<line x1="311" y1="1015.8" x2="311" y2="1017.6" stroke="#949494" stroke-width="0.8"/>
<text x="311" y="1023.2" font-size="6.2" font-weight="bold" fill="#2a2a2a" text-anchor="middle" stroke="#2a2a2a" stroke-width="0.3">20</text>
<line x1="328.4" y1="1015.8" x2="328.4" y2="1017.6" stroke="#949494" stroke-width="0.8"/>
<text x="328.4" y="1023.2" font-size="6.2" font-weight="bold" fill="#2a2a2a" text-anchor="middle" stroke="#2a2a2a" stroke-width="0.3">40</text>
<line x1="345.8" y1="1015.8" x2="345.8" y2="1017.6" stroke="#949494" stroke-width="0.8"/>
<text x="345.8" y="1023.2" font-size="6.2" font-weight="bold" fill="#2a2a2a" text-anchor="middle" stroke="#2a2a2a" stroke-width="0.3">60</text>
<line x1="363.2" y1="1015.8" x2="363.2" y2="1017.6" stroke="#949494" stroke-width="0.8"/>
<text x="363.2" y="1023.2" font-size="6.2" font-weight="bold" fill="#2a2a2a" text-anchor="middle" stroke="#2a2a2a" stroke-width="0.3">80</text>
<line x1="380.6" y1="1015.8" x2="380.6" y2="1017.6" stroke="#949494" stroke-width="0.8"/>
<text x="380.6" y="1023.2" font-size="6.2" font-weight="bold" fill="#2a2a2a" text-anchor="middle" stroke="#2a2a2a" stroke-width="0.3">100</text>
<line x1="398" y1="1015.8" x2="398" y2="1017.6" stroke="#949494" stroke-width="0.8"/>
<text x="398" y="1023.2" font-size="6.2" font-weight="bold" fill="#2a2a2a" text-anchor="middle" stroke="#2a2a2a" stroke-width="0.3">120</text>
<line x1="415.4" y1="1015.8" x2="415.4" y2="1017.6" stroke="#949494" stroke-width="0.8"/>
<text x="415.4" y="1023.2" font-size="6.2" font-weight="bold" fill="#2a2a2a" text-anchor="middle" stroke="#2a2a2a" stroke-width="0.3">140</text>
<line x1="432.8" y1="1015.8" x2="432.8" y2="1017.6" stroke="#949494" stroke-width="0.8"/>
<text x="432.8" y="1023.2" font-size="6.2" font-weight="bold" fill="#2a2a2a" text-anchor="middle" stroke="#2a2a2a" stroke-width="0.3">160</text>
<line x1="450.2" y1="1015.8" x2="450.2" y2="1017.6" stroke="#949494" stroke-width="0.8"/>
<text x="450.2" y="1023.2" font-size="6.2" font-weight="bold" fill="#2a2a2a" text-anchor="middle" stroke="#2a2a2a" stroke-width="0.3">180</text>
<line x1="467.6" y1="1015.8" x2="467.6" y2="1017.6" stroke="#949494" stroke-width="0.8"/>
<text x="467.6" y="1023.2" font-size="6.2" font-weight="bold" fill="#2a2a2a" text-anchor="middle" stroke="#2a2a2a" stroke-width="0.3">200</text>
<line x1="485" y1="1015.8" x2="485" y2="1017.6" stroke="#949494" stroke-width="0.8"/>
<text x="485" y="1023.2" font-size="6.2" font-weight="bold" fill="#2a2a2a" text-anchor="middle" stroke="#2a2a2a" stroke-width="0.3">220</text>
<text x="382.2" y="863.9" font-size="9.9" font-weight="bold" fill="#111" text-anchor="middle" stroke="#111" stroke-width="0.25">UCEC</text>
<text x="365.4" y="1032.4" font-size="7.4" font-weight="bold" fill="#444" textLength="87.6" lengthAdjust="spacingAndGlyphs" stroke="#444" stroke-width="0.3">Overall Survival (Months)</text>
<text x="278" y="936.8" font-size="7.4" font-weight="bold" fill="#222" text-anchor="middle" transform="rotate(-90 278 936.8)" textLength="103.6" lengthAdjust="spacingAndGlyphs" stroke="#222" stroke-width="0.3">Probability of Overall Survival</text>
<path d="M293.8 866.84 L321.75 866.84 L321.75 874.58 L386.9 874.58 L386.9 921.55 L406.6 921.55" fill="none" stroke="#ea4a2a" stroke-width="0.7" opacity="0.65"/>
<rect x="300.45" y="865.84" width="2.2" height="2" fill="#ea4a2a" rx="0.6"/>
<rect x="304.99" y="865.84" width="2.2" height="2" fill="#ea4a2a" rx="0.6"/>
<rect x="308.36" y="865.84" width="2.2" height="2" fill="#ea4a2a" rx="0.6"/>
<rect x="312.23" y="865.84" width="2.2" height="2" fill="#ea4a2a" rx="0.6"/>
<rect x="316.78" y="865.84" width="2.2" height="2" fill="#ea4a2a" rx="0.6"/>
<rect x="318.97" y="865.84" width="2.2" height="2" fill="#ea4a2a" rx="0.6"/>
<rect x="320.15" y="865.84" width="2.2" height="2" fill="#ea4a2a" rx="0.6"/>
<rect x="322.33" y="873.58" width="2.2" height="2" fill="#ea4a2a" rx="0.6"/>
<rect x="326.04" y="873.58" width="2.2" height="2" fill="#ea4a2a" rx="0.6"/>
<rect x="327.22" y="873.58" width="2.2" height="2" fill="#ea4a2a" rx="0.6"/>
<rect x="331.93" y="873.58" width="2.2" height="2" fill="#ea4a2a" rx="0.6"/>
<rect x="333.11" y="873.58" width="2.2" height="2" fill="#ea4a2a" rx="0.6"/>
<rect x="342.54" y="873.58" width="2.2" height="2" fill="#ea4a2a" rx="0.6"/>
<rect x="345.06" y="873.58" width="2.2" height="2" fill="#ea4a2a" rx="0.6"/>
<rect x="346.24" y="873.58" width="2.2" height="2" fill="#ea4a2a" rx="0.6"/>
<rect x="347.42" y="873.58" width="2.2" height="2" fill="#ea4a2a" rx="0.6"/>
<rect x="352.13" y="873.58" width="2.2" height="2" fill="#ea4a2a" rx="0.6"/>
<rect x="380.25" y="873.58" width="2.2" height="2" fill="#ea4a2a" rx="0.6"/>
<rect x="387.49" y="920.55" width="2.2" height="2" fill="#ea4a2a" rx="0.6"/>
<rect x="405.5" y="920.55" width="2.2" height="2" fill="#ea4a2a" rx="0.6"/>
<path d="M379.33 909.76 L382.19 909.76 L382.19 918.18 L389.43 918.18 L389.43 927.1 L491 927.1" fill="none" stroke="#2c5fd8" stroke-width="0.7" opacity="0.65"/>
<rect x="384.46" y="917.18" width="2.2" height="2" fill="#2c5fd8" rx="0.6"/>
<rect x="388.33" y="926.1" width="2.2" height="2" fill="#2c5fd8" rx="0.6"/>
<rect x="390.85" y="926.1" width="2.2" height="2" fill="#2c5fd8" rx="0.6"/>
<rect x="395.06" y="926.1" width="2.2" height="2" fill="#2c5fd8" rx="0.6"/>
<rect x="401.8" y="926.1" width="2.2" height="2" fill="#2c5fd8" rx="0.6"/>
<rect x="411.1" y="926.1" width="2.2" height="2" fill="#2c5fd8" rx="0.6"/>
<rect x="422" y="926.1" width="2.2" height="2" fill="#2c5fd8" rx="0.6"/>
<rect x="454.2" y="926.1" width="2.2" height="2" fill="#2c5fd8" rx="0.6"/>
<rect x="488.1" y="926.1" width="2.2" height="2" fill="#2c5fd8" rx="0.6"/>
<path d="M293.8 866.84 L298.52 870.2 L301.89 871.55 L306.94 876.94 L313.67 881.99 L320.4 887.88 L323.77 892.93 L330.51 897.14 L337.24 901.85 L343.97 903.03 L350.71 906.06 L356.6 906.4 L360.81 909.76 L379.33 909.76" fill="none" stroke="#2c5fd8" stroke-width="2.3" stroke-linejoin="round" stroke-linecap="round"/>
<text x="390.1" y="939.8" font-size="7.4" font-weight="bold" fill="#444" textLength="100.1" lengthAdjust="spacingAndGlyphs" stroke="#444" stroke-width="0.3">Logrank Test P-Value: 0.0724</text>
<text x="390.1" y="949" font-size="7.4" font-weight="bold" fill="#444" textLength="24.5" lengthAdjust="spacingAndGlyphs" stroke="#444" stroke-width="0.3">Overall</text>
<rect x="390.7" y="953.5" width="4" height="3.8" fill="#ea4a2a"/>
<text x="398.3" y="957.7" font-size="7.4" font-weight="bold" fill="#444" textLength="47.5" lengthAdjust="spacingAndGlyphs" stroke="#444" stroke-width="0.3">Altered group</text>
<rect x="390.7" y="962.3" width="4" height="3.8" fill="#2c5fd8"/>
<text x="398.3" y="966.6" font-size="7.4" font-weight="bold" fill="#444" textLength="56" lengthAdjust="spacingAndGlyphs" stroke="#444" stroke-width="0.3">Unaltered group</text>
</g>
<g id="panelH">
<text x="529.1" y="855.6" font-size="23" font-weight="bold" text-anchor="middle" font-family="Liberation Serif, serif">H</text>
<line x1="559" y1="856.6" x2="559" y2="1019.7" stroke="#949494" stroke-width="1"/>
<line x1="558.5" y1="1019.2" x2="764.8" y2="1019.2" stroke="#949494" stroke-width="1"/>
<line x1="557.2" y1="1019.2" x2="559" y2="1019.2" stroke="#949494" stroke-width="0.8"/>
<text x="556.8" y="1021.4" font-size="6.2" font-weight="bold" fill="#2a2a2a" text-anchor="end" stroke="#2a2a2a" stroke-width="0.3">0%</text>
<line x1="557.2" y1="1003.69" x2="559" y2="1003.69" stroke="#949494" stroke-width="0.8"/>
<text x="556.8" y="1005.89" font-size="6.2" font-weight="bold" fill="#2a2a2a" text-anchor="end" stroke="#2a2a2a" stroke-width="0.3">10%</text>
<line x1="557.2" y1="988.18" x2="559" y2="988.18" stroke="#949494" stroke-width="0.8"/>
<text x="556.8" y="990.38" font-size="6.2" font-weight="bold" fill="#2a2a2a" text-anchor="end" stroke="#2a2a2a" stroke-width="0.3">20%</text>
<line x1="557.2" y1="972.67" x2="559" y2="972.67" stroke="#949494" stroke-width="0.8"/>
<text x="556.8" y="974.87" font-size="6.2" font-weight="bold" fill="#2a2a2a" text-anchor="end" stroke="#2a2a2a" stroke-width="0.3">30%</text>
<line x1="557.2" y1="957.16" x2="559" y2="957.16" stroke="#949494" stroke-width="0.8"/>
<text x="556.8" y="959.36" font-size="6.2" font-weight="bold" fill="#2a2a2a" text-anchor="end" stroke="#2a2a2a" stroke-width="0.3">40%</text>
<line x1="557.2" y1="941.65" x2="559" y2="941.65" stroke="#949494" stroke-width="0.8"/>
<text x="556.8" y="943.85" font-size="6.2" font-weight="bold" fill="#2a2a2a" text-anchor="end" stroke="#2a2a2a" stroke-width="0.3">50%</text>
<line x1="557.2" y1="926.14" x2="559" y2="926.14" stroke="#949494" stroke-width="0.8"/>
<text x="556.8" y="928.34" font-size="6.2" font-weight="bold" fill="#2a2a2a" text-anchor="end" stroke="#2a2a2a" stroke-width="0.3">60%</text>
<line x1="557.2" y1="910.63" x2="559" y2="910.63" stroke="#949494" stroke-width="0.8"/>
<text x="556.8" y="912.83" font-size="6.2" font-weight="bold" fill="#2a2a2a" text-anchor="end" stroke="#2a2a2a" stroke-width="0.3">70%</text>
<line x1="557.2" y1="895.12" x2="559" y2="895.12" stroke="#949494" stroke-width="0.8"/>
<text x="556.8" y="897.32" font-size="6.2" font-weight="bold" fill="#2a2a2a" text-anchor="end" stroke="#2a2a2a" stroke-width="0.3">80%</text>
<line x1="557.2" y1="879.61" x2="559" y2="879.61" stroke="#949494" stroke-width="0.8"/>
<text x="556.8" y="881.81" font-size="6.2" font-weight="bold" fill="#2a2a2a" text-anchor="end" stroke="#2a2a2a" stroke-width="0.3">90%</text>
<line x1="557.2" y1="864.1" x2="559" y2="864.1" stroke="#949494" stroke-width="0.8"/>
<text x="556.8" y="866.3" font-size="6.2" font-weight="bold" fill="#2a2a2a" text-anchor="end" stroke="#2a2a2a" stroke-width="0.3">100%</text>
<line x1="559" y1="1019.2" x2="559" y2="1021" stroke="#949494" stroke-width="0.8"/>
<text x="559" y="1026.6" font-size="6.2" font-weight="bold" fill="#2a2a2a" text-anchor="middle" stroke="#2a2a2a" stroke-width="0.3">0</text>
<line x1="577.14" y1="1019.2" x2="577.14" y2="1021" stroke="#949494" stroke-width="0.8"/>
<text x="577.14" y="1026.6" font-size="6.2" font-weight="bold" fill="#2a2a2a" text-anchor="middle" stroke="#2a2a2a" stroke-width="0.3">20</text>
<line x1="595.28" y1="1019.2" x2="595.28" y2="1021" stroke="#949494" stroke-width="0.8"/>
<text x="595.28" y="1026.6" font-size="6.2" font-weight="bold" fill="#2a2a2a" text-anchor="middle" stroke="#2a2a2a" stroke-width="0.3">40</text>
<line x1="613.42" y1="1019.2" x2="613.42" y2="1021" stroke="#949494" stroke-width="0.8"/>
<text x="613.42" y="1026.6" font-size="6.2" font-weight="bold" fill="#2a2a2a" text-anchor="middle" stroke="#2a2a2a" stroke-width="0.3">60</text>
<line x1="631.56" y1="1019.2" x2="631.56" y2="1021" stroke="#949494" stroke-width="0.8"/>
<text x="631.56" y="1026.6" font-size="6.2" font-weight="bold" fill="#2a2a2a" text-anchor="middle" stroke="#2a2a2a" stroke-width="0.3">80</text>
<line x1="649.7" y1="1019.2" x2="649.7" y2="1021" stroke="#949494" stroke-width="0.8"/>
<text x="649.7" y="1026.6" font-size="6.2" font-weight="bold" fill="#2a2a2a" text-anchor="middle" stroke="#2a2a2a" stroke-width="0.3">100</text>
<line x1="667.84" y1="1019.2" x2="667.84" y2="1021" stroke="#949494" stroke-width="0.8"/>
<text x="667.84" y="1026.6" font-size="6.2" font-weight="bold" fill="#2a2a2a" text-anchor="middle" stroke="#2a2a2a" stroke-width="0.3">120</text>
<line x1="685.98" y1="1019.2" x2="685.98" y2="1021" stroke="#949494" stroke-width="0.8"/>
<text x="685.98" y="1026.6" font-size="6.2" font-weight="bold" fill="#2a2a2a" text-anchor="middle" stroke="#2a2a2a" stroke-width="0.3">140</text>
<line x1="704.12" y1="1019.2" x2="704.12" y2="1021" stroke="#949494" stroke-width="0.8"/>
<text x="704.12" y="1026.6" font-size="6.2" font-weight="bold" fill="#2a2a2a" text-anchor="middle" stroke="#2a2a2a" stroke-width="0.3">160</text>
<line x1="722.26" y1="1019.2" x2="722.26" y2="1021" stroke="#949494" stroke-width="0.8"/>
<text x="722.26" y="1026.6" font-size="6.2" font-weight="bold" fill="#2a2a2a" text-anchor="middle" stroke="#2a2a2a" stroke-width="0.3">180</text>
<line x1="740.4" y1="1019.2" x2="740.4" y2="1021" stroke="#949494" stroke-width="0.8"/>
<text x="740.4" y="1026.6" font-size="6.2" font-weight="bold" fill="#2a2a2a" text-anchor="middle" stroke="#2a2a2a" stroke-width="0.3">200</text>
<line x1="758.54" y1="1019.2" x2="758.54" y2="1021" stroke="#949494" stroke-width="0.8"/>
<text x="758.54" y="1026.6" font-size="6.2" font-weight="bold" fill="#2a2a2a" text-anchor="middle" stroke="#2a2a2a" stroke-width="0.3">220</text>
<text x="663.8" y="867.8" font-size="10.5" font-weight="bold" fill="#111" text-anchor="middle" stroke="#111" stroke-width="0.25">UCEC</text>
<text x="611.8" y="1033.5" font-size="7.6" font-weight="bold" fill="#444" textLength="115.4" lengthAdjust="spacingAndGlyphs" stroke="#444" stroke-width="0.3">Progress Free Survival (Months)</text>
<text x="543.1" y="932.6" font-size="7.6" font-weight="bold" fill="#222" text-anchor="middle" transform="rotate(-90 543.1 932.6)" textLength="61.8" lengthAdjust="spacingAndGlyphs" stroke="#222" stroke-width="0.3">Progression Free</text>
<path d="M559.26 863.97 L568.52 863.97 L568.86 880.81 L580.81 880.81 L581.14 886.7 L626.6 886.7 L626.6 919.02 L676.3 919.02" fill="none" stroke="#ea4a2a" stroke-width="0.7" opacity="0.65"/>
<rect x="565.74" y="862.97" width="2.2" height="2" fill="#ea4a2a" rx="0.6"/>
<rect x="578.36" y="879.81" width="2.2" height="2" fill="#ea4a2a" rx="0.6"/>
<rect x="581.73" y="885.7" width="2.2" height="2" fill="#ea4a2a" rx="0.6"/>
<rect x="583.75" y="885.7" width="2.2" height="2" fill="#ea4a2a" rx="0.6"/>
<rect x="585.6" y="885.7" width="2.2" height="2" fill="#ea4a2a" rx="0.6"/>
<rect x="587.62" y="885.7" width="2.2" height="2" fill="#ea4a2a" rx="0.6"/>
<rect x="593.01" y="885.7" width="2.2" height="2" fill="#ea4a2a" rx="0.6"/>
<rect x="599.07" y="885.7" width="2.2" height="2" fill="#ea4a2a" rx="0.6"/>
<rect x="600.75" y="885.7" width="2.2" height="2" fill="#ea4a2a" rx="0.6"/>
<rect x="610.35" y="885.7" width="2.2" height="2" fill="#ea4a2a" rx="0.6"/>
<rect x="612.87" y="885.7" width="2.2" height="2" fill="#ea4a2a" rx="0.6"/>
<rect x="619.61" y="885.7" width="2.2" height="2" fill="#ea4a2a" rx="0.6"/>
<rect x="648.56" y="918.02" width="2.2" height="2" fill="#ea4a2a" rx="0.6"/>
<rect x="654.12" y="918.02" width="2.2" height="2" fill="#ea4a2a" rx="0.6"/>
<rect x="675.2" y="918.02" width="2.2" height="2" fill="#ea4a2a" rx="0.6"/>
<path d="M646.8 921.21 L764.5 921.21" fill="none" stroke="#2c5fd8" stroke-width="0.7" opacity="0.65"/>
<rect x="649.91" y="920.21" width="2.2" height="2" fill="#2c5fd8" rx="0.6"/>
<rect x="653.28" y="920.21" width="2.2" height="2" fill="#2c5fd8" rx="0.6"/>
<rect x="658.33" y="920.21" width="2.2" height="2" fill="#2c5fd8" rx="0.6"/>
<rect x="660.01" y="920.21" width="2.2" height="2" fill="#2c5fd8" rx="0.6"/>
<rect x="663.3" y="920.21" width="2.2" height="2" fill="#2c5fd8" rx="0.6"/>
<rect x="670.1" y="920.21" width="2.2" height="2" fill="#2c5fd8" rx="0.6"/>
<rect x="681.3" y="920.21" width="2.2" height="2" fill="#2c5fd8" rx="0.6"/>
<rect x="693.2" y="920.21" width="2.2" height="2" fill="#2c5fd8" rx="0.6"/>
<rect x="761.7" y="920.21" width="2.2" height="2" fill="#2c5fd8" rx="0.6"/>
<path d="M559.26 864.31 L563.47 867.68 L566.84 871.89 L570.2 878.62 L574.41 883.67 L575.25 887.88 L580.3 894.61 L585.35 900.51 L591.25 904.71 L595.45 908.08 L600.51 910.27 L607.24 911.95 L614.81 912.29 L616.5 914.81 L622.39 915.15 L624.07 916.84 L638.38 916.84 L639.23 921.21 L646.8 921.21" fill="none" stroke="#2c5fd8" stroke-width="2.3" stroke-linejoin="round" stroke-linecap="round"/>
<text x="661.7" y="935.5" font-size="7.6" font-weight="bold" fill="#444" textLength="101.1" lengthAdjust="spacingAndGlyphs" stroke="#444" stroke-width="0.3">Logrank Test P-Value: 0.232</text>
<text x="661.7" y="944.8" font-size="7.6" font-weight="bold" fill="#444" textLength="62.3" lengthAdjust="spacingAndGlyphs" stroke="#444" stroke-width="0.3">Progression Free</text>
<rect x="661.9" y="950" width="4" height="3.8" fill="#ea4a2a"/>
<text x="667.4" y="954.7" font-size="7.6" font-weight="bold" fill="#444" textLength="49.6" lengthAdjust="spacingAndGlyphs" stroke="#444" stroke-width="0.3">Altered group</text>
<rect x="661.9" y="959" width="4" height="3.8" fill="#2c5fd8"/>
<text x="667.4" y="963.6" font-size="7.6" font-weight="bold" fill="#444" textLength="58.2" lengthAdjust="spacingAndGlyphs" stroke="#444" stroke-width="0.3">Unaltered group</text>
</g>
</svg>
</body></html>
